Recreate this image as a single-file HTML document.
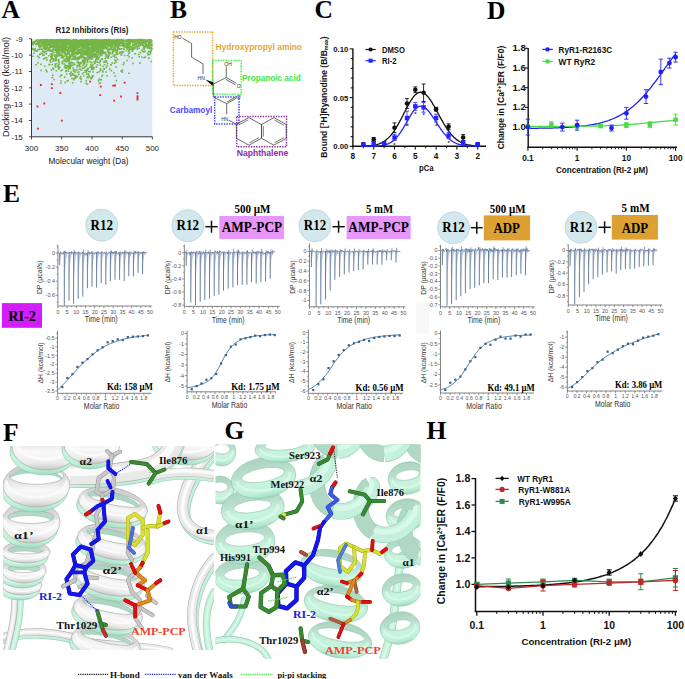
<!DOCTYPE html>
<html><head><meta charset="utf-8"><style>
html,body{margin:0;padding:0;background:#fff;}
body{width:685px;height:679px;overflow:hidden;}
svg{display:block;}
.ls{font-family:'Liberation Sans',sans-serif}
.lf{font-family:'Liberation Serif',serif}
.b{font-weight:bold}
</style></head><body>
<svg width="685" height="679" viewBox="0 0 685 679">
<rect width="685" height="679" fill="#fff"/>
<text x="1.5" y="18.3" class="lf b" font-size="25.5">A</text>
<text x="170" y="18.2" class="lf b" font-size="25.5">B</text>
<text x="314.5" y="18.3" class="lf b" font-size="25.5">C</text>
<text x="487" y="18.6" class="lf b" font-size="25.5">D</text>
<text x="3" y="201.5" class="lf b" font-size="25.5">E</text>
<text x="3" y="441" class="lf b" font-size="25.5">F</text>
<text x="224.5" y="438.8" class="lf b" font-size="25.5">G</text>
<text x="426.5" y="438.8" class="lf b" font-size="25.5">H</text>
<rect x="31.5" y="38.8" width="120.9" height="98.00000000000001" fill="#deebf6"/>
<path d="M59.5 46.4h.1M53.8 45.6h.1M127.4 40.2h.1M113.9 48.1h.1M101.2 79.7h.1M110.6 47.1h.1M106.7 40.1h.1M81.3 43.2h.1M54.5 55.2h.1M84.2 52.9h.1M65.4 43.2h.1M151.9 48.6h.1M69.6 42.7h.1M57.0 40.3h.1M79.9 64.1h.1M121.6 39.6h.1M67.0 67.0h.1M101.6 40.4h.1M125.6 41.4h.1M75.8 44.8h.1M123.1 40.4h.1M85.2 60.2h.1M83.4 50.3h.1M92.2 41.3h.1M45.6 43.3h.1M113.4 41.9h.1M128.6 41.6h.1M57.0 44.1h.1M109.1 40.5h.1M57.3 42.3h.1M71.3 43.9h.1M104.3 42.2h.1M76.4 47.4h.1M90.0 50.2h.1M53.6 41.0h.1M130.4 41.2h.1M94.9 54.9h.1M55.3 65.4h.1M104.5 44.6h.1M135.8 41.0h.1M62.6 57.6h.1M67.0 41.8h.1M134.6 44.5h.1M92.8 69.1h.1M96.7 46.1h.1M80.5 42.1h.1M67.7 44.8h.1M150.0 44.9h.1M102.2 41.1h.1M73.3 39.8h.1M116.2 61.9h.1M61.4 52.8h.1M42.7 54.2h.1M116.6 50.2h.1M74.0 54.2h.1M136.8 42.4h.1M135.9 44.0h.1M77.7 50.9h.1M41.2 70.4h.1M119.5 42.7h.1M101.7 45.3h.1M41.6 39.8h.1M89.6 42.9h.1M91.6 51.1h.1M62.4 39.7h.1M67.9 52.7h.1M102.8 49.9h.1M122.3 52.9h.1M70.9 46.5h.1M142.0 50.2h.1M65.5 49.3h.1M96.3 59.8h.1M117.5 59.4h.1M99.0 41.6h.1M76.1 46.5h.1M91.2 44.2h.1M150.2 42.6h.1M94.4 40.0h.1M36.5 44.4h.1M79.8 41.5h.1M74.3 39.9h.1M60.2 41.1h.1M61.5 49.6h.1M129.1 56.9h.1M55.6 45.2h.1M60.5 39.7h.1M75.4 43.7h.1M64.6 52.5h.1M49.6 43.3h.1M141.1 40.1h.1M118.8 40.5h.1M53.2 47.6h.1M77.1 50.5h.1M127.8 55.5h.1M69.6 54.8h.1M109.1 49.9h.1M66.0 65.3h.1M149.7 43.4h.1M70.2 68.5h.1M73.6 40.7h.1M41.3 39.8h.1M39.2 40.7h.1M66.4 57.0h.1M95.1 54.2h.1M114.8 60.0h.1M100.9 69.4h.1M83.7 44.1h.1M108.7 45.7h.1M99.2 43.5h.1M106.3 55.9h.1M56.7 56.6h.1M94.9 49.3h.1M52.2 47.0h.1M72.6 82.8h.1M45.2 45.1h.1M102.8 50.8h.1M55.6 66.9h.1M64.0 46.5h.1M72.9 46.7h.1M140.4 42.9h.1M90.1 71.6h.1M108.4 52.1h.1M84.3 54.7h.1M94.1 44.7h.1M44.2 48.2h.1M61.2 41.8h.1M77.5 47.0h.1M54.5 41.1h.1M93.2 51.3h.1M95.5 61.1h.1M135.1 41.0h.1M129.5 52.2h.1M58.0 41.9h.1M138.8 40.3h.1M126.4 46.9h.1M114.2 43.5h.1M46.7 43.2h.1M141.7 56.9h.1M103.5 46.2h.1M92.3 53.4h.1M88.5 40.1h.1M93.7 49.4h.1M83.3 42.3h.1M116.2 57.4h.1M103.1 53.4h.1M71.0 47.3h.1M50.5 39.7h.1M133.6 40.7h.1M91.9 55.8h.1M83.3 49.0h.1M91.6 66.6h.1M116.7 52.8h.1M80.4 51.6h.1M119.9 41.5h.1M121.5 48.8h.1M80.5 69.3h.1M115.5 49.7h.1M80.6 56.4h.1M74.1 44.9h.1M100.1 50.0h.1M59.6 67.4h.1M72.3 52.9h.1M95.9 45.1h.1M109.1 49.4h.1M150.0 39.7h.1M120.8 41.4h.1M80.1 40.3h.1M71.2 43.1h.1M98.0 47.2h.1M129.4 40.0h.1M123.3 39.9h.1M50.8 44.5h.1M86.0 48.4h.1M38.6 42.8h.1M60.7 42.9h.1M99.3 43.1h.1M67.3 39.8h.1M66.0 40.1h.1M79.3 69.3h.1M37.6 56.3h.1M55.8 60.2h.1M87.3 49.0h.1M118.9 43.7h.1M130.2 44.6h.1M60.7 41.9h.1M60.8 47.1h.1M46.7 43.8h.1M90.6 50.3h.1M120.3 41.3h.1M50.8 56.7h.1M107.1 43.4h.1M66.9 49.8h.1M122.6 40.9h.1M51.5 69.9h.1M137.7 39.8h.1M75.5 52.1h.1M102.6 47.1h.1M108.2 46.3h.1M76.6 48.0h.1M96.5 44.3h.1M132.9 40.0h.1M90.3 57.6h.1M48.7 43.6h.1M86.7 53.1h.1M70.8 49.3h.1M142.8 42.4h.1M58.2 40.6h.1M90.1 53.8h.1M80.1 42.7h.1M115.4 41.9h.1M69.6 44.9h.1M75.8 41.2h.1M100.3 65.1h.1M141.9 42.5h.1M68.3 44.1h.1M123.3 41.3h.1M59.2 44.0h.1M60.6 41.8h.1M127.9 43.9h.1M99.5 41.6h.1M138.0 41.3h.1M92.5 48.2h.1M128.7 40.0h.1M54.0 52.5h.1M111.4 57.2h.1M97.1 50.6h.1M77.8 43.3h.1M45.4 49.3h.1M80.8 45.0h.1M112.8 44.6h.1M55.7 50.7h.1M142.1 42.3h.1M112.1 54.0h.1M132.3 51.2h.1M108.9 45.7h.1M128.5 42.6h.1M108.7 41.1h.1M61.6 75.0h.1M87.3 44.3h.1M54.9 41.3h.1M46.8 43.9h.1M141.4 39.8h.1M85.1 43.1h.1M103.4 42.0h.1M93.4 43.5h.1M79.6 50.0h.1M89.5 43.4h.1M142.0 41.7h.1M58.8 69.3h.1M80.0 78.1h.1M78.0 49.3h.1M85.9 43.7h.1M111.0 41.7h.1M56.8 53.9h.1M104.8 41.2h.1M82.4 44.7h.1M97.5 50.6h.1M63.7 47.7h.1M58.4 53.3h.1M97.9 58.1h.1M43.2 43.8h.1M108.0 55.9h.1M70.2 58.3h.1M87.3 61.8h.1M73.6 49.5h.1M102.5 43.2h.1M114.9 40.2h.1M43.0 42.5h.1M44.3 42.9h.1M86.1 83.3h.1M110.6 39.7h.1M74.4 50.1h.1M62.3 39.7h.1M128.2 40.9h.1M66.6 44.9h.1M72.4 45.8h.1M62.5 41.9h.1M71.3 75.0h.1M119.0 42.2h.1M42.7 40.6h.1M98.5 51.6h.1M53.2 43.8h.1M103.2 40.5h.1M85.2 46.4h.1M88.5 71.4h.1M45.6 49.4h.1M78.2 44.8h.1M76.2 39.8h.1M58.5 54.2h.1M105.1 39.8h.1M72.3 45.5h.1M69.8 58.1h.1M105.4 41.2h.1M140.7 43.6h.1M65.9 53.5h.1M93.9 54.2h.1M55.3 64.6h.1M55.4 40.4h.1M78.6 50.8h.1M71.3 71.9h.1M67.1 81.0h.1M81.4 70.2h.1M51.3 42.0h.1M151.4 48.0h.1M46.3 51.5h.1M67.7 65.8h.1M59.3 40.4h.1M107.5 63.4h.1M68.7 52.6h.1M77.6 51.2h.1M139.9 40.4h.1M65.8 47.8h.1M72.6 50.0h.1M74.6 53.7h.1M73.7 79.8h.1M88.3 46.3h.1M114.8 49.6h.1M134.9 42.3h.1M33.0 43.7h.1M58.6 61.6h.1M113.4 56.3h.1M103.7 52.6h.1M91.1 50.5h.1M96.4 47.4h.1M96.3 40.2h.1M95.1 42.7h.1M65.3 40.4h.1M148.3 45.0h.1M82.4 61.0h.1M88.9 56.8h.1M140.7 40.1h.1M46.5 44.9h.1M72.4 40.4h.1M130.1 42.3h.1M98.0 49.0h.1M126.9 41.7h.1M88.2 73.8h.1M88.6 42.5h.1M121.9 40.9h.1M74.3 47.7h.1M55.8 58.1h.1M55.9 48.4h.1M84.0 41.1h.1M69.3 66.9h.1M117.7 40.6h.1M144.9 42.5h.1M73.6 42.8h.1M74.9 42.2h.1M63.9 51.3h.1M76.5 53.6h.1M102.8 42.1h.1M109.2 42.2h.1M42.4 43.3h.1M63.5 47.6h.1M63.4 42.7h.1M61.2 42.9h.1M67.6 42.0h.1M150.9 39.8h.1M78.7 74.1h.1M56.0 41.4h.1M109.5 43.2h.1M126.2 43.7h.1M98.3 47.4h.1M52.5 51.7h.1M49.9 46.6h.1M41.8 49.3h.1M93.1 47.5h.1M55.0 39.9h.1M117.9 45.2h.1M53.3 41.0h.1M65.6 47.2h.1M61.9 55.9h.1M85.1 70.3h.1M97.2 56.7h.1M90.7 40.1h.1M94.4 50.8h.1M75.8 40.8h.1M52.2 42.0h.1M109.1 49.1h.1M126.6 40.0h.1M68.1 80.4h.1M90.7 47.8h.1M150.7 40.4h.1M78.4 43.2h.1M48.6 43.2h.1M72.2 46.4h.1M120.2 41.2h.1M95.0 48.8h.1M91.4 44.6h.1M105.4 40.0h.1M74.0 44.9h.1M136.0 44.2h.1M87.4 45.9h.1M77.6 59.3h.1M72.2 44.9h.1M65.6 42.1h.1M74.4 47.6h.1M135.8 40.8h.1M102.4 40.3h.1M75.4 43.7h.1M86.1 46.0h.1M118.0 41.7h.1M95.0 41.5h.1M75.0 58.1h.1M141.2 39.7h.1M71.5 65.8h.1M85.0 58.6h.1M100.3 42.4h.1M86.4 41.7h.1M66.7 53.5h.1M75.3 56.1h.1M49.3 41.3h.1M73.2 45.7h.1M58.8 42.9h.1M55.9 41.7h.1M110.7 46.1h.1M149.5 41.4h.1M142.6 40.8h.1M112.1 62.9h.1M59.9 49.3h.1M83.6 46.9h.1M99.6 43.7h.1M87.0 43.8h.1M57.3 41.3h.1M60.5 40.6h.1M93.7 46.0h.1M47.6 45.3h.1M60.9 40.3h.1M104.0 47.8h.1M87.7 44.6h.1M99.6 62.6h.1M63.2 51.2h.1M81.8 47.9h.1M146.9 41.8h.1M145.4 46.9h.1M106.6 44.2h.1M71.6 65.5h.1M121.3 54.3h.1M96.6 43.7h.1M99.2 78.9h.1M84.5 54.4h.1M94.1 39.6h.1M65.3 47.1h.1M97.8 50.2h.1M132.0 57.9h.1M89.2 44.9h.1M69.4 54.5h.1M114.5 63.1h.1M50.8 47.0h.1M58.3 42.8h.1M96.1 42.6h.1M70.0 44.3h.1M66.8 40.4h.1M77.6 41.0h.1M45.1 43.6h.1M89.6 41.8h.1M136.7 39.9h.1M61.9 52.4h.1M76.7 44.9h.1M133.4 48.8h.1M82.3 55.6h.1M132.0 48.1h.1M54.2 41.8h.1M102.5 39.7h.1M145.3 57.1h.1M69.5 51.5h.1M56.5 63.7h.1M37.4 40.3h.1M114.9 42.4h.1M53.2 43.4h.1M71.7 59.4h.1M65.8 45.1h.1M124.0 62.6h.1M68.7 58.5h.1M51.6 41.1h.1M94.6 47.3h.1M71.6 44.4h.1M66.9 50.8h.1M73.5 42.9h.1M66.8 40.2h.1M91.9 66.4h.1M91.5 47.6h.1M55.9 57.3h.1M85.5 46.5h.1M79.4 40.4h.1M110.9 47.2h.1M121.2 71.1h.1M61.4 57.7h.1M52.8 39.8h.1M85.3 45.4h.1M69.0 48.1h.1M84.8 42.7h.1M32.8 48.6h.1M120.4 42.8h.1M131.6 47.3h.1M43.7 59.0h.1M73.8 69.8h.1M61.9 48.4h.1M61.8 50.5h.1M75.6 52.6h.1M92.9 43.5h.1M70.4 40.8h.1M77.8 57.2h.1M62.8 51.5h.1M88.7 45.0h.1M86.5 39.7h.1M62.0 47.5h.1M56.2 58.4h.1M90.2 56.9h.1M102.9 70.9h.1M76.7 46.4h.1M53.0 42.2h.1M146.1 41.5h.1M77.2 53.0h.1M132.8 44.6h.1M135.0 44.7h.1M68.4 60.8h.1M86.3 53.6h.1M74.0 45.7h.1M54.5 45.7h.1M60.9 49.4h.1M52.9 61.3h.1M61.6 46.0h.1M120.7 41.9h.1M151.1 42.1h.1M46.8 71.6h.1M83.0 53.3h.1M131.8 48.1h.1M122.4 69.9h.1M103.5 42.3h.1M86.4 49.5h.1M55.2 42.4h.1M40.4 49.0h.1M52.3 41.8h.1M134.9 47.2h.1M112.7 40.8h.1M55.7 40.5h.1M52.6 54.0h.1M116.5 41.0h.1M97.2 64.9h.1M52.8 75.2h.1M46.3 48.5h.1M44.6 46.9h.1M99.5 43.5h.1M65.2 49.7h.1M53.3 40.7h.1M87.9 41.4h.1M80.7 76.6h.1M74.7 42.4h.1M115.1 48.9h.1M70.0 41.5h.1M82.8 62.0h.1M100.5 45.8h.1M98.4 52.5h.1M71.1 50.1h.1M91.8 62.8h.1M86.5 74.3h.1M65.1 54.5h.1M85.7 40.5h.1M73.8 78.5h.1M102.9 50.9h.1M61.1 44.9h.1M92.5 46.1h.1M68.0 59.5h.1M102.9 47.1h.1M86.5 45.4h.1M72.7 55.6h.1M73.1 68.1h.1M34.3 43.1h.1M59.1 50.2h.1M148.8 58.1h.1M79.3 62.6h.1M116.3 80.6h.1M83.0 47.7h.1M65.3 44.7h.1M48.8 40.3h.1M101.9 49.9h.1M121.2 41.4h.1M119.9 49.0h.1M74.6 64.5h.1M139.8 39.7h.1M79.5 49.6h.1M109.7 42.5h.1M104.7 40.8h.1M47.2 40.3h.1M67.8 42.9h.1M117.0 40.0h.1M50.6 44.3h.1M44.1 52.0h.1M87.4 84.2h.1M52.3 55.5h.1M81.5 39.8h.1M96.2 58.6h.1M117.7 40.7h.1M89.6 44.1h.1M109.2 54.8h.1M80.6 46.6h.1M77.9 72.2h.1M89.8 47.9h.1M138.7 54.4h.1M92.1 67.7h.1M67.2 43.0h.1M114.5 43.6h.1M63.3 45.9h.1M97.6 59.1h.1M50.2 43.5h.1M73.6 40.9h.1M68.2 42.7h.1M90.4 39.7h.1M102.9 71.9h.1M46.3 45.9h.1M68.7 50.0h.1M108.5 45.3h.1M78.8 40.9h.1M71.1 43.4h.1M82.9 65.2h.1M70.9 40.7h.1M132.0 41.7h.1M112.5 52.3h.1M109.2 40.1h.1M37.3 44.2h.1M108.7 39.8h.1M122.5 44.8h.1M76.7 54.3h.1M142.3 40.0h.1M84.8 57.6h.1M54.8 44.7h.1M93.5 55.1h.1M92.3 41.1h.1M112.0 45.6h.1M93.2 75.8h.1M143.0 40.8h.1M92.1 48.8h.1M46.4 53.8h.1M102.6 44.2h.1M143.7 43.0h.1M78.4 59.2h.1M83.4 57.3h.1M65.4 44.3h.1M70.7 44.8h.1M94.4 45.3h.1M133.3 41.9h.1M73.2 43.4h.1M101.0 42.6h.1M62.8 57.7h.1M73.5 51.7h.1M149.5 51.5h.1M54.7 45.3h.1M78.9 44.4h.1M35.7 44.3h.1M71.8 41.6h.1M124.0 49.2h.1M68.0 57.3h.1M87.6 51.5h.1M105.6 52.5h.1M140.2 52.6h.1M75.5 78.1h.1M66.7 61.6h.1M63.5 42.6h.1M61.6 43.1h.1M74.6 41.4h.1M76.0 43.8h.1M97.3 62.1h.1M107.3 47.6h.1M43.8 48.2h.1M51.0 51.1h.1M75.3 59.4h.1M57.5 51.5h.1M92.6 49.5h.1M85.1 43.0h.1M44.8 58.3h.1M40.2 40.3h.1M46.0 70.1h.1M84.3 53.8h.1M72.8 40.0h.1M150.3 45.3h.1M126.4 43.7h.1M64.2 47.6h.1M76.2 48.5h.1M72.0 47.8h.1M55.7 45.4h.1M149.1 43.7h.1M72.2 54.6h.1M149.5 54.4h.1M135.3 53.7h.1M98.4 46.8h.1M114.4 46.3h.1M144.3 40.1h.1M84.3 41.2h.1M147.2 39.7h.1M77.2 62.5h.1M94.3 49.6h.1M129.2 39.6h.1M95.8 59.7h.1M76.4 58.5h.1M81.9 51.1h.1M61.1 45.7h.1M108.2 57.3h.1M89.0 47.8h.1M71.7 43.0h.1M63.0 47.3h.1M92.9 64.4h.1M80.8 44.8h.1M113.0 51.1h.1M98.0 40.5h.1M61.1 42.1h.1M100.7 44.1h.1M151.2 42.0h.1M77.2 59.8h.1M72.4 58.9h.1M71.5 56.2h.1M108.6 53.6h.1M56.2 40.2h.1M48.8 41.3h.1M147.6 52.9h.1M78.8 74.4h.1M66.4 42.0h.1M138.2 46.2h.1M86.4 45.6h.1M70.8 40.5h.1M132.4 41.9h.1M73.5 41.3h.1M92.3 48.9h.1M123.7 44.0h.1M64.5 67.5h.1M114.8 40.8h.1M61.2 55.4h.1M87.1 51.4h.1M87.7 42.3h.1M149.7 39.7h.1M79.9 40.3h.1M70.7 41.9h.1M57.1 39.8h.1M86.9 53.1h.1M52.9 41.2h.1M76.4 43.5h.1M76.2 47.8h.1M69.8 44.9h.1M101.7 44.9h.1M85.0 47.6h.1M93.0 72.0h.1M138.1 40.5h.1M96.2 42.6h.1M50.6 62.0h.1M111.0 40.4h.1M73.5 49.9h.1M103.1 44.1h.1M65.7 47.2h.1M49.6 44.2h.1M64.1 47.0h.1M83.8 62.6h.1M62.3 63.6h.1M62.7 45.4h.1M145.9 43.0h.1M67.5 47.6h.1M121.3 41.0h.1M99.6 79.4h.1M114.3 50.9h.1M129.4 48.4h.1M42.9 50.3h.1M80.6 39.9h.1M130.2 41.9h.1M105.3 61.3h.1M109.4 40.2h.1M44.7 66.2h.1M69.1 42.0h.1M123.2 64.4h.1M46.6 48.6h.1M105.1 53.5h.1M100.3 68.8h.1M91.0 45.5h.1M49.6 39.8h.1M83.3 53.4h.1M115.5 44.6h.1M62.8 42.9h.1M57.7 65.8h.1M50.6 59.6h.1M66.6 73.9h.1M147.9 47.0h.1M73.5 48.0h.1M106.1 57.0h.1M85.1 50.8h.1M74.6 40.3h.1M86.4 49.2h.1M108.8 44.0h.1M81.0 81.4h.1M104.6 44.8h.1M123.7 44.4h.1M144.9 51.2h.1M58.4 41.6h.1M64.5 53.3h.1M70.1 57.1h.1M116.9 43.7h.1M99.1 72.0h.1M94.8 53.2h.1M95.4 49.2h.1M80.2 53.3h.1M105.9 40.0h.1M47.0 40.0h.1M96.1 39.8h.1M58.6 40.7h.1M134.5 43.1h.1M95.0 43.7h.1M96.9 45.4h.1M58.2 59.9h.1M87.9 47.1h.1M43.8 43.3h.1M65.8 45.5h.1M108.1 52.0h.1M32.0 42.1h.1M149.5 47.2h.1M86.5 53.8h.1M67.3 54.3h.1M110.8 48.2h.1M69.3 57.0h.1M65.1 82.4h.1M77.6 46.6h.1M62.9 49.5h.1M74.6 46.1h.1M55.3 60.6h.1M41.7 42.7h.1M117.6 49.0h.1M101.5 42.5h.1M99.4 47.8h.1M48.0 50.4h.1M57.4 51.4h.1M64.7 48.7h.1M64.8 50.3h.1M111.7 42.2h.1M82.3 41.7h.1M87.2 49.2h.1M100.3 70.8h.1M79.1 58.2h.1M67.7 53.1h.1M77.5 43.8h.1M112.1 45.4h.1M55.0 41.0h.1M102.5 59.5h.1M61.7 41.6h.1M113.7 49.3h.1M99.6 46.6h.1M34.9 50.5h.1M68.4 44.4h.1M57.9 45.5h.1M44.6 43.5h.1M100.4 49.1h.1M58.5 42.0h.1M49.7 64.4h.1M56.0 55.0h.1M113.4 41.0h.1M87.6 55.1h.1M113.2 41.5h.1M47.3 41.4h.1M37.2 40.0h.1M97.2 49.2h.1M99.3 83.1h.1M135.8 39.9h.1M84.5 39.9h.1M52.8 42.2h.1M115.6 42.3h.1M71.5 45.0h.1M107.3 42.1h.1M78.4 44.4h.1M64.0 40.9h.1M88.2 48.6h.1M82.8 68.1h.1M106.8 48.9h.1M92.0 46.0h.1M52.8 45.7h.1M78.0 59.8h.1M58.6 39.8h.1M118.8 45.8h.1M86.8 42.3h.1M132.6 45.7h.1M121.5 43.3h.1M33.9 53.3h.1M97.2 47.5h.1M63.2 60.4h.1M78.1 41.7h.1M71.5 49.7h.1M84.2 58.3h.1M101.9 41.5h.1M70.1 67.2h.1M57.7 45.0h.1M63.0 50.0h.1M104.4 41.9h.1M57.4 40.3h.1M71.9 78.5h.1M43.7 46.2h.1M93.2 56.3h.1M44.8 39.8h.1M48.5 41.2h.1M92.1 77.6h.1M100.9 42.6h.1M53.8 48.0h.1M144.6 39.8h.1M77.8 62.1h.1M75.4 48.3h.1M60.5 42.8h.1M113.0 40.1h.1M64.3 42.5h.1M98.6 80.8h.1M107.4 43.7h.1M91.2 40.4h.1M49.1 43.2h.1M80.3 44.8h.1M50.7 44.9h.1M99.8 42.4h.1M77.2 65.5h.1M69.5 42.1h.1M96.4 54.8h.1M118.8 40.0h.1M49.4 40.9h.1M52.1 39.8h.1M77.6 40.8h.1M96.4 67.1h.1M53.0 40.6h.1M82.7 42.5h.1M51.8 41.1h.1M89.1 45.5h.1M53.8 43.7h.1M67.3 40.1h.1M54.9 43.1h.1M101.9 44.5h.1M58.8 66.1h.1M51.8 43.3h.1M141.3 39.8h.1M102.8 42.9h.1M126.3 46.4h.1M54.0 43.8h.1M124.1 40.3h.1M121.0 51.9h.1M32.9 44.3h.1M110.8 64.7h.1M43.0 42.9h.1M47.4 50.3h.1M65.8 43.9h.1M54.6 44.6h.1M150.8 41.1h.1M65.2 52.6h.1M87.6 49.9h.1M66.2 39.6h.1M99.1 43.0h.1M108.6 40.2h.1M59.6 45.9h.1M135.1 53.7h.1M78.9 44.6h.1M64.1 46.3h.1M49.9 51.0h.1M56.0 48.0h.1M113.5 39.9h.1M93.8 49.5h.1M148.5 39.9h.1M112.6 39.9h.1M94.4 48.8h.1M76.5 41.2h.1M47.5 40.9h.1M66.9 50.1h.1M73.1 41.2h.1M119.6 53.2h.1M101.9 59.1h.1M149.4 41.3h.1M108.0 44.9h.1M76.3 47.9h.1M56.6 46.0h.1M62.3 41.1h.1M114.0 73.0h.1M66.6 46.5h.1M86.3 72.1h.1M57.0 44.2h.1M150.0 42.1h.1M72.9 41.6h.1M66.8 50.1h.1M85.2 44.1h.1M90.8 39.8h.1M89.9 41.4h.1M68.4 65.4h.1M39.3 41.0h.1M72.8 73.7h.1M74.1 41.6h.1M44.7 39.9h.1M88.3 68.6h.1M56.5 40.0h.1M88.4 44.1h.1M56.7 48.8h.1M128.3 44.9h.1M52.8 50.0h.1M127.6 39.8h.1M97.1 72.4h.1M61.6 47.7h.1M100.9 41.5h.1M123.3 42.0h.1M66.4 46.6h.1M43.7 40.3h.1M91.1 52.2h.1M54.8 43.5h.1M109.6 40.7h.1M103.8 48.5h.1M105.1 58.5h.1M80.7 53.3h.1M73.7 46.3h.1M65.8 44.4h.1M128.2 45.8h.1M78.2 53.0h.1M61.5 43.4h.1M94.2 43.8h.1M99.2 62.8h.1M104.2 42.3h.1M58.8 59.4h.1M63.4 43.2h.1M81.2 43.9h.1M35.1 48.6h.1M82.8 40.7h.1M104.4 39.8h.1M89.5 50.9h.1M102.1 43.9h.1M75.0 72.1h.1M100.9 41.0h.1M42.4 44.7h.1M83.9 40.9h.1M118.3 45.2h.1M147.1 46.6h.1M88.7 58.5h.1M50.6 45.4h.1M138.0 43.3h.1M114.8 45.5h.1M131.3 40.1h.1M91.6 78.1h.1M82.6 47.2h.1M61.6 54.8h.1M71.3 62.4h.1M118.4 40.1h.1M105.0 52.9h.1M112.1 43.6h.1M86.1 43.4h.1M44.4 40.6h.1M103.1 46.8h.1M31.9 49.3h.1M101.9 76.5h.1M114.7 49.5h.1M144.8 40.8h.1M87.2 68.9h.1M88.8 41.3h.1M93.0 42.9h.1M118.5 49.3h.1M53.8 43.4h.1M85.6 54.5h.1M71.0 49.8h.1M100.5 44.1h.1M85.0 40.7h.1M119.6 39.8h.1M63.1 44.4h.1M98.6 58.9h.1M101.9 41.5h.1M117.6 41.3h.1M127.1 40.1h.1M82.4 44.6h.1M120.6 41.8h.1M62.7 56.0h.1M99.1 57.0h.1M104.2 69.2h.1M52.2 77.4h.1M82.6 44.3h.1M67.7 60.6h.1M56.1 59.7h.1M93.1 40.2h.1M72.3 74.9h.1M130.6 40.0h.1M101.7 52.5h.1M79.8 40.3h.1M86.9 49.7h.1M61.2 39.8h.1M72.1 47.9h.1M71.1 43.4h.1M73.1 41.1h.1M97.2 46.8h.1M94.4 46.4h.1M63.7 39.9h.1M85.1 48.4h.1M50.1 50.1h.1M90.1 67.2h.1M113.0 44.2h.1M36.5 43.8h.1M135.2 39.9h.1M106.0 47.6h.1M37.5 42.3h.1M51.4 46.1h.1M79.3 56.9h.1M52.0 56.6h.1M84.6 66.9h.1M64.8 40.5h.1M119.9 40.0h.1M95.3 40.0h.1M115.5 42.5h.1M119.0 40.5h.1M43.3 41.7h.1M44.8 42.3h.1M54.5 47.2h.1M144.1 51.4h.1M59.1 42.3h.1M82.8 53.1h.1M88.6 42.6h.1M133.1 39.8h.1M79.9 43.2h.1M140.0 41.2h.1M138.6 46.0h.1M66.0 54.9h.1M93.1 43.3h.1M68.0 51.4h.1M61.3 75.1h.1M87.3 77.7h.1M133.2 49.5h.1M100.0 40.4h.1M132.5 49.2h.1M136.4 39.9h.1M90.5 67.1h.1M85.5 54.1h.1M115.4 42.8h.1M39.7 47.3h.1M87.4 42.5h.1M66.4 40.9h.1M52.4 43.7h.1M81.0 46.6h.1M141.9 45.3h.1M94.7 62.8h.1M120.0 45.6h.1M74.0 53.3h.1M86.1 54.3h.1M112.2 46.6h.1M147.5 47.9h.1M87.1 39.8h.1M108.7 55.9h.1M75.4 39.7h.1M107.0 75.8h.1M134.6 47.3h.1M87.4 68.5h.1M99.0 44.1h.1M79.2 43.8h.1M43.3 41.9h.1M80.1 41.4h.1M82.6 60.7h.1M93.7 48.4h.1M76.5 39.8h.1M93.8 47.4h.1M67.0 43.1h.1M98.2 43.2h.1M124.6 46.6h.1M136.3 46.5h.1M87.2 41.4h.1M133.0 63.4h.1M50.6 46.0h.1M104.6 40.9h.1M93.2 43.3h.1M78.0 40.6h.1M62.9 42.2h.1M62.9 51.0h.1M151.3 50.4h.1M62.1 57.4h.1M66.1 49.3h.1M124.1 40.4h.1M95.2 39.6h.1M38.8 49.7h.1M111.3 44.1h.1M76.6 49.2h.1M113.5 40.5h.1M116.3 42.3h.1M101.5 44.9h.1M72.5 43.6h.1M95.0 56.4h.1M65.0 41.9h.1M116.0 67.0h.1M69.9 50.9h.1M147.0 41.4h.1M81.0 40.0h.1M91.4 46.2h.1M97.7 58.6h.1M72.6 41.0h.1M42.5 39.9h.1M59.6 50.8h.1M119.4 41.4h.1M49.0 64.6h.1M143.1 43.5h.1M44.4 40.1h.1M115.7 39.9h.1M74.3 40.7h.1M85.7 51.9h.1M43.2 44.5h.1M102.1 45.3h.1M63.2 57.8h.1M46.7 39.6h.1M96.4 53.5h.1M115.5 41.4h.1M104.0 45.7h.1M69.2 53.6h.1M75.4 40.3h.1M119.7 53.0h.1M61.0 81.0h.1M70.4 42.4h.1M114.5 46.2h.1M99.4 40.9h.1M48.1 40.6h.1M109.3 52.6h.1M48.1 42.2h.1M73.2 64.9h.1M129.2 43.2h.1M132.4 48.9h.1M57.6 43.5h.1M79.0 58.4h.1M97.6 45.7h.1M148.6 46.6h.1M143.2 41.2h.1M39.2 57.6h.1M77.0 41.7h.1M39.4 40.1h.1M94.2 61.8h.1M44.4 43.4h.1M85.9 46.3h.1M49.7 44.2h.1M85.5 46.7h.1M85.0 62.3h.1M136.3 43.7h.1M71.4 50.4h.1M108.0 40.0h.1M122.0 43.0h.1M145.6 44.1h.1M106.8 44.2h.1M56.5 41.7h.1M87.1 40.0h.1M136.8 40.5h.1M63.3 49.6h.1M121.8 41.6h.1M66.5 55.6h.1M70.7 64.2h.1M139.3 41.8h.1M101.9 42.5h.1M69.0 41.0h.1M65.5 40.8h.1M48.7 49.8h.1M67.7 44.8h.1M131.7 49.1h.1M104.5 64.7h.1M101.9 43.4h.1M63.0 50.3h.1M118.6 41.3h.1M71.3 45.2h.1M95.1 47.9h.1M98.4 51.7h.1M98.3 42.5h.1M54.9 44.6h.1M146.0 41.3h.1M94.2 46.6h.1M81.0 43.0h.1M69.2 42.3h.1M103.2 41.4h.1M104.1 48.7h.1M92.1 51.0h.1M44.5 41.2h.1M102.3 75.2h.1M97.9 55.3h.1M86.5 45.6h.1M75.1 42.2h.1M150.2 43.0h.1M106.6 43.8h.1M118.4 45.8h.1M84.2 57.2h.1M108.2 46.2h.1M99.2 40.6h.1M116.6 43.4h.1M89.7 41.9h.1M70.0 65.8h.1M89.4 55.1h.1M70.3 63.2h.1M128.4 42.9h.1M87.1 41.9h.1M71.6 46.7h.1M45.3 44.8h.1M40.1 42.0h.1M103.9 42.6h.1M65.4 61.8h.1M62.8 43.1h.1M57.4 42.0h.1M51.2 42.1h.1M88.7 59.5h.1M60.2 76.4h.1M93.3 44.4h.1M72.9 54.0h.1M54.7 56.3h.1M95.6 45.4h.1M94.7 48.7h.1M146.4 46.3h.1M60.7 83.2h.1M118.8 41.7h.1M92.5 41.9h.1M81.2 42.0h.1M74.8 40.3h.1M134.8 44.2h.1M112.9 41.6h.1M82.1 48.1h.1M102.1 41.8h.1M66.6 58.0h.1M70.1 42.9h.1M73.4 48.4h.1M59.0 50.7h.1M122.3 72.1h.1M104.0 46.2h.1M78.1 40.8h.1M44.0 39.8h.1M64.0 42.9h.1M85.5 41.7h.1M151.8 44.4h.1M74.6 49.4h.1M132.8 47.7h.1M80.7 41.4h.1M68.1 42.0h.1M65.8 71.5h.1M100.8 45.7h.1M91.0 45.8h.1M142.9 45.4h.1M57.4 44.1h.1M32.3 43.5h.1M75.3 56.4h.1M64.4 49.4h.1M88.5 54.1h.1M84.7 41.1h.1M50.2 41.8h.1M103.5 52.2h.1M70.2 51.5h.1M80.8 39.9h.1M148.1 41.9h.1M90.5 55.8h.1M37.0 40.0h.1M85.7 43.0h.1M40.1 45.2h.1M82.1 42.3h.1M86.6 51.2h.1M59.2 49.5h.1M56.3 55.9h.1M127.7 49.3h.1M114.9 45.2h.1M61.5 49.2h.1M59.6 42.3h.1M63.5 52.2h.1M70.0 44.1h.1M49.3 50.0h.1M129.3 46.6h.1M85.7 47.2h.1M69.4 60.6h.1M92.6 49.3h.1M76.5 43.8h.1M81.2 79.1h.1M129.2 48.1h.1M43.3 39.7h.1M112.9 52.4h.1M53.0 45.3h.1M59.2 55.8h.1M97.2 51.6h.1M78.3 50.9h.1M117.7 43.2h.1M118.8 45.0h.1M53.2 42.4h.1M104.0 68.5h.1M37.1 43.2h.1M86.6 58.0h.1M134.8 43.8h.1M53.4 43.2h.1M49.5 41.8h.1M83.4 40.0h.1M76.8 69.6h.1M111.1 42.2h.1M73.6 63.0h.1M55.4 65.8h.1M53.1 50.3h.1M61.8 43.8h.1M93.4 41.7h.1M112.7 42.8h.1M116.8 51.9h.1M144.0 42.3h.1M101.3 49.3h.1M78.9 46.8h.1M69.6 61.6h.1M49.4 47.7h.1M61.1 70.8h.1M62.7 42.9h.1M99.2 42.5h.1M73.0 53.4h.1M91.4 53.8h.1M42.7 39.9h.1M73.8 43.9h.1M92.4 39.9h.1M79.3 40.9h.1M65.1 43.5h.1M92.7 48.4h.1M120.6 42.7h.1M44.3 43.3h.1M86.0 41.8h.1M57.2 51.6h.1M89.2 42.0h.1M85.1 54.3h.1M75.6 58.0h.1M89.5 43.8h.1M94.4 43.6h.1M86.8 40.1h.1M137.7 43.6h.1M96.7 52.2h.1M78.7 47.1h.1M81.0 53.4h.1M69.8 47.6h.1M65.7 47.9h.1M80.4 42.0h.1M115.0 75.9h.1M120.2 48.8h.1M78.4 46.2h.1M34.6 41.4h.1M120.1 51.9h.1M75.3 53.4h.1M105.9 45.6h.1M69.9 46.0h.1M91.9 48.3h.1M117.3 45.9h.1M110.2 41.2h.1M53.5 45.4h.1M87.8 42.2h.1M94.3 40.1h.1M112.1 41.8h.1M82.7 47.6h.1M110.0 44.6h.1M121.0 41.9h.1M74.4 51.2h.1M40.8 40.8h.1M106.7 48.4h.1M54.0 40.6h.1M106.7 44.2h.1M107.6 41.8h.1M101.6 51.5h.1M40.9 39.7h.1M54.1 39.9h.1M130.8 46.7h.1M63.9 40.5h.1M148.8 51.4h.1M41.8 46.1h.1M123.3 43.7h.1M87.3 47.1h.1M126.8 44.6h.1M64.3 64.0h.1M73.4 40.0h.1M106.4 67.6h.1M119.0 48.7h.1M66.3 42.3h.1M57.3 43.7h.1M98.2 43.7h.1M87.6 62.5h.1M56.2 39.7h.1M83.9 51.7h.1M97.1 40.4h.1M94.7 43.8h.1M80.4 41.8h.1M58.2 50.0h.1M101.3 48.9h.1M78.2 51.3h.1M128.1 43.8h.1M150.7 47.4h.1M63.1 42.9h.1M47.0 41.0h.1M65.4 67.6h.1M95.8 44.3h.1M60.2 40.1h.1M92.0 39.7h.1M77.5 58.9h.1M64.7 77.1h.1M46.0 39.8h.1M72.4 53.6h.1M84.2 40.7h.1M91.9 69.4h.1M83.3 59.5h.1M100.0 41.5h.1M51.7 40.3h.1M64.8 40.2h.1M46.0 40.4h.1M58.1 48.0h.1M79.8 45.2h.1M134.0 45.8h.1M44.4 40.1h.1M53.5 43.2h.1M106.6 41.5h.1M106.1 40.3h.1M81.2 48.9h.1M85.7 44.4h.1M37.8 43.1h.1M108.2 42.5h.1M43.0 55.1h.1M71.1 47.0h.1M54.1 41.3h.1M83.4 52.9h.1M84.7 43.2h.1M109.3 49.2h.1M129.0 50.1h.1M67.2 50.5h.1M98.4 42.4h.1M107.6 40.4h.1M70.1 64.7h.1M49.2 64.4h.1M73.9 44.3h.1M78.8 47.4h.1M82.9 43.1h.1M138.6 43.1h.1M74.2 57.3h.1M74.1 56.6h.1M89.8 41.1h.1M61.9 46.6h.1M103.8 61.9h.1M115.2 49.0h.1M142.6 44.1h.1M98.0 47.8h.1M67.8 42.0h.1M99.9 43.5h.1M108.4 39.6h.1M61.7 51.2h.1M62.9 40.8h.1M149.2 40.1h.1M105.7 48.0h.1M84.1 61.4h.1M128.9 73.3h.1M75.7 42.7h.1M100.4 42.2h.1M118.8 45.3h.1M143.2 40.1h.1M66.7 50.4h.1M67.0 43.8h.1M127.2 60.5h.1M52.2 64.5h.1M65.4 40.8h.1M51.8 42.0h.1M70.5 41.6h.1M62.0 41.0h.1M39.9 42.3h.1M80.5 66.6h.1M120.5 42.2h.1M74.0 75.2h.1M107.2 65.6h.1M94.9 42.0h.1M85.8 53.5h.1M49.9 41.3h.1M119.1 40.2h.1M69.3 44.4h.1M100.5 40.4h.1M146.8 44.6h.1M46.8 46.2h.1M96.4 50.2h.1M147.0 40.3h.1M53.2 40.3h.1M58.6 50.9h.1M126.7 40.4h.1M81.0 49.2h.1M83.7 41.2h.1M47.0 44.9h.1M42.5 41.7h.1M46.5 57.6h.1M69.4 44.7h.1M76.9 42.7h.1M56.7 44.5h.1M84.5 61.4h.1M63.3 45.1h.1M41.7 41.4h.1M70.0 44.6h.1M72.8 43.0h.1M75.6 42.2h.1M114.5 55.1h.1M86.2 48.7h.1M132.4 50.0h.1M97.1 39.9h.1M76.3 45.2h.1M79.8 66.6h.1M72.7 63.0h.1M91.6 46.6h.1M80.4 56.0h.1M108.3 41.7h.1M33.0 48.8h.1M127.7 47.1h.1M34.3 41.6h.1M96.7 47.0h.1M116.7 43.0h.1M52.7 43.1h.1M57.3 40.1h.1M139.1 48.2h.1M79.5 40.4h.1M81.4 40.9h.1M59.7 47.9h.1M57.7 52.1h.1M78.7 71.7h.1M69.3 41.9h.1M138.3 40.3h.1M147.4 41.8h.1M118.6 45.0h.1M62.4 55.3h.1M39.7 46.9h.1M117.6 39.8h.1M125.9 46.7h.1M117.0 43.8h.1M107.9 57.7h.1M94.6 45.6h.1M40.2 54.1h.1M149.4 46.1h.1M42.5 42.9h.1M79.0 41.1h.1M76.6 43.2h.1M58.4 67.3h.1M83.5 41.8h.1M73.9 54.3h.1M91.3 48.2h.1M85.1 43.0h.1M69.6 44.4h.1M74.3 44.1h.1M43.1 44.8h.1M73.0 55.9h.1M71.0 44.3h.1M105.4 45.2h.1M71.2 49.1h.1M64.3 42.1h.1M59.6 40.7h.1M45.1 49.4h.1M137.3 49.2h.1M45.1 42.8h.1M145.4 44.7h.1M72.9 40.8h.1M82.6 53.5h.1M141.7 39.6h.1M110.9 40.4h.1M100.7 55.8h.1M65.3 44.4h.1M66.9 54.5h.1M110.8 39.8h.1M100.8 42.9h.1M102.8 51.0h.1M76.5 52.2h.1M75.7 42.9h.1M112.4 49.7h.1M74.3 48.9h.1M78.4 41.2h.1M63.9 42.2h.1M100.2 40.9h.1M150.6 51.7h.1M92.8 39.8h.1M123.7 45.7h.1M143.4 48.9h.1M73.1 68.3h.1M123.6 48.7h.1M82.6 50.7h.1M100.6 39.9h.1M117.2 44.0h.1M122.9 41.1h.1M136.7 39.7h.1M83.7 64.1h.1M70.3 42.6h.1M127.7 45.4h.1M45.3 41.9h.1M96.3 57.1h.1M151.3 49.8h.1M75.9 49.0h.1M134.7 48.8h.1M130.1 40.7h.1M123.0 40.7h.1M61.1 41.4h.1M57.6 56.0h.1M46.1 47.8h.1M51.8 59.0h.1M64.4 59.8h.1M87.4 70.3h.1M82.1 56.4h.1M70.4 50.4h.1M75.8 40.5h.1M91.2 59.2h.1M87.3 61.1h.1M92.8 39.9h.1M45.0 52.6h.1M107.7 51.0h.1M82.1 40.6h.1M45.1 43.3h.1M45.6 43.1h.1M66.7 59.4h.1M54.9 40.9h.1M100.3 61.1h.1M116.0 42.8h.1M92.2 76.0h.1M71.8 52.0h.1M107.7 41.3h.1M83.3 54.5h.1M56.4 43.7h.1M104.5 45.1h.1M126.1 50.7h.1M72.3 41.3h.1M98.7 45.9h.1M85.9 54.2h.1M91.1 46.0h.1M49.5 46.3h.1M97.2 47.1h.1M56.4 52.3h.1M121.2 45.5h.1M65.9 41.0h.1M55.3 43.7h.1M63.5 60.6h.1M83.5 47.7h.1M77.8 50.7h.1M102.9 66.4h.1M52.4 46.1h.1M106.5 61.8h.1M104.1 61.9h.1M130.2 44.7h.1M91.6 43.8h.1M37.9 62.7h.1M97.2 49.4h.1M93.9 67.2h.1M53.1 58.5h.1M75.0 57.0h.1M69.2 51.4h.1M139.2 42.9h.1M53.1 49.8h.1M43.0 44.1h.1M70.3 43.9h.1M67.5 43.4h.1M135.9 44.9h.1M123.6 42.5h.1M69.6 56.2h.1M138.0 40.0h.1M58.6 40.9h.1M73.4 42.1h.1M96.4 48.1h.1M65.9 50.3h.1M118.6 47.5h.1M88.3 52.4h.1M100.6 51.1h.1M91.0 78.6h.1M52.9 68.1h.1M80.1 43.4h.1M75.3 45.0h.1M100.2 48.4h.1M66.3 70.4h.1M75.9 49.3h.1M70.6 76.0h.1M81.6 43.1h.1M76.2 40.1h.1M73.9 45.3h.1M64.2 46.5h.1M91.9 42.0h.1M52.1 50.3h.1M64.7 42.2h.1M45.7 42.1h.1M65.2 61.2h.1M86.9 49.7h.1M47.3 43.6h.1M42.8 51.8h.1M45.2 43.7h.1M76.7 76.8h.1M68.9 63.5h.1M51.5 53.8h.1M101.5 58.9h.1M81.5 55.7h.1M116.1 52.3h.1M59.9 54.2h.1M110.7 45.0h.1M56.1 46.6h.1M77.9 58.1h.1M65.1 42.0h.1M67.5 47.7h.1M150.3 41.1h.1M100.1 47.1h.1M74.4 51.0h.1M73.9 39.8h.1M80.9 57.2h.1M116.2 54.2h.1M82.7 49.5h.1M68.8 66.8h.1M114.9 45.6h.1M108.3 46.5h.1M77.4 53.1h.1M118.1 47.5h.1M138.0 43.7h.1M53.9 59.8h.1M121.7 43.4h.1M124.5 43.7h.1M95.1 43.7h.1M108.8 40.2h.1M50.8 42.2h.1M89.9 61.4h.1M92.3 65.7h.1M55.1 64.0h.1M96.1 44.6h.1M71.8 43.5h.1M77.9 45.5h.1M87.8 53.4h.1M95.3 43.2h.1M67.4 43.6h.1M68.3 69.1h.1M123.2 46.5h.1M95.2 51.3h.1M60.3 47.2h.1M133.8 41.2h.1M100.1 60.8h.1M77.7 65.5h.1M80.9 46.4h.1M101.6 47.1h.1M104.6 46.3h.1M63.1 44.6h.1M70.8 55.7h.1M122.9 40.3h.1M36.6 40.3h.1M127.8 40.5h.1M74.8 40.0h.1M45.4 41.0h.1M96.3 39.8h.1M128.5 51.5h.1M63.4 50.7h.1M99.1 40.9h.1M81.9 56.8h.1M116.0 46.8h.1M84.1 62.5h.1M53.0 46.0h.1M57.4 40.8h.1M72.8 51.4h.1M140.0 45.4h.1M59.0 49.9h.1M62.8 41.3h.1M104.5 52.2h.1M80.0 50.0h.1M81.3 53.5h.1M82.7 45.9h.1M60.0 40.0h.1M102.7 44.2h.1M36.7 40.2h.1M74.8 43.2h.1M74.5 39.8h.1M81.2 54.5h.1M151.6 41.1h.1M72.9 48.6h.1M105.5 61.0h.1M89.6 45.0h.1M110.4 43.4h.1M42.6 51.6h.1M117.3 43.9h.1M36.8 51.1h.1M52.5 50.4h.1M92.2 57.2h.1M99.0 54.3h.1M97.8 46.3h.1M33.1 42.0h.1M69.2 43.6h.1M50.2 43.7h.1M151.8 45.8h.1M114.6 56.9h.1M105.8 39.8h.1M113.6 43.3h.1M107.0 41.8h.1M50.0 44.3h.1M66.4 42.0h.1M83.7 75.9h.1M80.5 44.8h.1M115.8 60.5h.1M113.7 40.5h.1M51.7 50.2h.1M44.8 39.9h.1M62.3 62.1h.1M66.5 40.2h.1M57.3 43.0h.1M124.8 55.4h.1M84.0 44.6h.1M100.2 53.8h.1M66.7 43.9h.1M75.8 47.6h.1M120.5 43.1h.1M62.2 41.8h.1M124.6 47.0h.1M75.1 77.3h.1M128.3 43.9h.1M88.3 77.6h.1M58.3 67.7h.1M49.4 45.5h.1M134.0 40.7h.1M95.1 45.5h.1M75.7 70.3h.1M119.1 45.0h.1M69.8 40.7h.1M97.2 44.6h.1M89.8 77.0h.1M59.6 45.4h.1M83.8 48.2h.1M76.8 52.4h.1M130.0 43.8h.1M75.9 40.6h.1M92.7 40.1h.1M37.2 40.7h.1M47.2 41.5h.1M117.4 53.8h.1M84.6 40.8h.1M81.0 42.1h.1M104.9 43.7h.1M114.9 50.3h.1M72.0 47.8h.1M100.0 43.3h.1M92.2 47.8h.1M117.5 54.2h.1M147.7 47.8h.1M128.2 40.8h.1M78.6 63.7h.1M116.3 40.6h.1M83.6 72.7h.1M87.0 59.7h.1M62.6 48.2h.1M118.3 41.1h.1M51.6 41.8h.1M50.0 43.6h.1M66.3 44.6h.1M85.3 48.6h.1M71.6 43.3h.1M68.9 41.9h.1M69.6 55.6h.1M66.8 43.9h.1M50.2 40.7h.1M69.8 51.4h.1M71.4 40.9h.1M66.3 61.4h.1M100.0 49.8h.1M81.3 62.9h.1M49.0 41.1h.1M97.5 41.1h.1M34.9 49.6h.1M133.9 41.2h.1M129.9 40.2h.1M73.8 42.6h.1M135.8 40.8h.1M74.0 71.0h.1M91.5 56.9h.1M86.0 42.1h.1M107.5 44.9h.1M87.6 56.7h.1M95.6 44.6h.1M109.5 49.8h.1M85.0 47.6h.1M110.6 41.8h.1M49.1 41.9h.1M44.4 43.2h.1M77.2 54.5h.1M105.2 41.3h.1M64.5 51.3h.1M147.9 54.8h.1M42.2 41.6h.1M76.8 40.6h.1M110.9 42.1h.1M107.8 49.7h.1M77.3 76.5h.1M93.0 41.0h.1M94.2 57.2h.1M81.1 42.6h.1M92.1 46.1h.1M75.9 40.2h.1M103.3 43.0h.1M78.2 44.3h.1M64.5 44.3h.1M110.9 39.9h.1M67.6 43.2h.1M148.7 43.6h.1M98.7 39.8h.1M45.2 51.7h.1M108.3 41.6h.1M138.2 45.6h.1M117.0 39.8h.1M86.2 80.6h.1M111.8 48.0h.1M35.1 41.7h.1M86.2 52.2h.1M50.9 47.1h.1M96.4 51.2h.1M149.5 48.3h.1M75.0 39.8h.1M151.5 42.5h.1M43.2 39.7h.1M64.8 43.0h.1M55.2 49.9h.1M94.8 46.7h.1M62.6 42.2h.1M124.1 45.4h.1M115.5 40.5h.1M147.4 41.0h.1M123.1 51.6h.1M81.0 55.1h.1M86.6 54.9h.1M66.8 46.1h.1M146.4 40.7h.1M41.5 53.2h.1M64.6 52.9h.1M149.7 43.0h.1M91.7 69.1h.1M66.1 45.5h.1M123.0 40.8h.1M151.0 42.1h.1M110.8 49.5h.1M68.2 51.0h.1M88.4 59.0h.1M79.5 66.1h.1M74.6 40.9h.1M65.1 42.2h.1M129.0 39.7h.1M55.1 46.5h.1M132.8 40.4h.1M87.0 47.7h.1M69.5 42.9h.1M73.1 43.3h.1M106.9 40.6h.1M99.6 45.8h.1M80.1 44.1h.1M72.0 47.1h.1M100.4 51.9h.1M73.7 47.9h.1M96.4 40.9h.1M85.8 53.0h.1M103.3 41.7h.1M91.4 43.6h.1M63.3 43.5h.1M81.5 43.2h.1M89.4 55.8h.1M76.6 48.8h.1M100.0 47.0h.1M70.0 47.4h.1M86.0 70.7h.1M139.5 42.6h.1M85.3 45.8h.1M69.2 59.4h.1M143.5 40.6h.1M115.8 45.0h.1M87.5 76.6h.1M75.9 49.5h.1M54.2 59.0h.1M79.9 45.6h.1M61.2 49.3h.1M49.5 47.9h.1M43.6 48.0h.1M58.8 64.2h.1M106.5 54.5h.1M83.4 42.3h.1M68.4 71.2h.1M91.9 57.7h.1M68.2 39.8h.1M144.1 42.2h.1M32.9 44.7h.1M114.7 42.7h.1M32.9 43.8h.1M74.5 41.6h.1M70.0 73.7h.1M103.1 42.1h.1M144.9 41.0h.1M71.7 40.8h.1M61.2 42.3h.1M89.7 49.9h.1M121.3 55.1h.1M45.0 48.6h.1M82.8 41.3h.1M87.7 43.0h.1M126.6 43.5h.1M88.3 56.9h.1M40.8 41.0h.1M93.7 44.2h.1M111.2 42.4h.1M76.5 48.5h.1M37.5 44.3h.1M78.7 53.3h.1M84.4 44.8h.1M111.4 70.7h.1M112.4 45.8h.1M101.0 39.9h.1M76.7 46.5h.1M70.6 73.8h.1M82.6 44.0h.1M59.5 55.5h.1M66.3 68.3h.1M115.2 40.8h.1M149.9 47.9h.1M78.4 53.8h.1M114.5 47.3h.1M80.0 56.7h.1M82.7 47.9h.1M39.8 54.4h.1M65.9 54.3h.1M139.1 56.8h.1M103.7 45.6h.1M61.9 55.9h.1M66.2 46.0h.1M67.5 59.0h.1M61.0 39.6h.1M101.7 53.5h.1M90.8 64.8h.1M60.7 41.0h.1M46.5 40.7h.1M80.4 56.6h.1M57.8 42.1h.1M101.7 55.3h.1M111.2 41.8h.1M139.4 39.6h.1M109.9 41.7h.1M66.0 45.3h.1M116.3 54.5h.1M95.0 41.2h.1M85.2 41.3h.1M115.3 40.0h.1M109.5 53.5h.1M52.1 42.6h.1M110.3 52.7h.1M100.8 50.6h.1M94.5 46.3h.1M90.3 42.2h.1M77.6 43.1h.1M112.4 40.2h.1M84.1 41.0h.1M57.8 47.0h.1M59.4 62.5h.1M70.2 43.8h.1M38.9 43.5h.1M91.9 40.0h.1M102.2 42.9h.1M76.8 46.5h.1M102.8 51.5h.1M99.4 51.9h.1M40.7 44.2h.1M114.8 49.2h.1M101.2 45.9h.1M143.7 46.9h.1M70.9 46.5h.1M140.0 42.7h.1M99.4 47.9h.1M95.9 42.4h.1M92.4 44.0h.1M47.3 47.4h.1M109.1 49.8h.1M35.1 51.0h.1M130.3 49.5h.1M122.8 51.9h.1M55.7 60.8h.1M142.2 51.0h.1M98.8 41.6h.1M115.0 50.5h.1M79.8 46.6h.1M151.9 44.5h.1M79.6 51.9h.1M58.4 52.3h.1M100.7 47.1h.1M93.4 39.8h.1M53.5 69.2h.1M50.9 54.6h.1M37.8 56.3h.1M85.6 54.1h.1M81.0 52.4h.1M70.1 42.4h.1M59.2 40.8h.1M150.4 53.1h.1M117.7 39.7h.1M73.0 50.5h.1M81.6 52.4h.1M73.8 57.3h.1M39.3 49.1h.1M67.6 51.3h.1M81.9 48.5h.1M85.3 45.8h.1M109.7 69.1h.1M128.3 40.3h.1M38.1 40.9h.1M79.4 66.2h.1M72.4 51.0h.1M54.3 49.5h.1M75.6 48.3h.1M100.4 82.9h.1M131.2 39.8h.1M45.0 44.2h.1M41.0 46.8h.1M48.8 45.3h.1M88.8 75.1h.1M96.9 57.6h.1M122.9 42.6h.1M93.1 44.2h.1M87.0 45.5h.1M69.0 68.2h.1M74.4 41.7h.1M51.8 57.4h.1M53.9 79.4h.1M47.9 44.1h.1M35.5 40.9h.1M81.0 56.1h.1M77.2 44.6h.1M80.6 41.2h.1M70.8 72.9h.1M83.9 45.6h.1M84.3 40.6h.1M64.9 66.1h.1M87.9 50.6h.1M110.2 41.8h.1M50.8 44.7h.1M56.6 47.1h.1M61.7 39.8h.1M73.9 59.2h.1M45.0 41.6h.1M76.0 46.3h.1M120.0 43.5h.1M62.3 70.0h.1M128.7 42.1h.1M117.4 44.6h.1M64.4 56.2h.1M65.9 45.4h.1M77.4 53.5h.1M114.5 48.6h.1M50.1 45.5h.1M106.0 72.0h.1M79.6 58.2h.1M36.0 64.7h.1M67.5 66.6h.1M144.3 49.0h.1M88.1 49.1h.1M69.1 46.4h.1M69.1 50.7h.1M86.0 66.1h.1M126.6 47.4h.1M70.7 49.8h.1M77.5 42.7h.1M115.9 40.0h.1M137.7 40.6h.1M64.5 39.8h.1M79.3 65.2h.1M63.6 40.5h.1M71.1 41.3h.1M70.5 47.9h.1M82.9 56.4h.1M103.3 52.4h.1M102.9 41.9h.1M139.6 40.9h.1M66.5 44.6h.1M69.1 61.8h.1M80.8 62.7h.1M79.3 45.3h.1M75.2 44.8h.1M59.3 53.1h.1M135.0 39.8h.1M126.9 48.4h.1M44.4 47.0h.1M90.2 57.5h.1M85.3 45.7h.1M139.9 63.1h.1M63.2 45.4h.1M69.6 45.0h.1M76.9 66.9h.1M93.7 68.6h.1M32.7 56.3h.1M81.0 45.5h.1M100.4 48.7h.1M140.0 43.3h.1M58.7 45.2h.1M111.2 44.9h.1M72.3 52.2h.1M63.1 44.8h.1M81.5 42.9h.1M91.4 55.0h.1M90.6 62.5h.1M88.0 45.6h.1M117.1 39.6h.1M103.4 45.0h.1M107.8 42.8h.1M66.7 46.3h.1M134.5 41.3h.1M56.9 42.4h.1M68.4 49.2h.1M86.8 54.0h.1M62.3 44.1h.1M75.6 75.6h.1M106.0 55.3h.1M90.6 44.9h.1M65.1 58.9h.1M42.5 44.1h.1M63.5 49.2h.1M58.7 54.8h.1M46.5 41.8h.1M108.4 58.1h.1M42.9 40.0h.1M105.9 43.1h.1M87.3 70.0h.1M55.7 49.6h.1M111.0 64.9h.1M89.3 52.6h.1M38.6 44.9h.1M104.2 42.4h.1M57.1 46.9h.1M44.3 40.9h.1M125.4 45.9h.1M95.8 55.5h.1M54.9 43.6h.1M48.4 48.1h.1M84.4 53.2h.1M81.2 43.7h.1M69.6 42.4h.1M71.4 53.9h.1M97.2 41.4h.1M150.5 42.7h.1M61.3 42.9h.1M107.4 43.8h.1M98.2 43.8h.1M73.1 42.0h.1M132.8 40.6h.1M117.6 51.0h.1M65.5 45.5h.1M33.6 49.7h.1M54.9 42.4h.1M55.3 41.0h.1M151.2 61.4h.1M80.9 41.3h.1M81.1 81.7h.1M53.4 43.8h.1M83.0 42.4h.1M85.3 40.1h.1M149.2 42.8h.1M147.2 41.2h.1M147.1 41.4h.1M92.0 52.9h.1M64.2 45.0h.1M56.3 70.7h.1M120.1 48.9h.1M62.3 43.9h.1M85.5 47.9h.1M123.2 40.5h.1M98.1 42.1h.1M56.4 44.9h.1M65.7 40.5h.1M98.4 52.6h.1M91.2 44.0h.1M74.2 44.7h.1M100.4 53.6h.1M75.3 45.4h.1M100.1 47.4h.1M75.1 56.0h.1M65.4 41.8h.1M68.1 47.7h.1M93.3 49.9h.1M82.4 73.7h.1M69.1 44.1h.1M93.2 44.6h.1M82.7 45.5h.1M77.6 51.8h.1M74.3 41.7h.1M56.6 50.5h.1M52.0 50.8h.1M73.4 70.7h.1M54.8 45.8h.1M95.0 63.4h.1M62.8 52.5h.1M118.4 48.8h.1M57.4 49.2h.1M121.7 40.8h.1M139.5 44.9h.1M84.2 51.6h.1M40.9 64.2h.1M96.5 47.6h.1M64.4 40.0h.1M149.2 48.3h.1M68.0 44.1h.1M144.1 39.7h.1M117.4 47.5h.1M67.9 44.6h.1M56.1 41.3h.1M87.3 41.8h.1M94.4 40.9h.1M72.0 42.0h.1M89.4 40.5h.1M114.8 40.5h.1M89.1 41.4h.1M149.2 45.6h.1M83.3 67.8h.1M91.6 57.0h.1M132.3 42.5h.1M58.7 45.8h.1M84.4 63.6h.1M64.2 45.5h.1M105.5 61.8h.1M58.8 48.4h.1M92.8 52.8h.1M75.2 40.6h.1M38.9 46.4h.1M103.2 47.1h.1M98.3 48.1h.1M92.2 58.5h.1M141.3 44.3h.1M105.9 46.8h.1M103.1 44.1h.1M48.9 55.7h.1M108.8 44.1h.1M94.7 61.8h.1M88.8 43.2h.1M104.9 45.0h.1M102.9 45.0h.1M143.6 52.0h.1M92.2 54.5h.1M111.1 41.4h.1M127.5 41.1h.1M69.8 39.7h.1M105.9 60.7h.1M69.7 44.0h.1M114.4 40.8h.1M57.3 50.2h.1M89.9 49.2h.1M91.1 48.2h.1M83.7 67.6h.1M111.7 47.9h.1M85.4 71.5h.1M144.4 47.5h.1M81.3 47.0h.1M63.3 46.1h.1M61.9 41.6h.1M119.2 42.3h.1M54.5 46.3h.1M145.3 46.8h.1M145.0 43.7h.1M57.5 41.7h.1M66.8 43.2h.1M92.3 40.9h.1M84.2 60.7h.1M143.9 51.6h.1M50.0 40.3h.1M123.3 40.5h.1M63.2 40.8h.1M70.6 49.8h.1M50.0 60.8h.1M94.2 45.9h.1M126.7 45.1h.1M95.0 49.0h.1M102.6 48.3h.1M81.4 57.7h.1M88.8 52.5h.1M77.4 40.6h.1M128.7 53.7h.1M78.7 42.7h.1M78.2 52.2h.1M76.1 43.9h.1M143.9 45.7h.1M131.7 39.7h.1M61.2 51.1h.1M128.9 40.8h.1M43.9 40.7h.1M116.7 45.1h.1M76.5 42.2h.1M125.0 43.5h.1M56.5 42.0h.1M53.5 48.6h.1M63.2 41.9h.1M70.5 43.0h.1M116.4 43.1h.1M117.6 40.4h.1M111.0 47.8h.1M89.5 43.7h.1M37.5 49.8h.1M70.0 55.7h.1M99.0 49.8h.1M143.9 57.8h.1M90.5 41.2h.1M47.9 44.3h.1M94.7 42.2h.1M100.5 54.5h.1M67.9 41.8h.1M82.5 43.8h.1M44.3 44.3h.1M86.7 64.4h.1M71.6 45.0h.1M72.4 53.3h.1M72.3 43.6h.1M117.2 40.1h.1M137.3 47.8h.1M73.0 41.3h.1M108.7 40.6h.1M129.2 43.0h.1M136.9 42.4h.1M100.4 55.2h.1M49.3 41.2h.1M73.5 44.0h.1M61.4 45.5h.1M80.9 42.8h.1M74.4 42.0h.1M75.5 45.4h.1M47.2 40.1h.1M122.3 45.8h.1M54.8 41.0h.1M68.3 47.7h.1M55.3 65.1h.1M46.8 59.9h.1M105.3 45.0h.1M90.5 41.2h.1M77.7 40.5h.1M132.3 48.9h.1M80.2 45.2h.1M104.9 62.2h.1M56.4 45.9h.1M43.8 55.1h.1M43.9 46.4h.1M124.7 40.5h.1M44.7 43.3h.1M64.1 47.4h.1M97.2 47.8h.1M76.8 48.2h.1M72.7 58.5h.1M121.6 43.3h.1M79.0 45.3h.1" stroke="#74b545" stroke-width="1.55" stroke-linecap="square" fill="none"/>
<path d="M39.9,84.1h1.8v1.8h-1.8zM50.9,83.3h1.8v1.8h-1.8zM50.9,87.3h1.8v1.8h-1.8zM59.4,92.1h1.8v1.8h-1.8zM36.6,105.6h1.8v1.8h-1.8zM43.4,102.6h1.8v1.8h-1.8zM37.1,127.8h1.8v1.8h-1.8zM60.9,119.8h1.8v1.8h-1.8zM89.3,80.8h1.8v1.8h-1.8zM99.8,85.8h1.8v1.8h-1.8zM99.3,94.3h1.8v1.8h-1.8zM112.3,84.8h1.8v1.8h-1.8zM114.1,84.6h1.8v1.8h-1.8zM113.3,99.8h1.8v1.8h-1.8zM120.1,95.6h1.8v1.8h-1.8zM123.8,81.8h1.8v1.8h-1.8zM136.6,92.3h1.8v1.8h-1.8zM136.6,95.3h1.8v1.8h-1.8zM136.6,97.1h1.8v1.8h-1.8zM136.6,98.6h1.8v1.8h-1.8z" fill="#f02020"/>
<path d="M31.5 38.8L31.5 136.8" stroke="#222" stroke-width="0.9" />
<path d="M31.5 136.8L152.4 136.8" stroke="#222" stroke-width="0.9" />
<path d="M28.9 38.8L31.5 38.8" stroke="#222" stroke-width="0.8" />
<text x="22.8" y="41.6" class="ls" font-size="8" fill="#222" text-anchor="end">-9</text>
<path d="M28.9 55.1L31.5 55.1" stroke="#222" stroke-width="0.8" />
<text x="22.8" y="57.9" class="ls" font-size="8" fill="#222" text-anchor="end">-10</text>
<path d="M28.9 71.5L31.5 71.5" stroke="#222" stroke-width="0.8" />
<text x="22.8" y="74.3" class="ls" font-size="8" fill="#222" text-anchor="end">-11</text>
<path d="M28.9 87.8L31.5 87.8" stroke="#222" stroke-width="0.8" />
<text x="22.8" y="90.6" class="ls" font-size="8" fill="#222" text-anchor="end">-12</text>
<path d="M28.9 104.1L31.5 104.1" stroke="#222" stroke-width="0.8" />
<text x="22.8" y="106.9" class="ls" font-size="8" fill="#222" text-anchor="end">-13</text>
<path d="M28.9 120.5L31.5 120.5" stroke="#222" stroke-width="0.8" />
<text x="22.8" y="123.3" class="ls" font-size="8" fill="#222" text-anchor="end">-14</text>
<path d="M28.9 136.8L31.5 136.8" stroke="#222" stroke-width="0.8" />
<text x="22.8" y="139.6" class="ls" font-size="8" fill="#222" text-anchor="end">-15</text>
<path d="M31.5 136.8L31.5 139.4" stroke="#222" stroke-width="0.8" />
<text x="31.5" y="151.3" class="ls" font-size="8" fill="#222" text-anchor="middle">300</text>
<path d="M61.7 136.8L61.7 139.4" stroke="#222" stroke-width="0.8" />
<text x="61.7" y="151.3" class="ls" font-size="8" fill="#222" text-anchor="middle">350</text>
<path d="M92 136.8L92 139.4" stroke="#222" stroke-width="0.8" />
<text x="92" y="151.3" class="ls" font-size="8" fill="#222" text-anchor="middle">400</text>
<path d="M122.2 136.8L122.2 139.4" stroke="#222" stroke-width="0.8" />
<text x="122.2" y="151.3" class="ls" font-size="8" fill="#222" text-anchor="middle">450</text>
<path d="M152.4 136.8L152.4 139.4" stroke="#222" stroke-width="0.8" />
<text x="152.4" y="151.3" class="ls" font-size="8" fill="#222" text-anchor="middle">500</text>
<text x="88.5" y="164.3" class="ls" font-size="8.6" fill="#222" text-anchor="middle" textLength="80" lengthAdjust="spacingAndGlyphs">Molecular weight (Da)</text>
<text x="92" y="32.5" class="ls b" font-size="8.3" fill="#222" text-anchor="middle" textLength="73" lengthAdjust="spacingAndGlyphs">R12 Inhibitors (RIs)</text>
<text x="8.6" y="87" class="ls" font-size="9" fill="#222" text-anchor="middle" textLength="100" lengthAdjust="spacingAndGlyphs" transform="rotate(-90 8.6 87)">Docking score (kcal/mol)</text>
<rect x="173.4" y="32" width="39.19999999999999" height="53.5" fill="none" stroke="#e0a838" stroke-width="1.5" stroke-dasharray="1.4 1.2"/>
<rect x="212.6" y="60.4" width="28.599999999999994" height="33.800000000000004" fill="none" stroke="#3ef03e" stroke-width="1.5" stroke-dasharray="1.4 1.2"/>
<rect x="214.7" y="97" width="24.30000000000001" height="27" fill="none" stroke="#4040ff" stroke-width="1.5" stroke-dasharray="1.4 1.2"/>
<rect x="236.7" y="116.4" width="49.80000000000001" height="30.400000000000006" fill="none" stroke="#8a2aa8" stroke-width="1.5" stroke-dasharray="1.4 1.2"/>
<path d="M182.5 38.2L191.6 43.5L191.6 57.2L203 63.8L203 74" stroke="#444" stroke-width="0.8" fill="none"/>
<path d="M205.3,79.4 L213.8,82.6 L212.4,85.6 Z" fill="#000"/>
<path d="M213.3 84L226.3 77.5" stroke="#444" stroke-width="0.8" fill="none"/>
<path d="M226.3 77.5L226.3 66.5" stroke="#444" stroke-width="0.8" fill="none"/>
<path d="M226.3 77.5L236.3 83.3" stroke="#444" stroke-width="0.8" fill="none"/>
<path d="M225.8 79.3L235.4 84.8" stroke="#444" stroke-width="0.8" fill="none"/>
<path d="M213.3 84L213.3 97L226.7 103.7" stroke="#444" stroke-width="0.8" fill="none"/>
<path d="M226.7 103.7L236.3 98.2" stroke="#444" stroke-width="0.8" fill="none"/>
<path d="M227.2 101.9L235.5 97" stroke="#444" stroke-width="0.8" fill="none"/>
<path d="M226.7 103.7L226.7 114.3" stroke="#444" stroke-width="0.8" fill="none"/>
<path d="M228.8 120.2L236.4 124.2" stroke="#444" stroke-width="0.8" fill="none"/>
<path d="M236.4 124.2L248.8 117.6L261.5 124.6L261.5 138.3L249 145.2L236.4 138.3Z" stroke="#444" stroke-width="0.8" fill="none"/>
<path d="M261.5 124.6L273.9 117.6L286.3 124.6L286.3 138.3L273.9 145.2L261.5 138.3Z" stroke="#444" stroke-width="0.8" fill="none"/>
<path d="M238.8 124.9L248.2 119.9" stroke="#444" stroke-width="0.7" fill="none"/>
<path d="M259.1 137.6L249.6 142.8" stroke="#444" stroke-width="0.7" fill="none"/>
<path d="M274.5 120L283.9 125.3" stroke="#444" stroke-width="0.7" fill="none"/>
<path d="M283.9 137.6L274.5 142.8" stroke="#444" stroke-width="0.7" fill="none"/>
<path d="M263.3 136.6L263.3 126.2" stroke="#444" stroke-width="0.7" fill="none"/>
<text x="178" y="39.2" class="ls" font-size="5" fill="#333" text-anchor="middle">HO</text>
<text x="201.2" y="80" class="ls" font-size="5" fill="#333" text-anchor="middle">HN</text>
<text x="228" y="66" class="ls" font-size="5" fill="#333" text-anchor="middle">OH</text>
<text x="224.8" y="120.6" class="ls" font-size="5" fill="#333" text-anchor="middle">HN</text>
<text x="215.5" y="49.8" class="ls b" font-size="9.2" fill="#e0a838" textLength="86.5" lengthAdjust="spacingAndGlyphs">Hydroxypropyl amino</text>
<text x="242" y="81.3" class="ls b" font-size="9.2" fill="#3ee83e" textLength="58.7" lengthAdjust="spacingAndGlyphs">Propanoic acid</text>
<text x="169.7" y="113.3" class="ls b" font-size="9.2" fill="#4a4aff" textLength="42.6" lengthAdjust="spacingAndGlyphs">Carbamoyl</text>
<text x="236.7" y="156.3" class="ls b" font-size="9.2" fill="#8a2aa8" textLength="51.6" lengthAdjust="spacingAndGlyphs">Naphthalene</text>
<text x="238.6" y="87.6" class="ls" font-size="5" fill="#333" text-anchor="middle">O</text>
<text x="238.8" y="98.8" class="ls" font-size="5" fill="#333" text-anchor="middle">O</text>
<path d="M352.9 48.5L352.9 146.8" stroke="#111" stroke-width="1.4" />
<path d="M352.2 146.3L486 146.3" stroke="#111" stroke-width="1.4" />
<path d="M349.7 146.3L352.9 146.3" stroke="#111" stroke-width="1.1" />
<path d="M350.7 136.6L352.9 136.6" stroke="#111" stroke-width="1.1" />
<path d="M350.7 126.8L352.9 126.8" stroke="#111" stroke-width="1.1" />
<path d="M350.7 117.1L352.9 117.1" stroke="#111" stroke-width="1.1" />
<path d="M350.7 107.3L352.9 107.3" stroke="#111" stroke-width="1.1" />
<path d="M349.7 97.6L352.9 97.6" stroke="#111" stroke-width="1.1" />
<path d="M350.7 87.9L352.9 87.9" stroke="#111" stroke-width="1.1" />
<path d="M350.7 78.1L352.9 78.1" stroke="#111" stroke-width="1.1" />
<path d="M350.7 68.4L352.9 68.4" stroke="#111" stroke-width="1.1" />
<path d="M350.7 58.6L352.9 58.6" stroke="#111" stroke-width="1.1" />
<path d="M349.7 48.9L352.9 48.9" stroke="#111" stroke-width="1.1" />
<text x="348.3" y="51.8" class="ls b" font-size="8" fill="#111" text-anchor="end" textLength="15" lengthAdjust="spacingAndGlyphs">0.10</text>
<text x="348.3" y="100.5" class="ls b" font-size="8" fill="#111" text-anchor="end" textLength="15" lengthAdjust="spacingAndGlyphs">0.05</text>
<text x="348.3" y="149.2" class="ls b" font-size="8" fill="#111" text-anchor="end" textLength="15" lengthAdjust="spacingAndGlyphs">0.00</text>
<path d="M352.9 146.3L352.9 149.5" stroke="#111" stroke-width="1.1" />
<text x="352.9" y="158.9" class="ls b" font-size="8.3" fill="#111" text-anchor="middle">8</text>
<path d="M373.7 146.3L373.7 149.5" stroke="#111" stroke-width="1.1" />
<text x="373.7" y="158.9" class="ls b" font-size="8.3" fill="#111" text-anchor="middle">7</text>
<path d="M394.5 146.3L394.5 149.5" stroke="#111" stroke-width="1.1" />
<text x="394.5" y="158.9" class="ls b" font-size="8.3" fill="#111" text-anchor="middle">6</text>
<path d="M415.3 146.3L415.3 149.5" stroke="#111" stroke-width="1.1" />
<text x="415.3" y="158.9" class="ls b" font-size="8.3" fill="#111" text-anchor="middle">5</text>
<path d="M436.1 146.3L436.1 149.5" stroke="#111" stroke-width="1.1" />
<text x="436.1" y="158.9" class="ls b" font-size="8.3" fill="#111" text-anchor="middle">4</text>
<path d="M456.9 146.3L456.9 149.5" stroke="#111" stroke-width="1.1" />
<text x="456.9" y="158.9" class="ls b" font-size="8.3" fill="#111" text-anchor="middle">3</text>
<path d="M477.7 146.3L477.7 149.5" stroke="#111" stroke-width="1.1" />
<text x="477.7" y="158.9" class="ls b" font-size="8.3" fill="#111" text-anchor="middle">2</text>
<path d="M363.3 146.3L363.3 148.3" stroke="#111" stroke-width="1" />
<path d="M384.1 146.3L384.1 148.3" stroke="#111" stroke-width="1" />
<path d="M404.9 146.3L404.9 148.3" stroke="#111" stroke-width="1" />
<path d="M425.7 146.3L425.7 148.3" stroke="#111" stroke-width="1" />
<path d="M446.5 146.3L446.5 148.3" stroke="#111" stroke-width="1" />
<path d="M467.3 146.3L467.3 148.3" stroke="#111" stroke-width="1" />
<text x="426.3" y="171" class="ls b" font-size="8.6" fill="#111" text-anchor="middle" textLength="14.6" lengthAdjust="spacingAndGlyphs">pCa</text>
<text transform="translate(326.5,97) rotate(-90)" class="ls b" font-size="8.5" fill="#111" text-anchor="middle">Bound [<tspan dy="-2.8" font-size="5.5">3</tspan><tspan dy="2.8">H]Ryanodine (B/B</tspan><tspan dy="1.8" font-size="5.5">max</tspan><tspan dy="-1.8">)</tspan></text>
<path d="M361.2 146.2L362.2 146.2L363.2 146.2L364.1 146.1L365.1 146.1L366.1 146L367 146L368 145.9L369 145.9L370 145.8L370.9 145.7L371.9 145.5L372.9 145.4L373.8 145.2L374.8 145.1L375.8 144.8L376.8 144.6L377.7 144.3L378.7 144L379.7 143.6L380.6 143.2L381.6 142.8L382.6 142.3L383.5 141.7L384.5 141.1L385.5 140.4L386.5 139.6L387.4 138.8L388.4 137.9L389.4 136.9L390.3 135.8L391.3 134.7L392.3 133.5L393.3 132.2L394.2 130.8L395.2 129.3L396.2 127.7L397.1 126.1L398.1 124.4L399.1 122.7L400 120.9L401 119.1L402 117.2L403 115.3L403.9 113.4L404.9 111.5L405.9 109.6L406.8 107.7L407.8 105.9L408.8 104.1L409.8 102.4L410.7 100.8L411.7 99.3L412.7 97.9L413.6 96.7L414.6 95.5L415.6 94.6L416.5 93.7L417.5 93.1L418.5 92.6L419.5 92.3L420.4 92.2L421.4 92.3L422.4 92.5L423.3 92.9L424.3 93.5L425.3 94.2L426.3 95L427.2 96L428.2 97.1L429.2 98.4L430.1 99.7L431.1 101.1L432.1 102.7L433 104.3L434 105.9L435 107.7L436 109.4L436.9 111.2L437.9 113L438.9 114.8L439.8 116.6L440.8 118.4L441.8 120.1L442.8 121.8L443.7 123.5L444.7 125.1L445.7 126.7L446.6 128.2L447.6 129.6L448.6 131L449.6 132.3L450.5 133.5L451.5 134.7L452.5 135.8L453.4 136.8L454.4 137.7L455.4 138.6L456.3 139.4L457.3 140.1L458.3 140.8L459.3 141.4L460.2 142L461.2 142.5L462.2 142.9L463.1 143.4L464.1 143.7L465.1 144.1L466.1 144.3L467 144.6L468 144.8L469 145L469.9 145.2L470.9 145.4L471.9 145.5L472.8 145.6L473.8 145.7L474.8 145.8L475.8 145.9L476.7 146L477.7 146" stroke="#111" stroke-width="1.3" fill="none"/>
<path d="M361.2 146.3L362.2 146.3L363.2 146.3L364.1 146.3L365.1 146.3L366.1 146.3L367 146.3L368 146.3L369 146.3L370 146.3L370.9 146.2L371.9 146.2L372.9 146.2L373.8 146.2L374.8 146.1L375.8 146.1L376.8 146L377.7 146L378.7 145.9L379.7 145.8L380.6 145.7L381.6 145.6L382.6 145.4L383.5 145.2L384.5 145L385.5 144.7L386.5 144.4L387.4 144.1L388.4 143.7L389.4 143.2L390.3 142.7L391.3 142.1L392.3 141.4L393.3 140.7L394.2 139.9L395.2 139L396.2 138L397.1 136.9L398.1 135.7L399.1 134.4L400 133.1L401 131.6L402 130.1L403 128.6L403.9 126.9L404.9 125.3L405.9 123.6L406.8 121.8L407.8 120.1L408.8 118.4L409.8 116.8L410.7 115.2L411.7 113.6L412.7 112.2L413.6 110.9L414.6 109.7L415.6 108.7L416.5 107.8L417.5 107.1L418.5 106.6L419.5 106.3L420.4 106.2L421.4 106.2L422.4 106.5L423.3 106.8L424.3 107.4L425.3 108L426.3 108.8L427.2 109.7L428.2 110.8L429.2 111.9L430.1 113.1L431.1 114.5L432.1 115.8L433 117.3L434 118.7L435 120.2L436 121.7L436.9 123.3L437.9 124.8L438.9 126.2L439.8 127.7L440.8 129.1L441.8 130.5L442.8 131.8L443.7 133.1L444.7 134.2L445.7 135.4L446.6 136.4L447.6 137.4L448.6 138.4L449.6 139.2L450.5 140L451.5 140.7L452.5 141.4L453.4 142L454.4 142.5L455.4 143L456.3 143.4L457.3 143.8L458.3 144.2L459.3 144.5L460.2 144.7L461.2 145L462.2 145.2L463.1 145.3L464.1 145.5L465.1 145.6L466.1 145.7L467 145.8L468 145.9L469 146L469.9 146L470.9 146.1L471.9 146.1L472.8 146.2L473.8 146.2L474.8 146.2L475.8 146.2L476.7 146.2L477.7 146.3" stroke="#2323ff" stroke-width="1.3" fill="none"/>
<circle cx="363.30" cy="144.35" r="2.3" fill="#111"/>
<path d="M373.7 137.5L373.7 141.4" stroke="#111" stroke-width="0.9" />
<path d="M371.7 137.5L375.7 137.5" stroke="#111" stroke-width="0.9" />
<path d="M371.7 141.4L375.7 141.4" stroke="#111" stroke-width="0.9" />
<circle cx="373.70" cy="139.48" r="2.3" fill="#111"/>
<circle cx="384.10" cy="143.38" r="2.3" fill="#111"/>
<path d="M394.5 122.9L394.5 132.7" stroke="#111" stroke-width="0.9" />
<path d="M392.5 122.9L396.5 122.9" stroke="#111" stroke-width="0.9" />
<path d="M392.5 132.7L396.5 132.7" stroke="#111" stroke-width="0.9" />
<circle cx="394.50" cy="127.79" r="2.3" fill="#111"/>
<path d="M407 98.6L407 108.3" stroke="#111" stroke-width="0.9" />
<path d="M405 98.6L409 98.6" stroke="#111" stroke-width="0.9" />
<path d="M405 108.3L409 108.3" stroke="#111" stroke-width="0.9" />
<circle cx="406.98" cy="103.44" r="2.3" fill="#111"/>
<path d="M415.3 86.9L415.3 92.7" stroke="#111" stroke-width="0.9" />
<path d="M413.3 86.9L417.3 86.9" stroke="#111" stroke-width="0.9" />
<path d="M413.3 92.7L417.3 92.7" stroke="#111" stroke-width="0.9" />
<circle cx="415.30" cy="89.81" r="2.3" fill="#111"/>
<path d="M423.6 84L423.6 101.5" stroke="#111" stroke-width="0.9" />
<path d="M421.6 84L425.6 84" stroke="#111" stroke-width="0.9" />
<path d="M421.6 101.5L425.6 101.5" stroke="#111" stroke-width="0.9" />
<circle cx="423.62" cy="92.73" r="2.3" fill="#111"/>
<path d="M436.1 107.3L436.1 111.2" stroke="#111" stroke-width="0.9" />
<path d="M434.1 107.3L438.1 107.3" stroke="#111" stroke-width="0.9" />
<path d="M434.1 111.2L438.1 111.2" stroke="#111" stroke-width="0.9" />
<circle cx="436.10" cy="109.29" r="2.3" fill="#111"/>
<path d="M448.6 123.9L448.6 129.7" stroke="#111" stroke-width="0.9" />
<path d="M446.6 123.9L450.6 123.9" stroke="#111" stroke-width="0.9" />
<path d="M446.6 129.7L450.6 129.7" stroke="#111" stroke-width="0.9" />
<circle cx="448.58" cy="126.82" r="2.3" fill="#111"/>
<path d="M463.1 134.6L463.1 140.5" stroke="#111" stroke-width="0.9" />
<path d="M461.1 134.6L465.1 134.6" stroke="#111" stroke-width="0.9" />
<path d="M461.1 140.5L465.1 140.5" stroke="#111" stroke-width="0.9" />
<circle cx="463.14" cy="137.53" r="2.3" fill="#111"/>
<path d="M477.7 143.4L477.7 145.3" stroke="#111" stroke-width="0.9" />
<path d="M475.7 143.4L479.7 143.4" stroke="#111" stroke-width="0.9" />
<path d="M475.7 145.3L479.7 145.3" stroke="#111" stroke-width="0.9" />
<circle cx="477.70" cy="144.35" r="2.3" fill="#111"/>
<rect x="361.10" y="142.15" width="4.4" height="4.4" fill="#2323ff"/>
<path d="M373.7 141.4L373.7 145.3" stroke="#3a3aff" stroke-width="0.9" />
<path d="M371.7 141.4L375.7 141.4" stroke="#3a3aff" stroke-width="0.9" />
<path d="M371.7 145.3L375.7 145.3" stroke="#3a3aff" stroke-width="0.9" />
<rect x="371.50" y="141.18" width="4.4" height="4.4" fill="#2323ff"/>
<rect x="381.90" y="141.18" width="4.4" height="4.4" fill="#2323ff"/>
<path d="M394.5 134.6L394.5 140.5" stroke="#3a3aff" stroke-width="0.9" />
<path d="M392.5 134.6L396.5 134.6" stroke="#3a3aff" stroke-width="0.9" />
<path d="M392.5 140.5L396.5 140.5" stroke="#3a3aff" stroke-width="0.9" />
<rect x="392.30" y="135.33" width="4.4" height="4.4" fill="#2323ff"/>
<path d="M407 111.2L407 124.9" stroke="#3a3aff" stroke-width="0.9" />
<path d="M405 111.2L409 111.2" stroke="#3a3aff" stroke-width="0.9" />
<path d="M405 124.9L409 124.9" stroke="#3a3aff" stroke-width="0.9" />
<rect x="404.78" y="115.85" width="4.4" height="4.4" fill="#2323ff"/>
<path d="M415.3 102.5L415.3 110.3" stroke="#3a3aff" stroke-width="0.9" />
<path d="M413.3 102.5L417.3 102.5" stroke="#3a3aff" stroke-width="0.9" />
<path d="M413.3 110.3L417.3 110.3" stroke="#3a3aff" stroke-width="0.9" />
<rect x="413.10" y="104.17" width="4.4" height="4.4" fill="#2323ff"/>
<path d="M423.6 102.5L423.6 112.2" stroke="#3a3aff" stroke-width="0.9" />
<path d="M421.6 102.5L425.6 102.5" stroke="#3a3aff" stroke-width="0.9" />
<path d="M421.6 112.2L425.6 112.2" stroke="#3a3aff" stroke-width="0.9" />
<rect x="421.42" y="105.14" width="4.4" height="4.4" fill="#2323ff"/>
<path d="M436.1 114.2L436.1 122" stroke="#3a3aff" stroke-width="0.9" />
<path d="M434.1 114.2L438.1 114.2" stroke="#3a3aff" stroke-width="0.9" />
<path d="M434.1 122L438.1 122" stroke="#3a3aff" stroke-width="0.9" />
<rect x="433.90" y="115.85" width="4.4" height="4.4" fill="#2323ff"/>
<path d="M448.6 132.7L448.6 138.5" stroke="#3a3aff" stroke-width="0.9" />
<path d="M446.6 132.7L450.6 132.7" stroke="#3a3aff" stroke-width="0.9" />
<path d="M446.6 138.5L450.6 138.5" stroke="#3a3aff" stroke-width="0.9" />
<rect x="446.38" y="133.39" width="4.4" height="4.4" fill="#2323ff"/>
<path d="M463.1 140.5L463.1 144.4" stroke="#3a3aff" stroke-width="0.9" />
<path d="M461.1 140.5L465.1 140.5" stroke="#3a3aff" stroke-width="0.9" />
<path d="M461.1 144.4L465.1 144.4" stroke="#3a3aff" stroke-width="0.9" />
<rect x="460.94" y="140.20" width="4.4" height="4.4" fill="#2323ff"/>
<path d="M477.7 143.4L477.7 145.3" stroke="#3a3aff" stroke-width="0.9" />
<path d="M475.7 143.4L479.7 143.4" stroke="#3a3aff" stroke-width="0.9" />
<path d="M475.7 145.3L479.7 145.3" stroke="#3a3aff" stroke-width="0.9" />
<rect x="475.50" y="142.15" width="4.4" height="4.4" fill="#2323ff"/>
<text x="394.5" y="147" class="ls b" font-size="6" fill="#333" text-anchor="middle">*</text>
<text x="407" y="127.6" class="ls b" font-size="6" fill="#333" text-anchor="middle">*</text>
<text x="415.3" y="115.9" class="ls b" font-size="6" fill="#333" text-anchor="middle">*</text>
<text x="423.6" y="116.8" class="ls b" font-size="6" fill="#333" text-anchor="middle">*</text>
<text x="436.1" y="127.6" class="ls b" font-size="6" fill="#333" text-anchor="middle">*</text>
<text x="448.6" y="145.1" class="ls b" font-size="6" fill="#333" text-anchor="middle">*</text>
<path d="M365.5 49.5L375.7 49.5" stroke="#111" stroke-width="1.2" />
<circle cx="370.6" cy="49.5" r="2.1" fill="#111"/>
<text x="382" y="52.6" class="ls b" font-size="8.6" fill="#111" textLength="22.9" lengthAdjust="spacingAndGlyphs">DMSO</text>
<path d="M365.5 60.7L375.7 60.7" stroke="#2323ff" stroke-width="1.2" />
<rect x="368.6" y="58.7" width="4" height="4" fill="#2323ff"/>
<text x="382" y="63.8" class="ls b" font-size="8.6" fill="#111" textLength="14.5" lengthAdjust="spacingAndGlyphs">RI-2</text>
<path d="M528.2 48L528.2 147.8" stroke="#111" stroke-width="1.4" />
<path d="M527.5 147.3L677 147.3" stroke="#111" stroke-width="1.4" />
<path d="M525 127.1L528.2 127.1" stroke="#111" stroke-width="1.1" />
<text x="525.8" y="130.1" class="ls b" font-size="8.6" fill="#111" text-anchor="end" textLength="13.2" lengthAdjust="spacingAndGlyphs">1.0</text>
<path d="M525 107.4L528.2 107.4" stroke="#111" stroke-width="1.1" />
<text x="525.8" y="110.4" class="ls b" font-size="8.6" fill="#111" text-anchor="end" textLength="13.2" lengthAdjust="spacingAndGlyphs">1.2</text>
<path d="M525 87.7L528.2 87.7" stroke="#111" stroke-width="1.1" />
<text x="525.8" y="90.7" class="ls b" font-size="8.6" fill="#111" text-anchor="end" textLength="13.2" lengthAdjust="spacingAndGlyphs">1.4</text>
<path d="M525 68L528.2 68" stroke="#111" stroke-width="1.1" />
<text x="525.8" y="71" class="ls b" font-size="8.6" fill="#111" text-anchor="end" textLength="13.2" lengthAdjust="spacingAndGlyphs">1.6</text>
<path d="M525 48.3L528.2 48.3" stroke="#111" stroke-width="1.1" />
<text x="525.8" y="51.3" class="ls b" font-size="8.6" fill="#111" text-anchor="end" textLength="13.2" lengthAdjust="spacingAndGlyphs">1.8</text>
<path d="M527.9 147.3L527.9 150.7" stroke="#111" stroke-width="1.1" />
<text x="527.9" y="160.5" class="ls b" font-size="8.3" fill="#111" text-anchor="middle">0.1</text>
<path d="M577.1 147.3L577.1 150.7" stroke="#111" stroke-width="1.1" />
<text x="577.1" y="160.5" class="ls b" font-size="8.3" fill="#111" text-anchor="middle">1</text>
<path d="M626.4 147.3L626.4 150.7" stroke="#111" stroke-width="1.1" />
<text x="626.4" y="160.5" class="ls b" font-size="8.3" fill="#111" text-anchor="middle">10</text>
<path d="M675.6 147.3L675.6 150.7" stroke="#111" stroke-width="1.1" />
<text x="675.6" y="160.5" class="ls b" font-size="8.3" fill="#111" text-anchor="middle">100</text>
<path d="M542.7 147.3L542.7 149.3" stroke="#111" stroke-width="0.9" />
<path d="M551.4 147.3L551.4 149.3" stroke="#111" stroke-width="0.9" />
<path d="M557.5 147.3L557.5 149.3" stroke="#111" stroke-width="0.9" />
<path d="M562.3 147.3L562.3 149.3" stroke="#111" stroke-width="0.9" />
<path d="M566.2 147.3L566.2 149.3" stroke="#111" stroke-width="0.9" />
<path d="M569.5 147.3L569.5 149.3" stroke="#111" stroke-width="0.9" />
<path d="M572.4 147.3L572.4 149.3" stroke="#111" stroke-width="0.9" />
<path d="M574.9 147.3L574.9 149.3" stroke="#111" stroke-width="0.9" />
<path d="M591.9 147.3L591.9 149.3" stroke="#111" stroke-width="0.9" />
<path d="M600.6 147.3L600.6 149.3" stroke="#111" stroke-width="0.9" />
<path d="M606.8 147.3L606.8 149.3" stroke="#111" stroke-width="0.9" />
<path d="M611.5 147.3L611.5 149.3" stroke="#111" stroke-width="0.9" />
<path d="M615.4 147.3L615.4 149.3" stroke="#111" stroke-width="0.9" />
<path d="M618.7 147.3L618.7 149.3" stroke="#111" stroke-width="0.9" />
<path d="M621.6 147.3L621.6 149.3" stroke="#111" stroke-width="0.9" />
<path d="M624.1 147.3L624.1 149.3" stroke="#111" stroke-width="0.9" />
<path d="M641.2 147.3L641.2 149.3" stroke="#111" stroke-width="0.9" />
<path d="M649.8 147.3L649.8 149.3" stroke="#111" stroke-width="0.9" />
<path d="M656 147.3L656 149.3" stroke="#111" stroke-width="0.9" />
<path d="M660.8 147.3L660.8 149.3" stroke="#111" stroke-width="0.9" />
<path d="M664.7 147.3L664.7 149.3" stroke="#111" stroke-width="0.9" />
<path d="M668 147.3L668 149.3" stroke="#111" stroke-width="0.9" />
<path d="M670.8 147.3L670.8 149.3" stroke="#111" stroke-width="0.9" />
<path d="M673.3 147.3L673.3 149.3" stroke="#111" stroke-width="0.9" />
<text x="602" y="173.3" class="ls b" font-size="8.6" fill="#111" text-anchor="middle" textLength="92" lengthAdjust="spacingAndGlyphs">Concentration (RI-2 μM)</text>
<text transform="translate(503.5,97.5) rotate(-90)" class="ls b" font-size="8.5" fill="#111" text-anchor="middle">Change in [Ca<tspan dy="-2.8" font-size="5.5">2+</tspan><tspan dy="2.8">]ER (F/F0)</tspan></text>
<path d="M527.9 128.4L528.9 128.4L529.9 128.4L530.9 128.3L531.8 128.3L532.8 128.3L533.8 128.3L534.8 128.3L535.8 128.3L536.8 128.3L537.7 128.3L538.7 128.2L539.7 128.2L540.7 128.2L541.7 128.2L542.7 128.2L543.7 128.2L544.6 128.1L545.6 128.1L546.6 128.1L547.6 128.1L548.6 128.1L549.6 128L550.5 128L551.5 128L552.5 128L553.5 127.9L554.5 127.9L555.5 127.9L556.5 127.8L557.4 127.8L558.4 127.8L559.4 127.7L560.4 127.7L561.4 127.6L562.4 127.6L563.3 127.5L564.3 127.5L565.3 127.4L566.3 127.4L567.3 127.3L568.3 127.3L569.3 127.2L570.2 127.1L571.2 127.1L572.2 127L573.2 126.9L574.2 126.9L575.2 126.8L576.1 126.7L577.1 126.6L578.1 126.5L579.1 126.4L580.1 126.3L581.1 126.2L582.1 126.1L583 126L584 125.9L585 125.8L586 125.6L587 125.5L588 125.4L588.9 125.2L589.9 125.1L590.9 124.9L591.9 124.7L592.9 124.6L593.9 124.4L594.9 124.2L595.8 124L596.8 123.8L597.8 123.6L598.8 123.3L599.8 123.1L600.8 122.8L601.7 122.6L602.7 122.3L603.7 122L604.7 121.7L605.7 121.4L606.7 121.1L607.7 120.8L608.6 120.5L609.6 120.1L610.6 119.7L611.6 119.4L612.6 119L613.6 118.5L614.5 118.1L615.5 117.7L616.5 117.2L617.5 116.7L618.5 116.2L619.5 115.7L620.5 115.1L621.4 114.6L622.4 114L623.4 113.4L624.4 112.8L625.4 112.1L626.4 111.5L627.3 110.8L628.3 110.1L629.3 109.4L630.3 108.6L631.3 107.8L632.3 107L633.3 106.2L634.2 105.3L635.2 104.5L636.2 103.6L637.2 102.6L638.2 101.7L639.2 100.7L640.1 99.7L641.1 98.7L642.1 97.7L643.1 96.6L644.1 95.5L645.1 94.4L646.1 93.3L647 92.1L648 90.9L649 89.7L650 88.5L651 87.3L652 86L652.9 84.7L653.9 83.5L654.9 82.2L655.9 80.8L656.9 79.5L657.9 78.2L658.9 76.8L659.8 75.5L660.8 74.1L661.8 72.7L662.8 71.4L663.8 70L664.8 68.6L665.7 67.2L666.7 65.9L667.7 64.5L668.7 63.1L669.7 61.8L670.7 60.4L671.7 59.1L672.6 57.7L673.6 56.4L674.6 55.1L675.6 53.8" stroke="#2222ee" stroke-width="1.3" fill="none"/>
<path d="M527.9 126.6L528.9 126.6L529.9 126.6L530.9 126.6L531.8 126.6L532.8 126.6L533.8 126.6L534.8 126.6L535.8 126.6L536.8 126.6L537.7 126.6L538.7 126.6L539.7 126.5L540.7 126.5L541.7 126.5L542.7 126.5L543.7 126.5L544.6 126.5L545.6 126.5L546.6 126.5L547.6 126.5L548.6 126.5L549.6 126.5L550.5 126.5L551.5 126.5L552.5 126.5L553.5 126.5L554.5 126.5L555.5 126.5L556.5 126.5L557.4 126.5L558.4 126.4L559.4 126.4L560.4 126.4L561.4 126.4L562.4 126.4L563.3 126.4L564.3 126.4L565.3 126.4L566.3 126.4L567.3 126.4L568.3 126.4L569.3 126.4L570.2 126.4L571.2 126.4L572.2 126.3L573.2 126.3L574.2 126.3L575.2 126.3L576.1 126.3L577.1 126.3L578.1 126.3L579.1 126.3L580.1 126.3L581.1 126.3L582.1 126.2L583 126.2L584 126.2L585 126.2L586 126.2L587 126.2L588 126.2L588.9 126.1L589.9 126.1L590.9 126.1L591.9 126.1L592.9 126.1L593.9 126.1L594.9 126L595.8 126L596.8 126L597.8 126L598.8 126L599.8 125.9L600.8 125.9L601.7 125.9L602.7 125.9L603.7 125.8L604.7 125.8L605.7 125.8L606.7 125.7L607.7 125.7L608.6 125.7L609.6 125.6L610.6 125.6L611.6 125.6L612.6 125.5L613.6 125.5L614.5 125.4L615.5 125.4L616.5 125.3L617.5 125.3L618.5 125.2L619.5 125.2L620.5 125.1L621.4 125.1L622.4 125L623.4 125L624.4 124.9L625.4 124.8L626.4 124.8L627.3 124.7L628.3 124.6L629.3 124.5L630.3 124.5L631.3 124.4L632.3 124.3L633.3 124.2L634.2 124.2L635.2 124.1L636.2 124L637.2 123.9L638.2 123.8L639.2 123.7L640.1 123.6L641.1 123.5L642.1 123.4L643.1 123.3L644.1 123.2L645.1 123.2L646.1 123.1L647 123L648 122.9L649 122.8L650 122.7L651 122.6L652 122.5L652.9 122.4L653.9 122.3L654.9 122.2L655.9 122.1L656.9 122L657.9 121.9L658.9 121.8L659.8 121.7L660.8 121.6L661.8 121.5L662.8 121.4L663.8 121.3L664.8 121.2L665.7 121.2L666.7 121.1L667.7 121L668.7 120.9L669.7 120.9L670.7 120.8L671.7 120.7L672.6 120.6L673.6 120.6L674.6 120.5L675.6 120.4" stroke="#44dd44" stroke-width="1.3" fill="none"/>
<path d="M527.9 124.6L527.9 128.6" stroke="#44dd44" stroke-width="0.9" />
<path d="M525.7 124.6L530.1 124.6" stroke="#44dd44" stroke-width="0.9" />
<path d="M525.7 128.6L530.1 128.6" stroke="#44dd44" stroke-width="0.9" />
<rect x="525.70" y="124.41" width="4.4" height="4.4" fill="#44dd44"/>
<path d="M551.4 121.7L551.4 127.6" stroke="#44dd44" stroke-width="0.9" />
<path d="M549.2 121.7L553.6 121.7" stroke="#44dd44" stroke-width="0.9" />
<path d="M549.2 127.6L553.6 127.6" stroke="#44dd44" stroke-width="0.9" />
<rect x="549.19" y="122.44" width="4.4" height="4.4" fill="#44dd44"/>
<path d="M577.1 124.1L577.1 128.1" stroke="#44dd44" stroke-width="0.9" />
<path d="M574.9 124.1L579.3 124.1" stroke="#44dd44" stroke-width="0.9" />
<path d="M574.9 128.1L579.3 128.1" stroke="#44dd44" stroke-width="0.9" />
<rect x="574.93" y="123.91" width="4.4" height="4.4" fill="#44dd44"/>
<path d="M600.6 124.6L600.6 127.6" stroke="#44dd44" stroke-width="0.9" />
<path d="M598.4 124.6L602.8 124.6" stroke="#44dd44" stroke-width="0.9" />
<path d="M598.4 127.6L602.8 127.6" stroke="#44dd44" stroke-width="0.9" />
<rect x="598.42" y="123.91" width="4.4" height="4.4" fill="#44dd44"/>
<path d="M626.4 122.7L626.4 127.6" stroke="#44dd44" stroke-width="0.9" />
<path d="M624.2 122.7L628.6 122.7" stroke="#44dd44" stroke-width="0.9" />
<path d="M624.2 127.6L628.6 127.6" stroke="#44dd44" stroke-width="0.9" />
<rect x="624.16" y="122.93" width="4.4" height="4.4" fill="#44dd44"/>
<path d="M649.8 121.7L649.8 127.6" stroke="#44dd44" stroke-width="0.9" />
<path d="M647.6 121.7L652 121.7" stroke="#44dd44" stroke-width="0.9" />
<path d="M647.6 127.6L652 127.6" stroke="#44dd44" stroke-width="0.9" />
<rect x="647.65" y="122.44" width="4.4" height="4.4" fill="#44dd44"/>
<path d="M675.6 114.3L675.6 125.1" stroke="#44dd44" stroke-width="0.9" />
<path d="M673.4 114.3L677.8 114.3" stroke="#44dd44" stroke-width="0.9" />
<path d="M673.4 125.1L677.8 125.1" stroke="#44dd44" stroke-width="0.9" />
<rect x="673.39" y="117.51" width="4.4" height="4.4" fill="#44dd44"/>
<path d="M527.9 119.2L527.9 135" stroke="#2222ee" stroke-width="0.9" />
<path d="M525.7 119.2L530.1 119.2" stroke="#2222ee" stroke-width="0.9" />
<path d="M525.7 135L530.1 135" stroke="#2222ee" stroke-width="0.9" />
<circle cx="527.90" cy="127.10" r="2.4" fill="#2222ee"/>
<path d="M562.3 123.2L562.3 131" stroke="#2222ee" stroke-width="0.9" />
<path d="M560.1 123.2L564.5 123.2" stroke="#2222ee" stroke-width="0.9" />
<path d="M560.1 131L564.5 131" stroke="#2222ee" stroke-width="0.9" />
<circle cx="562.31" cy="127.10" r="2.4" fill="#2222ee"/>
<path d="M577.1 120.2L577.1 130.1" stroke="#2222ee" stroke-width="0.9" />
<path d="M574.9 120.2L579.3 120.2" stroke="#2222ee" stroke-width="0.9" />
<path d="M574.9 130.1L579.3 130.1" stroke="#2222ee" stroke-width="0.9" />
<circle cx="577.13" cy="125.13" r="2.4" fill="#2222ee"/>
<path d="M611.5 125.1L611.5 131" stroke="#2222ee" stroke-width="0.9" />
<path d="M609.3 125.1L613.7 125.1" stroke="#2222ee" stroke-width="0.9" />
<path d="M609.3 131L613.7 131" stroke="#2222ee" stroke-width="0.9" />
<circle cx="611.54" cy="128.09" r="2.4" fill="#2222ee"/>
<path d="M626.4 107.4L626.4 119.2" stroke="#2222ee" stroke-width="0.9" />
<path d="M624.2 107.4L628.6 107.4" stroke="#2222ee" stroke-width="0.9" />
<path d="M624.2 119.2L628.6 119.2" stroke="#2222ee" stroke-width="0.9" />
<circle cx="626.36" cy="113.31" r="2.4" fill="#2222ee"/>
<path d="M646 89.7L646 103.5" stroke="#2222ee" stroke-width="0.9" />
<path d="M643.8 89.7L648.2 89.7" stroke="#2222ee" stroke-width="0.9" />
<path d="M643.8 103.5L648.2 103.5" stroke="#2222ee" stroke-width="0.9" />
<circle cx="645.95" cy="96.56" r="2.4" fill="#2222ee"/>
<path d="M660.8 59.1L660.8 84.7" stroke="#2222ee" stroke-width="0.9" />
<path d="M658.6 59.1L663 59.1" stroke="#2222ee" stroke-width="0.9" />
<path d="M658.6 84.7L663 84.7" stroke="#2222ee" stroke-width="0.9" />
<circle cx="660.77" cy="71.94" r="2.4" fill="#2222ee"/>
<path d="M669.4 58.2L669.4 68" stroke="#2222ee" stroke-width="0.9" />
<path d="M667.2 58.2L671.6 58.2" stroke="#2222ee" stroke-width="0.9" />
<path d="M667.2 68L671.6 68" stroke="#2222ee" stroke-width="0.9" />
<circle cx="669.44" cy="63.08" r="2.4" fill="#2222ee"/>
<path d="M675.6 52.2L675.6 62.1" stroke="#2222ee" stroke-width="0.9" />
<path d="M673.4 52.2L677.8 52.2" stroke="#2222ee" stroke-width="0.9" />
<path d="M673.4 62.1L677.8 62.1" stroke="#2222ee" stroke-width="0.9" />
<circle cx="675.59" cy="57.16" r="2.4" fill="#2222ee"/>
<path d="M542.3 49.4L552.8 49.4" stroke="#2222ee" stroke-width="1.2" />
<circle cx="547.5" cy="49.4" r="2.2" fill="#2222ee"/>
<text x="558.6" y="52.6" class="ls b" font-size="8.6" fill="#111" textLength="53.5" lengthAdjust="spacingAndGlyphs">RyR1-R2163C</text>
<path d="M542.3 61.4L552.8 61.4" stroke="#44dd44" stroke-width="1.2" />
<rect x="545.5" y="59.4" width="4" height="4" fill="#44dd44"/>
<text x="558.6" y="64.6" class="ls b" font-size="8.6" fill="#111" textLength="36.5" lengthAdjust="spacingAndGlyphs">WT RyR2</text>
<circle cx="101.7" cy="225.2" r="16" fill="#d3e8ec" stroke="#b9d3da" stroke-width="0.8"/>
<text x="101.7" y="229.8" class="lf b" font-size="14.2" text-anchor="middle" textLength="22.4" lengthAdjust="spacingAndGlyphs">R12</text>
<circle cx="187.8" cy="225.7" r="16" fill="#d3e8ec" stroke="#b9d3da" stroke-width="0.8"/>
<text x="187.8" y="230.3" class="lf b" font-size="14.2" text-anchor="middle" textLength="22.4" lengthAdjust="spacingAndGlyphs">R12</text>
<path d="M205.4 226.7L217.6 226.7" stroke="#111" stroke-width="1.5" />
<path d="M211.5 220.7L211.5 232.7" stroke="#111" stroke-width="1.5" />
<rect x="219.3" y="216" width="64.7" height="23" fill="#e797fb"/>
<text x="251.9" y="232" class="lf b" font-size="14.2" text-anchor="middle" textLength="60.5" lengthAdjust="spacingAndGlyphs">AMP-PCP</text>
<text x="252.5" y="213.4" class="lf b" font-size="12" text-anchor="middle" textLength="35.8" lengthAdjust="spacingAndGlyphs">500 μM</text>
<circle cx="315" cy="225.7" r="16" fill="#d3e8ec" stroke="#b9d3da" stroke-width="0.8"/>
<text x="315" y="230.3" class="lf b" font-size="14.2" text-anchor="middle" textLength="22.4" lengthAdjust="spacingAndGlyphs">R12</text>
<path d="M332.5 226.7L344.8 226.7" stroke="#111" stroke-width="1.5" />
<path d="M338.6 220.7L338.6 232.7" stroke="#111" stroke-width="1.5" />
<rect x="346.6" y="216" width="64" height="23" fill="#e797fb"/>
<text x="378.6" y="232" class="lf b" font-size="14.2" text-anchor="middle" textLength="60.5" lengthAdjust="spacingAndGlyphs">AMP-PCP</text>
<text x="379.6" y="213.4" class="lf b" font-size="12" text-anchor="middle" textLength="27.2" lengthAdjust="spacingAndGlyphs">5 mM</text>
<circle cx="453.5" cy="227.7" r="16" fill="#d3e8ec" stroke="#b9d3da" stroke-width="0.8"/>
<text x="453.5" y="232.3" class="lf b" font-size="14.2" text-anchor="middle" textLength="22.4" lengthAdjust="spacingAndGlyphs">R12</text>
<path d="M470.9 227.7L482.7 227.7" stroke="#111" stroke-width="1.5" />
<path d="M476.8 221.7L476.8 233.7" stroke="#111" stroke-width="1.5" />
<rect x="483.8" y="215.4" width="46.3" height="25" fill="#dca132"/>
<text x="506.7" y="233.4" class="lf b" font-size="14.4" text-anchor="middle" textLength="26.5" lengthAdjust="spacingAndGlyphs">ADP</text>
<text x="507.7" y="213" class="lf b" font-size="12" text-anchor="middle" textLength="35.7" lengthAdjust="spacingAndGlyphs">500 μM</text>
<circle cx="581" cy="227.3" r="16" fill="#d3e8ec" stroke="#b9d3da" stroke-width="0.8"/>
<text x="581" y="231.9" class="lf b" font-size="14.2" text-anchor="middle" textLength="22.4" lengthAdjust="spacingAndGlyphs">R12</text>
<path d="M598.5 227.3L610.8 227.3" stroke="#111" stroke-width="1.5" />
<path d="M604.6 221.3L604.6 233.3" stroke="#111" stroke-width="1.5" />
<rect x="611.8" y="215" width="46.2" height="24.6" fill="#dca132"/>
<text x="634.9" y="233.1" class="lf b" font-size="14.4" text-anchor="middle" textLength="26.5" lengthAdjust="spacingAndGlyphs">ADP</text>
<text x="635.6" y="212.4" class="lf b" font-size="12" text-anchor="middle" textLength="28" lengthAdjust="spacingAndGlyphs">5 mM</text>
<rect x="1.9" y="303.1" width="40.1" height="24.7" fill="#d21ef8"/>
<text x="22.1" y="320.8" class="lf b" font-size="14.2" text-anchor="middle" textLength="27.6" lengthAdjust="spacingAndGlyphs">RI-2</text>
<path d="M57.9 244.6L57.9 306" stroke="#666" stroke-width="0.8" />
<path d="M57.9 306L151.8 306" stroke="#666" stroke-width="0.8" />
<path d="M55.7 253.1L57.9 253.1" stroke="#666" stroke-width="0.7" />
<text x="54.9" y="255" class="ls" font-size="5.4" fill="#555" text-anchor="end">0</text>
<path d="M55.7 267.1L57.9 267.1" stroke="#666" stroke-width="0.7" />
<text x="54.9" y="269" class="ls" font-size="5.4" fill="#555" text-anchor="end">-0.2</text>
<path d="M55.7 281.2L57.9 281.2" stroke="#666" stroke-width="0.7" />
<text x="54.9" y="283.1" class="ls" font-size="5.4" fill="#555" text-anchor="end">-0.4</text>
<path d="M55.7 295.2L57.9 295.2" stroke="#666" stroke-width="0.7" />
<text x="54.9" y="297.1" class="ls" font-size="5.4" fill="#555" text-anchor="end">-0.6</text>
<path d="M56.6 260.1L57.9 260.1" stroke="#666" stroke-width="0.6" />
<path d="M56.6 274.2L57.9 274.2" stroke="#666" stroke-width="0.6" />
<path d="M56.6 288.2L57.9 288.2" stroke="#666" stroke-width="0.6" />
<path d="M56.6 302.3L57.9 302.3" stroke="#666" stroke-width="0.6" />
<path d="M56.6 246.1L57.9 246.1" stroke="#666" stroke-width="0.6" />
<path d="M57.9 306L57.9 308.2" stroke="#666" stroke-width="0.7" />
<text x="57.9" y="313.9" class="ls" font-size="5.4" fill="#555" text-anchor="middle">0</text>
<path d="M62.5 306L62.5 307.3" stroke="#666" stroke-width="0.6" />
<path d="M67.1 306L67.1 308.2" stroke="#666" stroke-width="0.7" />
<text x="67.1" y="313.9" class="ls" font-size="5.4" fill="#555" text-anchor="middle">5</text>
<path d="M71.7 306L71.7 307.3" stroke="#666" stroke-width="0.6" />
<path d="M76.3 306L76.3 308.2" stroke="#666" stroke-width="0.7" />
<text x="76.3" y="313.9" class="ls" font-size="5.4" fill="#555" text-anchor="middle">10</text>
<path d="M80.9 306L80.9 307.3" stroke="#666" stroke-width="0.6" />
<path d="M85.5 306L85.5 308.2" stroke="#666" stroke-width="0.7" />
<text x="85.5" y="313.9" class="ls" font-size="5.4" fill="#555" text-anchor="middle">15</text>
<path d="M90.1 306L90.1 307.3" stroke="#666" stroke-width="0.6" />
<path d="M94.7 306L94.7 308.2" stroke="#666" stroke-width="0.7" />
<text x="94.7" y="313.9" class="ls" font-size="5.4" fill="#555" text-anchor="middle">20</text>
<path d="M99.3 306L99.3 307.3" stroke="#666" stroke-width="0.6" />
<path d="M103.9 306L103.9 308.2" stroke="#666" stroke-width="0.7" />
<text x="103.9" y="313.9" class="ls" font-size="5.4" fill="#555" text-anchor="middle">25</text>
<path d="M108.6 306L108.6 307.3" stroke="#666" stroke-width="0.6" />
<path d="M113.2 306L113.2 308.2" stroke="#666" stroke-width="0.7" />
<text x="113.2" y="313.9" class="ls" font-size="5.4" fill="#555" text-anchor="middle">30</text>
<path d="M117.8 306L117.8 307.3" stroke="#666" stroke-width="0.6" />
<path d="M122.4 306L122.4 308.2" stroke="#666" stroke-width="0.7" />
<text x="122.4" y="313.9" class="ls" font-size="5.4" fill="#555" text-anchor="middle">35</text>
<path d="M127 306L127 307.3" stroke="#666" stroke-width="0.6" />
<path d="M131.6 306L131.6 308.2" stroke="#666" stroke-width="0.7" />
<text x="131.6" y="313.9" class="ls" font-size="5.4" fill="#555" text-anchor="middle">40</text>
<path d="M136.2 306L136.2 307.3" stroke="#666" stroke-width="0.6" />
<path d="M140.8 306L140.8 308.2" stroke="#666" stroke-width="0.7" />
<text x="140.8" y="313.9" class="ls" font-size="5.4" fill="#555" text-anchor="middle">45</text>
<path d="M145.4 306L145.4 307.3" stroke="#666" stroke-width="0.6" />
<path d="M150 306L150 308.2" stroke="#666" stroke-width="0.7" />
<text x="150" y="313.9" class="ls" font-size="5.4" fill="#555" text-anchor="middle">50</text>
<text x="101.2" y="322.2" class="ls" font-size="8.4" fill="#333" text-anchor="middle" textLength="32.7" lengthAdjust="spacingAndGlyphs">Time (min)</text>
<text x="42.2" y="277.3" class="ls" font-size="8" fill="#333" text-anchor="middle" textLength="33.5" lengthAdjust="spacingAndGlyphs" transform="rotate(-90 42.2 277.3)">DP (μcal/s)</text>
<path d="M58.5 252L58.8 251.9L59.1 253L59.4 253.7L59.8 254L60.1 253.1L60.4 254L60.8 254.3L61.1 252.9L61.4 253L61.8 252.6L62.1 253.9L62.4 253.1L62.8 253.2L63.1 254.4L63.4 252.6L63.8 252.8L64.1 251.1L64.4 252.9L64.8 253.2L65.1 252.1L65.4 252.9L65.7 252.3L66.1 253.4L66.4 252.9L66.7 252.2L67.1 252.5L67.4 253L67.7 254L68.1 252.7L68.4 253L68.7 252.5L69.1 252.9L69.4 252.2L69.7 253.1L70.1 252.9L70.4 252.5L70.7 254L71.1 253.4L71.4 253.5L71.7 251.4L72 253.2L72.4 252.6L72.7 252.6L73 253.3L73.4 254.4L73.7 252.3L74 253.4L74.4 252.5L74.7 254.2L75 253.5L75.4 252L75.7 251.9L76 254.2L76.4 254.2L76.7 253.1L77 252.5L77.4 253L77.7 252.8L78 253.9L78.3 252.6L78.7 252.2L79 253.5L79.3 254.3L79.7 253.7L80 252.5L80.3 254.6L80.7 253.2L81 253.9L81.3 253.2L81.7 253.3L82 253.1L82.3 251.8L82.7 252.7L83 252L83.3 253.2L83.7 253.5L84 252.8L84.3 255.5L84.6 253.1L85 253L85.3 254.1L85.6 252.7L86 253.6L86.3 255.2L86.6 253.3L87 253.9L87.3 253.5L87.6 253.2L88 252L88.3 253L88.6 253.1L89 252.8L89.3 254.6L89.6 252.1L90 254L90.3 252.7L90.6 254L90.9 253.9L91.3 253.4L91.6 251.5L91.9 252.5L92.3 253.6L92.6 253.3L92.9 254.1L93.3 253.1L93.6 253.6L93.9 252.5L94.3 254.2L94.6 253.4L94.9 253.8L95.3 253.7L95.6 252.5L95.9 253L96.3 252.6L96.6 252.1L96.9 252.1L97.2 254.3L97.6 252.6L97.9 254.6L98.2 253.2L98.6 251.5L98.9 253.3L99.2 253.4L99.6 253L99.9 253.1L100.2 253.1L100.6 253.7L100.9 252.2L101.2 252.4L101.6 253.3L101.9 252.8L102.2 252.5L102.6 252.2L102.9 252.8L103.2 252.5L103.5 253.3L103.9 254L104.2 253.5L104.5 252.2L104.9 252.3L105.2 253L105.5 253.6L105.9 252.8L106.2 251.7L106.5 252L106.9 253.7L107.2 253.1L107.5 254.3L107.9 254.1L108.2 252.9L108.5 253.1L108.8 252.3L109.2 252L109.5 252.4L109.8 252L110.2 253.6L110.5 254.1L110.8 252.7L111.2 250.8L111.5 252.8L111.8 254.1L112.2 252.9L112.5 251.9L112.8 254L113.2 252.4L113.5 253.6L113.8 252L114.2 252.4L114.5 252.8L114.8 251.4L115.1 253.4L115.5 253.7L115.8 251.5L116.1 253.8L116.5 251.2L116.8 253.1L117.1 254L117.5 253.1L117.8 253L118.1 252.9L118.5 253.3L118.8 252.2L119.1 255.1L119.5 253.6L119.8 253.3L120.1 251.6L120.5 254.8L120.8 253.4L121.1 254.1L121.4 253.7L121.8 252.6L122.1 252.8L122.4 251.9L122.8 253.6L123.1 252.9L123.4 252.1L123.8 252.3L124.1 253.4L124.4 252.1L124.8 253.9L125.1 251.6L125.4 253L125.8 253.2L126.1 252.9L126.4 252.4L126.8 251.6L127.1 253.2L127.4 253.4L127.7 252.6L128.1 253.8L128.4 254.5L128.7 252.4L129.1 253.4L129.4 252.2L129.7 254L130.1 255.5L130.4 252.9L130.7 253L131.1 251.8L131.4 252.7L131.7 252.8L132.1 252.6L132.4 253.4L132.7 253L133.1 254.2L133.4 252.7L133.7 253.8L134 253.5L134.4 252.5L134.7 252.3L135 253.9L135.4 251.4L135.7 253.6L136 252.4L136.4 252.3L136.7 252.9L137 253L137.4 251.6L137.7 252.3L138 252.7L138.4 254.6L138.7 253.7L139 252.1L139.4 252.9L139.7 253.9L140 253.6L140.3 253.4L140.7 252.5L141 252.8L141.3 252.3L141.7 253.8L142 252.3L142.3 253.5L142.7 253.4L143 251.6L143.3 253L143.7 253.2L144 253.3L144.3 253.4L144.7 251.8L145 251.9L145.3 252.5L145.7 252.9L146 252.2L146.3 253.2L146.6 252.7" stroke="#5b7496" stroke-width="0.7" fill="none"/>
<path d="M59.7 253.1L59.7 265L60.1 261.1L60.4 258.5L60.7 256.7L61.1 255.5L61.4 254.7L61.7 254.2L62.1 253.8L62.4 253.6L63.1 253.1Z" fill="#a9b8cc" opacity="0.75"/>
<path d="M59.7 253.1L59.7 265" stroke="#5b7496" stroke-width="0.9" />
<path d="M60.5 253.1L60.5 251.6" stroke="#5b7496" stroke-width="0.7" />
<path d="M64.3 253.1L64.3 305.8L64.7 288.4L65 276.8L65.3 269L65.7 263.7L66 260.2L66.3 257.9L66.7 256.3L67 255.2L67.7 253.1Z" fill="#a9b8cc" opacity="0.75"/>
<path d="M64.3 253.1L64.3 305.8" stroke="#5b7496" stroke-width="0.9" />
<path d="M65.1 253.1L65.1 250.4" stroke="#5b7496" stroke-width="0.7" />
<path d="M69 253.1L69 300.9L69.3 285.1L69.6 274.6L69.9 267.5L70.3 262.7L70.6 259.6L70.9 257.4L71.3 256L71.6 255L72.3 253.1Z" fill="#a9b8cc" opacity="0.75"/>
<path d="M69 253.1L69 300.9" stroke="#5b7496" stroke-width="0.9" />
<path d="M69.7 253.1L69.7 252" stroke="#5b7496" stroke-width="0.7" />
<path d="M73.6 253.1L73.6 303.7L73.9 287L74.2 275.8L74.6 268.3L74.9 263.3L75.2 259.9L75.5 257.7L75.9 256.2L76.2 255.2L76.9 253.1Z" fill="#a9b8cc" opacity="0.75"/>
<path d="M73.6 253.1L73.6 303.7" stroke="#5b7496" stroke-width="0.9" />
<path d="M74.3 253.1L74.3 250" stroke="#5b7496" stroke-width="0.7" />
<path d="M78.2 253.1L78.2 298.8L78.5 283.7L78.8 273.6L79.2 266.9L79.5 262.3L79.8 259.3L80.2 257.2L80.5 255.9L80.8 255L81.5 253.1Z" fill="#a9b8cc" opacity="0.75"/>
<path d="M78.2 253.1L78.2 298.8" stroke="#5b7496" stroke-width="0.9" />
<path d="M78.9 253.1L78.9 251.3" stroke="#5b7496" stroke-width="0.7" />
<path d="M82.8 253.1L82.8 296.7L83.1 282.3L83.4 272.7L83.8 266.2L84.1 261.9L84.4 259L84.8 257.1L85.1 255.7L85.4 254.9L86.1 253.1Z" fill="#a9b8cc" opacity="0.75"/>
<path d="M82.8 253.1L82.8 296.7" stroke="#5b7496" stroke-width="0.9" />
<path d="M83.5 253.1L83.5 249.8" stroke="#5b7496" stroke-width="0.7" />
<path d="M87.4 253.1L87.4 288.2L87.7 276.6L88 268.9L88.4 263.7L88.7 260.2L89 257.9L89.4 256.3L89.7 255.2L90 254.5L90.7 253.1Z" fill="#a9b8cc" opacity="0.75"/>
<path d="M87.4 253.1L87.4 288.2" stroke="#5b7496" stroke-width="0.9" />
<path d="M88.1 253.1L88.1 250" stroke="#5b7496" stroke-width="0.7" />
<path d="M92 253.1L92 286.8L92.3 275.7L92.6 268.3L93 263.3L93.3 259.9L93.6 257.7L94 256.2L94.3 255.2L94.6 254.5L95.3 253.1Z" fill="#a9b8cc" opacity="0.75"/>
<path d="M92 253.1L92 286.8" stroke="#5b7496" stroke-width="0.9" />
<path d="M92.7 253.1L92.7 251.5" stroke="#5b7496" stroke-width="0.7" />
<path d="M96.6 253.1L96.6 287.5L96.9 276.2L97.2 268.6L97.6 263.5L97.9 260L98.2 257.8L98.6 256.2L98.9 255.2L99.2 254.5L99.9 253.1Z" fill="#a9b8cc" opacity="0.75"/>
<path d="M96.6 253.1L96.6 287.5" stroke="#5b7496" stroke-width="0.9" />
<path d="M97.3 253.1L97.3 251.6" stroke="#5b7496" stroke-width="0.7" />
<path d="M101.2 253.1L101.2 283.3L101.5 273.3L101.9 266.7L102.2 262.2L102.5 259.2L102.8 257.2L103.2 255.8L103.5 254.9L103.8 254.3L104.5 253.1Z" fill="#a9b8cc" opacity="0.75"/>
<path d="M101.2 253.1L101.2 283.3" stroke="#5b7496" stroke-width="0.9" />
<path d="M101.9 253.1L101.9 251.1" stroke="#5b7496" stroke-width="0.7" />
<path d="M105.8 253.1L105.8 284.7L106.1 274.3L106.5 267.3L106.8 262.6L107.1 259.5L107.4 257.4L107.8 256L108.1 255L108.4 254.4L109.1 253.1Z" fill="#a9b8cc" opacity="0.75"/>
<path d="M105.8 253.1L105.8 284.7" stroke="#5b7496" stroke-width="0.9" />
<path d="M106.5 253.1L106.5 252" stroke="#5b7496" stroke-width="0.7" />
<path d="M110.4 253.1L110.4 281.2L110.7 271.9L111.1 265.7L111.4 261.6L111.7 258.8L112.1 256.9L112.4 255.6L112.7 254.8L113 254.2L113.7 253.1Z" fill="#a9b8cc" opacity="0.75"/>
<path d="M110.4 253.1L110.4 281.2" stroke="#5b7496" stroke-width="0.9" />
<path d="M111.1 253.1L111.1 250.6" stroke="#5b7496" stroke-width="0.7" />
<path d="M115 253.1L115 279.8L115.3 271L115.7 265.1L116 261.1L116.3 258.5L116.7 256.7L117 255.5L117.3 254.7L117.7 254.2L118.3 253.1Z" fill="#a9b8cc" opacity="0.75"/>
<path d="M115 253.1L115 279.8" stroke="#5b7496" stroke-width="0.9" />
<path d="M115.7 253.1L115.7 252.2" stroke="#5b7496" stroke-width="0.7" />
<path d="M119.6 253.1L119.6 279.8L119.9 271L120.3 265.1L120.6 261.1L120.9 258.5L121.3 256.7L121.6 255.5L121.9 254.7L122.3 254.2L122.9 253.1Z" fill="#a9b8cc" opacity="0.75"/>
<path d="M119.6 253.1L119.6 279.8" stroke="#5b7496" stroke-width="0.9" />
<path d="M120.3 253.1L120.3 252.2" stroke="#5b7496" stroke-width="0.7" />
<path d="M124.2 253.1L124.2 281.2L124.5 271.9L124.9 265.7L125.2 261.6L125.5 258.8L125.9 256.9L126.2 255.6L126.5 254.8L126.9 254.2L127.5 253.1Z" fill="#a9b8cc" opacity="0.75"/>
<path d="M124.2 253.1L124.2 281.2" stroke="#5b7496" stroke-width="0.9" />
<path d="M124.9 253.1L124.9 249.8" stroke="#5b7496" stroke-width="0.7" />
<path d="M128.8 253.1L128.8 276.3L129.1 268.6L129.5 263.5L129.8 260.1L130.1 257.8L130.5 256.2L130.8 255.2L131.1 254.5L131.5 254L132.1 253.1Z" fill="#a9b8cc" opacity="0.75"/>
<path d="M128.8 253.1L128.8 276.3" stroke="#5b7496" stroke-width="0.9" />
<path d="M129.6 253.1L129.6 251.5" stroke="#5b7496" stroke-width="0.7" />
<path d="M133.4 253.1L133.4 276.3L133.8 268.6L134.1 263.5L134.4 260.1L134.7 257.8L135.1 256.2L135.4 255.2L135.7 254.5L136.1 254L136.7 253.1Z" fill="#a9b8cc" opacity="0.75"/>
<path d="M133.4 253.1L133.4 276.3" stroke="#5b7496" stroke-width="0.9" />
<path d="M134.2 253.1L134.2 250.7" stroke="#5b7496" stroke-width="0.7" />
<path d="M138 253.1L138 272.8L138.4 266.3L138.7 261.9L139 259L139.4 257.1L139.7 255.8L140 254.9L140.3 254.3L140.7 253.9L141.3 253.1Z" fill="#a9b8cc" opacity="0.75"/>
<path d="M138 253.1L138 272.8" stroke="#5b7496" stroke-width="0.9" />
<path d="M138.8 253.1L138.8 251.1" stroke="#5b7496" stroke-width="0.7" />
<path d="M142.6 253.1L142.6 274.2L143 267.2L143.3 262.6L143.6 259.4L144 257.4L144.3 256L144.6 255L145 254.4L145.3 254L145.9 253.1Z" fill="#a9b8cc" opacity="0.75"/>
<path d="M142.6 253.1L142.6 274.2" stroke="#5b7496" stroke-width="0.9" />
<path d="M143.4 253.1L143.4 251.5" stroke="#5b7496" stroke-width="0.7" />
<path d="M184.3 244.7L184.3 306.4" stroke="#666" stroke-width="0.8" />
<path d="M184.3 306.4L279.5 306.4" stroke="#666" stroke-width="0.8" />
<path d="M182.1 252.7L184.3 252.7" stroke="#666" stroke-width="0.7" />
<text x="181.3" y="254.6" class="ls" font-size="5.4" fill="#555" text-anchor="end">0</text>
<path d="M182.1 265.8L184.3 265.8" stroke="#666" stroke-width="0.7" />
<text x="181.3" y="267.7" class="ls" font-size="5.4" fill="#555" text-anchor="end">-0.2</text>
<path d="M182.1 278.9L184.3 278.9" stroke="#666" stroke-width="0.7" />
<text x="181.3" y="280.8" class="ls" font-size="5.4" fill="#555" text-anchor="end">-0.4</text>
<path d="M182.1 292L184.3 292" stroke="#666" stroke-width="0.7" />
<text x="181.3" y="293.9" class="ls" font-size="5.4" fill="#555" text-anchor="end">-0.6</text>
<path d="M182.1 305.1L184.3 305.1" stroke="#666" stroke-width="0.7" />
<text x="181.3" y="307" class="ls" font-size="5.4" fill="#555" text-anchor="end">-0.8</text>
<path d="M183 259.2L184.3 259.2" stroke="#666" stroke-width="0.6" />
<path d="M183 272.3L184.3 272.3" stroke="#666" stroke-width="0.6" />
<path d="M183 285.4L184.3 285.4" stroke="#666" stroke-width="0.6" />
<path d="M183 298.5L184.3 298.5" stroke="#666" stroke-width="0.6" />
<path d="M183 246.1L184.3 246.1" stroke="#666" stroke-width="0.6" />
<path d="M184.3 306.4L184.3 308.6" stroke="#666" stroke-width="0.7" />
<text x="184.3" y="314.3" class="ls" font-size="5.4" fill="#555" text-anchor="middle">0</text>
<path d="M189 306.4L189 307.7" stroke="#666" stroke-width="0.6" />
<path d="M193.6 306.4L193.6 308.6" stroke="#666" stroke-width="0.7" />
<text x="193.6" y="314.3" class="ls" font-size="5.4" fill="#555" text-anchor="middle">5</text>
<path d="M198.3 306.4L198.3 307.7" stroke="#666" stroke-width="0.6" />
<path d="M203 306.4L203 308.6" stroke="#666" stroke-width="0.7" />
<text x="203" y="314.3" class="ls" font-size="5.4" fill="#555" text-anchor="middle">10</text>
<path d="M207.7 306.4L207.7 307.7" stroke="#666" stroke-width="0.6" />
<path d="M212.3 306.4L212.3 308.6" stroke="#666" stroke-width="0.7" />
<text x="212.3" y="314.3" class="ls" font-size="5.4" fill="#555" text-anchor="middle">15</text>
<path d="M217 306.4L217 307.7" stroke="#666" stroke-width="0.6" />
<path d="M221.7 306.4L221.7 308.6" stroke="#666" stroke-width="0.7" />
<text x="221.7" y="314.3" class="ls" font-size="5.4" fill="#555" text-anchor="middle">20</text>
<path d="M226.3 306.4L226.3 307.7" stroke="#666" stroke-width="0.6" />
<path d="M231 306.4L231 308.6" stroke="#666" stroke-width="0.7" />
<text x="231" y="314.3" class="ls" font-size="5.4" fill="#555" text-anchor="middle">25</text>
<path d="M235.7 306.4L235.7 307.7" stroke="#666" stroke-width="0.6" />
<path d="M240.3 306.4L240.3 308.6" stroke="#666" stroke-width="0.7" />
<text x="240.3" y="314.3" class="ls" font-size="5.4" fill="#555" text-anchor="middle">30</text>
<path d="M245 306.4L245 307.7" stroke="#666" stroke-width="0.6" />
<path d="M249.7 306.4L249.7 308.6" stroke="#666" stroke-width="0.7" />
<text x="249.7" y="314.3" class="ls" font-size="5.4" fill="#555" text-anchor="middle">35</text>
<path d="M254.3 306.4L254.3 307.7" stroke="#666" stroke-width="0.6" />
<path d="M259 306.4L259 308.6" stroke="#666" stroke-width="0.7" />
<text x="259" y="314.3" class="ls" font-size="5.4" fill="#555" text-anchor="middle">40</text>
<path d="M263.7 306.4L263.7 307.7" stroke="#666" stroke-width="0.6" />
<path d="M268.4 306.4L268.4 308.6" stroke="#666" stroke-width="0.7" />
<text x="268.4" y="314.3" class="ls" font-size="5.4" fill="#555" text-anchor="middle">45</text>
<path d="M273 306.4L273 307.7" stroke="#666" stroke-width="0.6" />
<path d="M277.7 306.4L277.7 308.6" stroke="#666" stroke-width="0.7" />
<text x="277.7" y="314.3" class="ls" font-size="5.4" fill="#555" text-anchor="middle">50</text>
<text x="228.2" y="322.6" class="ls" font-size="8.4" fill="#333" text-anchor="middle" textLength="32.7" lengthAdjust="spacingAndGlyphs">Time (min)</text>
<text x="169.9" y="277.5" class="ls" font-size="8" fill="#333" text-anchor="middle" textLength="33.5" lengthAdjust="spacingAndGlyphs" transform="rotate(-90 169.9 277.5)">DP (μcal/s)</text>
<path d="M184.9 250.9L185.2 253.2L185.5 252.4L185.9 252.6L186.2 252L186.5 253.8L186.9 253L187.2 253.3L187.6 253.5L187.9 253.4L188.2 253.1L188.6 252.9L188.9 253.4L189.2 252.4L189.6 253.1L189.9 255.2L190.2 251.8L190.6 253L190.9 253.3L191.2 252.5L191.6 252.5L191.9 252.7L192.3 253.4L192.6 252.5L192.9 253.9L193.3 251.6L193.6 253.7L193.9 252.9L194.3 252.7L194.6 252.5L194.9 252.9L195.3 252.3L195.6 255.6L196 252.9L196.3 252.9L196.6 253.1L197 251.6L197.3 253.6L197.6 252.9L198 254.4L198.3 252.6L198.6 254.1L199 254L199.3 250.9L199.7 252.2L200 252.8L200.3 252.7L200.7 253.9L201 253.6L201.3 252.5L201.7 254.5L202 252.6L202.3 254.2L202.7 252.7L203 253.7L203.4 251.4L203.7 252L204 253.2L204.4 254.3L204.7 253.4L205 252.8L205.4 253.6L205.7 252.6L206 252L206.4 252.8L206.7 253.2L207.1 252.2L207.4 253L207.7 252.1L208.1 253.1L208.4 251.5L208.7 253L209.1 253.6L209.4 252.7L209.7 253.3L210.1 253.6L210.4 252.9L210.8 252.2L211.1 254.5L211.4 252.8L211.8 252.9L212.1 252.9L212.4 252.2L212.8 253.8L213.1 252.3L213.4 253L213.8 252.7L214.1 253L214.4 253.1L214.8 253.2L215.1 252.5L215.5 251.1L215.8 251.9L216.1 252.1L216.5 252.3L216.8 253.2L217.1 252.3L217.5 251.1L217.8 253.8L218.1 252.1L218.5 252L218.8 252.6L219.2 252.1L219.5 251.7L219.8 251L220.2 251.7L220.5 251.4L220.8 252.5L221.2 252.1L221.5 252.6L221.8 252.5L222.2 253.1L222.5 252.2L222.9 251.6L223.2 252.9L223.5 252.5L223.9 252.3L224.2 252.7L224.5 252L224.9 252.5L225.2 253.7L225.5 253.6L225.9 252.2L226.2 252.2L226.6 251.9L226.9 252.5L227.2 252.6L227.6 254L227.9 251.6L228.2 253.5L228.6 251.9L228.9 253.6L229.2 253.3L229.6 252.6L229.9 253.1L230.3 253.3L230.6 252L230.9 252.2L231.3 252.4L231.6 253L231.9 253.4L232.3 253.1L232.6 253.1L232.9 252.7L233.3 252.1L233.6 252.9L234 253.3L234.3 253.2L234.6 251.7L235 252.6L235.3 252.5L235.6 252.5L236 252.2L236.3 252.6L236.6 251.8L237 252.1L237.3 254.9L237.7 252.8L238 250.4L238.3 253.7L238.7 252.6L239 251.9L239.3 252.7L239.7 251.6L240 253.7L240.3 253.7L240.7 252.9L241 253.3L241.3 253.6L241.7 252.3L242 252.5L242.4 252.7L242.7 253L243 252.5L243.4 252.8L243.7 253.3L244 252.3L244.4 252.4L244.7 252.6L245 252.2L245.4 253.6L245.7 252.8L246.1 253.1L246.4 251.7L246.7 252.3L247.1 251L247.4 251.5L247.7 253L248.1 253.6L248.4 252.3L248.7 252.9L249.1 252.8L249.4 253.5L249.8 252.2L250.1 252.6L250.4 252.4L250.8 252.5L251.1 253.4L251.4 254.5L251.8 252.9L252.1 253.2L252.4 253.1L252.8 251.9L253.1 252.8L253.5 251.5L253.8 252.6L254.1 252.2L254.5 252.3L254.8 252.1L255.1 253.7L255.5 251.8L255.8 252.6L256.1 253.5L256.5 252.2L256.8 252.4L257.2 251.7L257.5 252.1L257.8 252.4L258.2 254L258.5 251.4L258.8 251.5L259.2 252.1L259.5 252.3L259.8 251.7L260.2 253.4L260.5 252.1L260.9 252.7L261.2 253.5L261.5 252.4L261.9 252.4L262.2 251.4L262.5 252L262.9 254L263.2 254.2L263.5 252.8L263.9 252.9L264.2 253.4L264.5 253.8L264.9 252.9L265.2 253.6L265.6 253.2L265.9 252L266.2 252.5L266.6 253.3L266.9 253.6L267.2 252.8L267.6 251.3L267.9 253.1L268.2 251.3L268.6 253.3L268.9 252.9L269.3 252.2L269.6 253.3L269.9 252.7L270.3 253.8L270.6 252.2L270.9 251.8L271.3 253.2L271.6 252.6L271.9 253L272.3 254.4L272.6 250.5L273 252.2L273.3 252.1L273.6 252.4L274 252.6L274.3 250.8" stroke="#5b7496" stroke-width="0.7" fill="none"/>
<path d="M186.2 252.7L186.2 265.8L186.5 261.5L186.8 258.6L187.2 256.6L187.5 255.3L187.8 254.5L188.2 253.9L188.5 253.5L188.9 253.2L189.5 252.7Z" fill="#a9b8cc" opacity="0.75"/>
<path d="M186.2 252.7L186.2 265.8" stroke="#5b7496" stroke-width="0.9" />
<path d="M186.9 252.7L186.9 249.6" stroke="#5b7496" stroke-width="0.7" />
<path d="M190.8 252.7L190.8 302.5L191.2 286.1L191.5 275.1L191.8 267.7L192.2 262.8L192.5 259.4L192.9 257.2L193.2 255.7L193.5 254.7L194.2 252.7Z" fill="#a9b8cc" opacity="0.75"/>
<path d="M190.8 252.7L190.8 302.5" stroke="#5b7496" stroke-width="0.9" />
<path d="M191.6 252.7L191.6 251.2" stroke="#5b7496" stroke-width="0.7" />
<path d="M195.5 252.7L195.5 305.1L195.8 287.8L196.2 276.2L196.5 268.5L196.9 263.3L197.2 259.8L197.5 257.5L197.9 255.9L198.2 254.8L198.9 252.7Z" fill="#a9b8cc" opacity="0.75"/>
<path d="M195.5 252.7L195.5 305.1" stroke="#5b7496" stroke-width="0.9" />
<path d="M196.3 252.7L196.3 250.7" stroke="#5b7496" stroke-width="0.7" />
<path d="M200.2 252.7L200.2 301.8L200.5 285.6L200.9 274.8L201.2 267.5L201.5 262.6L201.9 259.3L202.2 257.2L202.5 255.7L202.9 254.7L203.5 252.7Z" fill="#a9b8cc" opacity="0.75"/>
<path d="M200.2 252.7L200.2 301.8" stroke="#5b7496" stroke-width="0.9" />
<path d="M200.9 252.7L200.9 250.9" stroke="#5b7496" stroke-width="0.7" />
<path d="M204.8 252.7L204.8 299.9L205.2 284.3L205.5 273.9L205.9 266.9L206.2 262.2L206.5 259.1L206.9 257L207.2 255.6L207.5 254.6L208.2 252.7Z" fill="#a9b8cc" opacity="0.75"/>
<path d="M204.8 252.7L204.8 299.9" stroke="#5b7496" stroke-width="0.9" />
<path d="M205.6 252.7L205.6 249.5" stroke="#5b7496" stroke-width="0.7" />
<path d="M209.5 252.7L209.5 298.5L209.9 283.4L210.2 273.3L210.5 266.5L210.9 262L211.2 258.9L211.5 256.9L211.9 255.5L212.2 254.6L212.9 252.7Z" fill="#a9b8cc" opacity="0.75"/>
<path d="M209.5 252.7L209.5 298.5" stroke="#5b7496" stroke-width="0.9" />
<path d="M210.3 252.7L210.3 249.5" stroke="#5b7496" stroke-width="0.7" />
<path d="M214.2 252.7L214.2 295.9L214.5 281.7L214.9 272.1L215.2 265.7L215.5 261.4L215.9 258.6L216.2 256.6L216.5 255.3L216.9 254.5L217.6 252.7Z" fill="#a9b8cc" opacity="0.75"/>
<path d="M214.2 252.7L214.2 295.9" stroke="#5b7496" stroke-width="0.9" />
<path d="M214.9 252.7L214.9 250.3" stroke="#5b7496" stroke-width="0.7" />
<path d="M218.9 252.7L218.9 294.6L219.2 280.8L219.5 271.5L219.9 265.3L220.2 261.2L220.5 258.4L220.9 256.5L221.2 255.2L221.5 254.4L222.2 252.7Z" fill="#a9b8cc" opacity="0.75"/>
<path d="M218.9 252.7L218.9 294.6" stroke="#5b7496" stroke-width="0.9" />
<path d="M219.6 252.7L219.6 250" stroke="#5b7496" stroke-width="0.7" />
<path d="M223.5 252.7L223.5 290.7L223.9 278.2L224.2 269.8L224.5 264.1L224.9 260.4L225.2 257.8L225.5 256.1L225.9 255L226.2 254.2L226.9 252.7Z" fill="#a9b8cc" opacity="0.75"/>
<path d="M223.5 252.7L223.5 290.7" stroke="#5b7496" stroke-width="0.9" />
<path d="M224.3 252.7L224.3 251.3" stroke="#5b7496" stroke-width="0.7" />
<path d="M228.2 252.7L228.2 288.7L228.5 276.8L228.9 268.9L229.2 263.6L229.5 260L229.9 257.6L230.2 256L230.6 254.9L230.9 254.2L231.6 252.7Z" fill="#a9b8cc" opacity="0.75"/>
<path d="M228.2 252.7L228.2 288.7" stroke="#5b7496" stroke-width="0.9" />
<path d="M228.9 252.7L228.9 250" stroke="#5b7496" stroke-width="0.7" />
<path d="M232.9 252.7L232.9 287.4L233.2 276L233.5 268.3L233.9 263.2L234.2 259.7L234.5 257.4L234.9 255.8L235.2 254.8L235.6 254.1L236.2 252.7Z" fill="#a9b8cc" opacity="0.75"/>
<path d="M232.9 252.7L232.9 287.4" stroke="#5b7496" stroke-width="0.9" />
<path d="M233.6 252.7L233.6 248.7" stroke="#5b7496" stroke-width="0.7" />
<path d="M237.5 252.7L237.5 284.8L237.9 274.2L238.2 267.1L238.5 262.4L238.9 259.2L239.2 257L239.6 255.6L239.9 254.7L240.2 254L240.9 252.7Z" fill="#a9b8cc" opacity="0.75"/>
<path d="M237.5 252.7L237.5 284.8" stroke="#5b7496" stroke-width="0.9" />
<path d="M238.3 252.7L238.3 249.3" stroke="#5b7496" stroke-width="0.7" />
<path d="M242.2 252.7L242.2 284.8L242.5 274.2L242.9 267.1L243.2 262.4L243.6 259.2L243.9 257L244.2 255.6L244.6 254.7L244.9 254L245.6 252.7Z" fill="#a9b8cc" opacity="0.75"/>
<path d="M242.2 252.7L242.2 284.8" stroke="#5b7496" stroke-width="0.9" />
<path d="M243 252.7L243 251.3" stroke="#5b7496" stroke-width="0.7" />
<path d="M246.9 252.7L246.9 284.8L247.2 274.2L247.6 267.1L247.9 262.4L248.2 259.2L248.6 257L248.9 255.6L249.2 254.7L249.6 254L250.2 252.7Z" fill="#a9b8cc" opacity="0.75"/>
<path d="M246.9 252.7L246.9 284.8" stroke="#5b7496" stroke-width="0.9" />
<path d="M247.6 252.7L247.6 250" stroke="#5b7496" stroke-width="0.7" />
<path d="M251.5 252.7L251.5 282.2L251.9 272.5L252.2 265.9L252.6 261.6L252.9 258.7L253.2 256.7L253.6 255.4L253.9 254.5L254.2 253.9L254.9 252.7Z" fill="#a9b8cc" opacity="0.75"/>
<path d="M251.5 252.7L251.5 282.2" stroke="#5b7496" stroke-width="0.9" />
<path d="M252.3 252.7L252.3 249.4" stroke="#5b7496" stroke-width="0.7" />
<path d="M256.2 252.7L256.2 283.5L256.6 273.3L256.9 266.5L257.2 262L257.6 258.9L257.9 256.9L258.2 255.5L258.6 254.6L258.9 254L259.6 252.7Z" fill="#a9b8cc" opacity="0.75"/>
<path d="M256.2 252.7L256.2 283.5" stroke="#5b7496" stroke-width="0.9" />
<path d="M257 252.7L257 250.8" stroke="#5b7496" stroke-width="0.7" />
<path d="M260.9 252.7L260.9 282.2L261.2 272.5L261.6 265.9L261.9 261.6L262.2 258.7L262.6 256.7L262.9 255.4L263.2 254.5L263.6 253.9L264.3 252.7Z" fill="#a9b8cc" opacity="0.75"/>
<path d="M260.9 252.7L260.9 282.2" stroke="#5b7496" stroke-width="0.9" />
<path d="M261.6 252.7L261.6 248.8" stroke="#5b7496" stroke-width="0.7" />
<path d="M265.6 252.7L265.6 281.5L265.9 272L266.2 265.6L266.6 261.4L266.9 258.5L267.2 256.6L267.6 255.3L267.9 254.5L268.2 253.9L268.9 252.7Z" fill="#a9b8cc" opacity="0.75"/>
<path d="M265.6 252.7L265.6 281.5" stroke="#5b7496" stroke-width="0.9" />
<path d="M266.3 252.7L266.3 250.2" stroke="#5b7496" stroke-width="0.7" />
<path d="M270.2 252.7L270.2 278.9L270.6 270.3L270.9 264.5L271.2 260.6L271.6 258L271.9 256.2L272.2 255.1L272.6 254.3L272.9 253.8L273.6 252.7Z" fill="#a9b8cc" opacity="0.75"/>
<path d="M270.2 252.7L270.2 278.9" stroke="#5b7496" stroke-width="0.9" />
<path d="M271 252.7L271 249.4" stroke="#5b7496" stroke-width="0.7" />
<path d="M309.5 243.5L309.5 306.8" stroke="#666" stroke-width="0.8" />
<path d="M309.5 306.8L405.3 306.8" stroke="#666" stroke-width="0.8" />
<path d="M307.3 251.4L309.5 251.4" stroke="#666" stroke-width="0.7" />
<text x="306.5" y="253.3" class="ls" font-size="5.4" fill="#555" text-anchor="end">0</text>
<path d="M307.3 261.2L309.5 261.2" stroke="#666" stroke-width="0.7" />
<text x="306.5" y="263.1" class="ls" font-size="5.4" fill="#555" text-anchor="end">-0.2</text>
<path d="M307.3 271L309.5 271" stroke="#666" stroke-width="0.7" />
<text x="306.5" y="272.9" class="ls" font-size="5.4" fill="#555" text-anchor="end">-0.4</text>
<path d="M307.3 280.8L309.5 280.8" stroke="#666" stroke-width="0.7" />
<text x="306.5" y="282.7" class="ls" font-size="5.4" fill="#555" text-anchor="end">-0.6</text>
<path d="M307.3 290.6L309.5 290.6" stroke="#666" stroke-width="0.7" />
<text x="306.5" y="292.5" class="ls" font-size="5.4" fill="#555" text-anchor="end">-0.8</text>
<path d="M307.3 300.4L309.5 300.4" stroke="#666" stroke-width="0.7" />
<text x="306.5" y="302.3" class="ls" font-size="5.4" fill="#555" text-anchor="end">-1</text>
<path d="M308.2 256.3L309.5 256.3" stroke="#666" stroke-width="0.6" />
<path d="M308.2 266.1L309.5 266.1" stroke="#666" stroke-width="0.6" />
<path d="M308.2 275.9L309.5 275.9" stroke="#666" stroke-width="0.6" />
<path d="M308.2 285.7L309.5 285.7" stroke="#666" stroke-width="0.6" />
<path d="M308.2 295.5L309.5 295.5" stroke="#666" stroke-width="0.6" />
<path d="M308.2 305.3L309.5 305.3" stroke="#666" stroke-width="0.6" />
<path d="M308.2 246.5L309.5 246.5" stroke="#666" stroke-width="0.6" />
<path d="M309.5 306.8L309.5 309" stroke="#666" stroke-width="0.7" />
<text x="309.5" y="314.7" class="ls" font-size="5.4" fill="#555" text-anchor="middle">0</text>
<path d="M314.2 306.8L314.2 308.1" stroke="#666" stroke-width="0.6" />
<path d="M318.9 306.8L318.9 309" stroke="#666" stroke-width="0.7" />
<text x="318.9" y="314.7" class="ls" font-size="5.4" fill="#555" text-anchor="middle">5</text>
<path d="M323.6 306.8L323.6 308.1" stroke="#666" stroke-width="0.6" />
<path d="M328.3 306.8L328.3 309" stroke="#666" stroke-width="0.7" />
<text x="328.3" y="314.7" class="ls" font-size="5.4" fill="#555" text-anchor="middle">10</text>
<path d="M333 306.8L333 308.1" stroke="#666" stroke-width="0.6" />
<path d="M337.7 306.8L337.7 309" stroke="#666" stroke-width="0.7" />
<text x="337.7" y="314.7" class="ls" font-size="5.4" fill="#555" text-anchor="middle">15</text>
<path d="M342.4 306.8L342.4 308.1" stroke="#666" stroke-width="0.6" />
<path d="M347.1 306.8L347.1 309" stroke="#666" stroke-width="0.7" />
<text x="347.1" y="314.7" class="ls" font-size="5.4" fill="#555" text-anchor="middle">20</text>
<path d="M351.8 306.8L351.8 308.1" stroke="#666" stroke-width="0.6" />
<path d="M356.5 306.8L356.5 309" stroke="#666" stroke-width="0.7" />
<text x="356.5" y="314.7" class="ls" font-size="5.4" fill="#555" text-anchor="middle">25</text>
<path d="M361.2 306.8L361.2 308.1" stroke="#666" stroke-width="0.6" />
<path d="M365.9 306.8L365.9 309" stroke="#666" stroke-width="0.7" />
<text x="365.9" y="314.7" class="ls" font-size="5.4" fill="#555" text-anchor="middle">30</text>
<path d="M370.6 306.8L370.6 308.1" stroke="#666" stroke-width="0.6" />
<path d="M375.3 306.8L375.3 309" stroke="#666" stroke-width="0.7" />
<text x="375.3" y="314.7" class="ls" font-size="5.4" fill="#555" text-anchor="middle">35</text>
<path d="M380 306.8L380 308.1" stroke="#666" stroke-width="0.6" />
<path d="M384.7 306.8L384.7 309" stroke="#666" stroke-width="0.7" />
<text x="384.7" y="314.7" class="ls" font-size="5.4" fill="#555" text-anchor="middle">40</text>
<path d="M389.4 306.8L389.4 308.1" stroke="#666" stroke-width="0.6" />
<path d="M394.1 306.8L394.1 309" stroke="#666" stroke-width="0.7" />
<text x="394.1" y="314.7" class="ls" font-size="5.4" fill="#555" text-anchor="middle">45</text>
<path d="M398.8 306.8L398.8 308.1" stroke="#666" stroke-width="0.6" />
<path d="M403.5 306.8L403.5 309" stroke="#666" stroke-width="0.7" />
<text x="403.5" y="314.7" class="ls" font-size="5.4" fill="#555" text-anchor="middle">50</text>
<text x="353.7" y="323" class="ls" font-size="8.4" fill="#333" text-anchor="middle" textLength="32.7" lengthAdjust="spacingAndGlyphs">Time (min)</text>
<text x="294.7" y="277.1" class="ls" font-size="8" fill="#333" text-anchor="middle" textLength="33.5" lengthAdjust="spacingAndGlyphs" transform="rotate(-90 294.7 277.1)">DP (μcal/s)</text>
<path d="M310.1 251.3L310.4 250.7L310.7 251.9L311.1 250.8L311.4 251.6L311.8 251.6L312.1 250.3L312.4 251.3L312.8 251.4L313.1 251L313.4 250.7L313.8 251.4L314.1 251.1L314.5 252L314.8 251.6L315.1 251.7L315.5 252.2L315.8 252.3L316.2 252.4L316.5 251.5L316.8 251.5L317.2 251.6L317.5 251.4L317.8 252.2L318.2 251.4L318.5 251.3L318.9 251L319.2 251.9L319.5 251.6L319.9 252.6L320.2 251.7L320.6 252.7L320.9 252.2L321.2 250.8L321.6 252.7L321.9 250.9L322.2 251.2L322.6 251.6L322.9 251.1L323.3 251.1L323.6 250.8L323.9 251.5L324.3 251.7L324.6 251.8L325 252L325.3 251.4L325.6 251.9L326 250.8L326.3 252.5L326.6 252L327 252L327.3 252.6L327.7 250.3L328 252.8L328.3 251.6L328.7 251.7L329 250.4L329.4 252.6L329.7 250.8L330 251.8L330.4 251.5L330.7 251.8L331 251L331.4 252.1L331.7 251.4L332.1 251.2L332.4 250.3L332.7 252.8L333.1 250.5L333.4 250.8L333.8 251.7L334.1 251.2L334.4 251.7L334.8 250.4L335.1 251.3L335.4 251.5L335.8 251.5L336.1 251.5L336.5 251.5L336.8 251.9L337.1 250.2L337.5 252.5L337.8 253.5L338.2 251.5L338.5 251.5L338.8 251.2L339.2 251.5L339.5 251.5L339.8 251.2L340.2 250.8L340.5 251.7L340.9 251.6L341.2 250.3L341.5 251.1L341.9 252L342.2 250L342.6 250.9L342.9 251.7L343.2 252.1L343.6 251.2L343.9 251.9L344.2 252L344.6 252.2L344.9 251.7L345.3 250.7L345.6 251.7L345.9 252.3L346.3 251L346.6 251.4L346.9 250.9L347.3 250.7L347.6 251.5L348 251.5L348.3 251.4L348.6 252.1L349 251L349.3 250.6L349.7 251.3L350 251.5L350.3 251.6L350.7 251.9L351 251.9L351.3 251.6L351.7 251.9L352 251.7L352.4 252.3L352.7 251.2L353 251.4L353.4 252.1L353.7 252.8L354.1 251.4L354.4 250.8L354.7 251.8L355.1 251.7L355.4 251.7L355.7 251L356.1 251.9L356.4 250.8L356.8 251.6L357.1 250.9L357.4 251.4L357.8 251.5L358.1 252.3L358.5 251.8L358.8 251.6L359.1 251L359.5 251.3L359.8 251.8L360.1 251.2L360.5 250.8L360.8 251.5L361.2 251.7L361.5 251.6L361.8 250.9L362.2 251.1L362.5 251.9L362.9 251.2L363.2 251.7L363.5 251.8L363.9 250.7L364.2 250.9L364.5 251.8L364.9 251.4L365.2 251.1L365.6 251.8L365.9 251.5L366.2 251L366.6 252.5L366.9 251.2L367.3 251L367.6 251.1L367.9 252.2L368.3 251.2L368.6 251.9L368.9 251.1L369.3 251L369.6 251.3L370 251.9L370.3 251.7L370.6 250.9L371 251.9L371.3 251.1L371.7 251.1L372 251.6L372.3 250L372.7 251.4L373 250.1L373.3 252.6L373.7 252.7L374 250.8L374.4 251L374.7 251.6L375 251.4L375.4 252.5L375.7 251.8L376.1 252L376.4 251.5L376.7 250.9L377.1 251.4L377.4 251.2L377.7 251.8L378.1 251.7L378.4 251.3L378.8 251.6L379.1 250.7L379.4 251.9L379.8 250.3L380.1 252L380.5 250.8L380.8 251.9L381.1 250.4L381.5 251.3L381.8 251.2L382.1 251L382.5 251.8L382.8 252L383.2 252.6L383.5 250.7L383.8 251.8L384.2 251.7L384.5 251.4L384.9 250.2L385.2 252.4L385.5 251.3L385.9 251.6L386.2 251.1L386.5 252.5L386.9 251.6L387.2 250.9L387.6 250.5L387.9 250.5L388.2 251.9L388.6 251.4L388.9 251.5L389.2 252.2L389.6 252.2L389.9 251L390.3 251.3L390.6 251.5L390.9 250.7L391.3 252L391.6 251.1L392 251.4L392.3 251.4L392.6 251.1L393 251.3L393.3 251.2L393.6 251.2L394 250.3L394.3 251.6L394.7 250.8L395 251L395.3 251.6L395.7 250.9L396 251.9L396.4 250.7L396.7 251.9L397 251.7L397.4 251.2L397.7 250.9L398 250.9L398.4 250.9L398.7 251.5L399.1 252L399.4 251.1L399.7 251.2L400.1 252" stroke="#5b7496" stroke-width="0.7" fill="none"/>
<path d="M311.4 251.4L311.4 267.1L311.7 261.9L312.1 258.4L312.4 256.1L312.7 254.6L313.1 253.5L313.4 252.8L313.7 252.4L314.1 252L314.8 251.4Z" fill="#a9b8cc" opacity="0.75"/>
<path d="M311.4 251.4L311.4 267.1" stroke="#5b7496" stroke-width="0.9" />
<path d="M312.1 251.4L312.1 248.1" stroke="#5b7496" stroke-width="0.7" />
<path d="M316.1 251.4L316.1 306.8L316.4 288.5L316.8 276.3L317.1 268.1L317.4 262.6L317.8 258.9L318.1 256.4L318.4 254.8L318.8 253.7L319.5 251.4Z" fill="#a9b8cc" opacity="0.75"/>
<path d="M316.1 251.4L316.1 306.8" stroke="#5b7496" stroke-width="0.9" />
<path d="M316.8 251.4L316.8 249.3" stroke="#5b7496" stroke-width="0.7" />
<path d="M320.8 251.4L320.8 304.3L321.1 286.9L321.5 275.2L321.8 267.3L322.1 262.1L322.5 258.6L322.8 256.2L323.1 254.6L323.5 253.6L324.2 251.4Z" fill="#a9b8cc" opacity="0.75"/>
<path d="M320.8 251.4L320.8 304.3" stroke="#5b7496" stroke-width="0.9" />
<path d="M321.5 251.4L321.5 248.1" stroke="#5b7496" stroke-width="0.7" />
<path d="M325.5 251.4L325.5 299.4L325.8 283.6L326.2 273L326.5 265.9L326.8 261.1L327.2 257.9L327.5 255.8L327.8 254.3L328.2 253.4L328.9 251.4Z" fill="#a9b8cc" opacity="0.75"/>
<path d="M325.5 251.4L325.5 299.4" stroke="#5b7496" stroke-width="0.9" />
<path d="M326.2 251.4L326.2 248.6" stroke="#5b7496" stroke-width="0.7" />
<path d="M330.2 251.4L330.2 290.6L330.5 277.7L330.9 269L331.2 263.2L331.5 259.3L331.9 256.7L332.2 255L332.5 253.8L332.9 253L333.6 251.4Z" fill="#a9b8cc" opacity="0.75"/>
<path d="M330.2 251.4L330.2 290.6" stroke="#5b7496" stroke-width="0.9" />
<path d="M330.9 251.4L330.9 249.2" stroke="#5b7496" stroke-width="0.7" />
<path d="M334.9 251.4L334.9 279.8L335.2 270.5L335.6 264.2L335.9 260L336.2 257.1L336.6 255.2L336.9 254L337.2 253.1L337.6 252.6L338.3 251.4Z" fill="#a9b8cc" opacity="0.75"/>
<path d="M334.9 251.4L334.9 279.8" stroke="#5b7496" stroke-width="0.9" />
<path d="M335.6 251.4L335.6 249.3" stroke="#5b7496" stroke-width="0.7" />
<path d="M339.6 251.4L339.6 276.9L339.9 268.5L340.3 262.8L340.6 259.1L340.9 256.5L341.3 254.8L341.6 253.7L341.9 252.9L342.3 252.4L343 251.4Z" fill="#a9b8cc" opacity="0.75"/>
<path d="M339.6 251.4L339.6 276.9" stroke="#5b7496" stroke-width="0.9" />
<path d="M340.3 251.4L340.3 249" stroke="#5b7496" stroke-width="0.7" />
<path d="M344.3 251.4L344.3 274.4L344.6 266.8L345 261.7L345.3 258.3L345.6 256L346 254.5L346.3 253.5L346.6 252.8L347 252.3L347.7 251.4Z" fill="#a9b8cc" opacity="0.75"/>
<path d="M344.3 251.4L344.3 274.4" stroke="#5b7496" stroke-width="0.9" />
<path d="M345 251.4L345 248.4" stroke="#5b7496" stroke-width="0.7" />
<path d="M349 251.4L349 272.5L349.3 265.5L349.7 260.9L350 257.7L350.3 255.7L350.7 254.3L351 253.3L351.3 252.7L351.7 252.3L352.4 251.4Z" fill="#a9b8cc" opacity="0.75"/>
<path d="M349 251.4L349 272.5" stroke="#5b7496" stroke-width="0.9" />
<path d="M349.7 251.4L349.7 249.2" stroke="#5b7496" stroke-width="0.7" />
<path d="M353.7 251.4L353.7 271L354 264.5L354.4 260.2L354.7 257.3L355 255.4L355.4 254.1L355.7 253.2L356 252.6L356.4 252.2L357.1 251.4Z" fill="#a9b8cc" opacity="0.75"/>
<path d="M353.7 251.4L353.7 271" stroke="#5b7496" stroke-width="0.9" />
<path d="M354.4 251.4L354.4 248.4" stroke="#5b7496" stroke-width="0.7" />
<path d="M358.4 251.4L358.4 270L358.7 263.9L359.1 259.8L359.4 257L359.7 255.2L360.1 253.9L360.4 253.1L360.7 252.5L361.1 252.2L361.8 251.4Z" fill="#a9b8cc" opacity="0.75"/>
<path d="M358.4 251.4L358.4 270" stroke="#5b7496" stroke-width="0.9" />
<path d="M359.1 251.4L359.1 249.1" stroke="#5b7496" stroke-width="0.7" />
<path d="M363.1 251.4L363.1 269.5L363.4 263.6L363.8 259.5L364.1 256.9L364.4 255.1L364.8 253.9L365.1 253L365.4 252.5L365.8 252.1L366.5 251.4Z" fill="#a9b8cc" opacity="0.75"/>
<path d="M363.1 251.4L363.1 269.5" stroke="#5b7496" stroke-width="0.9" />
<path d="M363.8 251.4L363.8 249.7" stroke="#5b7496" stroke-width="0.7" />
<path d="M367.8 251.4L367.8 264.6L368.1 260.3L368.5 257.3L368.8 255.4L369.1 254.1L369.5 253.2L369.8 252.6L370.1 252.2L370.5 251.9L371.2 251.4Z" fill="#a9b8cc" opacity="0.75"/>
<path d="M367.8 251.4L367.8 264.6" stroke="#5b7496" stroke-width="0.9" />
<path d="M368.5 251.4L368.5 248.8" stroke="#5b7496" stroke-width="0.7" />
<path d="M372.5 251.4L372.5 264.6L372.8 260.3L373.2 257.3L373.5 255.4L373.8 254.1L374.2 253.2L374.5 252.6L374.8 252.2L375.2 251.9L375.9 251.4Z" fill="#a9b8cc" opacity="0.75"/>
<path d="M372.5 251.4L372.5 264.6" stroke="#5b7496" stroke-width="0.9" />
<path d="M373.2 251.4L373.2 248.4" stroke="#5b7496" stroke-width="0.7" />
<path d="M377.2 251.4L377.2 264.6L377.5 260.3L377.9 257.3L378.2 255.4L378.5 254.1L378.9 253.2L379.2 252.6L379.5 252.2L379.9 251.9L380.6 251.4Z" fill="#a9b8cc" opacity="0.75"/>
<path d="M377.2 251.4L377.2 264.6" stroke="#5b7496" stroke-width="0.9" />
<path d="M377.9 251.4L377.9 250.2" stroke="#5b7496" stroke-width="0.7" />
<path d="M381.9 251.4L381.9 264.6L382.2 260.3L382.6 257.3L382.9 255.4L383.2 254.1L383.6 253.2L383.9 252.6L384.2 252.2L384.6 251.9L385.3 251.4Z" fill="#a9b8cc" opacity="0.75"/>
<path d="M381.9 251.4L381.9 264.6" stroke="#5b7496" stroke-width="0.9" />
<path d="M382.6 251.4L382.6 249.2" stroke="#5b7496" stroke-width="0.7" />
<path d="M386.6 251.4L386.6 260.2L386.9 257.3L387.3 255.4L387.6 254.1L387.9 253.2L388.3 252.6L388.6 252.2L388.9 251.9L389.3 251.8L390 251.4Z" fill="#a9b8cc" opacity="0.75"/>
<path d="M386.6 251.4L386.6 260.2" stroke="#5b7496" stroke-width="0.9" />
<path d="M387.3 251.4L387.3 249.2" stroke="#5b7496" stroke-width="0.7" />
<path d="M391.3 251.4L391.3 260.2L391.6 257.3L392 255.4L392.3 254.1L392.6 253.2L393 252.6L393.3 252.2L393.6 251.9L394 251.8L394.7 251.4Z" fill="#a9b8cc" opacity="0.75"/>
<path d="M391.3 251.4L391.3 260.2" stroke="#5b7496" stroke-width="0.9" />
<path d="M392 251.4L392 247.8" stroke="#5b7496" stroke-width="0.7" />
<path d="M396 251.4L396 262.7L396.3 259L396.7 256.5L397 254.8L397.3 253.7L397.7 252.9L398 252.4L398.3 252.1L398.7 251.9L399.4 251.4Z" fill="#a9b8cc" opacity="0.75"/>
<path d="M396 251.4L396 262.7" stroke="#5b7496" stroke-width="0.9" />
<path d="M396.7 251.4L396.7 247.7" stroke="#5b7496" stroke-width="0.7" />
<path d="M440.5 245L440.5 306.8" stroke="#666" stroke-width="0.8" />
<path d="M440.5 306.8L534.7 306.8" stroke="#666" stroke-width="0.8" />
<path d="M438.3 250.4L440.5 250.4" stroke="#666" stroke-width="0.7" />
<text x="437.5" y="252.3" class="ls" font-size="5.4" fill="#555" text-anchor="end">0</text>
<path d="M438.3 258.2L440.5 258.2" stroke="#666" stroke-width="0.7" />
<text x="437.5" y="260.1" class="ls" font-size="5.4" fill="#555" text-anchor="end">-0.1</text>
<path d="M438.3 266L440.5 266" stroke="#666" stroke-width="0.7" />
<text x="437.5" y="267.9" class="ls" font-size="5.4" fill="#555" text-anchor="end">-0.2</text>
<path d="M438.3 273.8L440.5 273.8" stroke="#666" stroke-width="0.7" />
<text x="437.5" y="275.7" class="ls" font-size="5.4" fill="#555" text-anchor="end">-0.3</text>
<path d="M438.3 281.5L440.5 281.5" stroke="#666" stroke-width="0.7" />
<text x="437.5" y="283.4" class="ls" font-size="5.4" fill="#555" text-anchor="end">-0.4</text>
<path d="M438.3 289.3L440.5 289.3" stroke="#666" stroke-width="0.7" />
<text x="437.5" y="291.2" class="ls" font-size="5.4" fill="#555" text-anchor="end">-0.5</text>
<path d="M438.3 297.1L440.5 297.1" stroke="#666" stroke-width="0.7" />
<text x="437.5" y="299" class="ls" font-size="5.4" fill="#555" text-anchor="end">-0.6</text>
<path d="M438.3 304.9L440.5 304.9" stroke="#666" stroke-width="0.7" />
<text x="437.5" y="306.8" class="ls" font-size="5.4" fill="#555" text-anchor="end">-0.7</text>
<path d="M439.2 254.3L440.5 254.3" stroke="#666" stroke-width="0.6" />
<path d="M439.2 262.1L440.5 262.1" stroke="#666" stroke-width="0.6" />
<path d="M439.2 269.9L440.5 269.9" stroke="#666" stroke-width="0.6" />
<path d="M439.2 277.7L440.5 277.7" stroke="#666" stroke-width="0.6" />
<path d="M439.2 285.4L440.5 285.4" stroke="#666" stroke-width="0.6" />
<path d="M439.2 293.2L440.5 293.2" stroke="#666" stroke-width="0.6" />
<path d="M439.2 301L440.5 301" stroke="#666" stroke-width="0.6" />
<path d="M439.2 246.5L440.5 246.5" stroke="#666" stroke-width="0.6" />
<path d="M440.5 306.8L440.5 309" stroke="#666" stroke-width="0.7" />
<text x="440.5" y="314.7" class="ls" font-size="5.4" fill="#555" text-anchor="middle">0</text>
<path d="M445.1 306.8L445.1 308.1" stroke="#666" stroke-width="0.6" />
<path d="M449.7 306.8L449.7 309" stroke="#666" stroke-width="0.7" />
<text x="449.7" y="314.7" class="ls" font-size="5.4" fill="#555" text-anchor="middle">5</text>
<path d="M454.4 306.8L454.4 308.1" stroke="#666" stroke-width="0.6" />
<path d="M459 306.8L459 309" stroke="#666" stroke-width="0.7" />
<text x="459" y="314.7" class="ls" font-size="5.4" fill="#555" text-anchor="middle">10</text>
<path d="M463.6 306.8L463.6 308.1" stroke="#666" stroke-width="0.6" />
<path d="M468.2 306.8L468.2 309" stroke="#666" stroke-width="0.7" />
<text x="468.2" y="314.7" class="ls" font-size="5.4" fill="#555" text-anchor="middle">15</text>
<path d="M472.8 306.8L472.8 308.1" stroke="#666" stroke-width="0.6" />
<path d="M477.5 306.8L477.5 309" stroke="#666" stroke-width="0.7" />
<text x="477.5" y="314.7" class="ls" font-size="5.4" fill="#555" text-anchor="middle">20</text>
<path d="M482.1 306.8L482.1 308.1" stroke="#666" stroke-width="0.6" />
<path d="M486.7 306.8L486.7 309" stroke="#666" stroke-width="0.7" />
<text x="486.7" y="314.7" class="ls" font-size="5.4" fill="#555" text-anchor="middle">25</text>
<path d="M491.3 306.8L491.3 308.1" stroke="#666" stroke-width="0.6" />
<path d="M495.9 306.8L495.9 309" stroke="#666" stroke-width="0.7" />
<text x="495.9" y="314.7" class="ls" font-size="5.4" fill="#555" text-anchor="middle">30</text>
<path d="M500.6 306.8L500.6 308.1" stroke="#666" stroke-width="0.6" />
<path d="M505.2 306.8L505.2 309" stroke="#666" stroke-width="0.7" />
<text x="505.2" y="314.7" class="ls" font-size="5.4" fill="#555" text-anchor="middle">35</text>
<path d="M509.8 306.8L509.8 308.1" stroke="#666" stroke-width="0.6" />
<path d="M514.4 306.8L514.4 309" stroke="#666" stroke-width="0.7" />
<text x="514.4" y="314.7" class="ls" font-size="5.4" fill="#555" text-anchor="middle">40</text>
<path d="M519 306.8L519 308.1" stroke="#666" stroke-width="0.6" />
<path d="M523.7 306.8L523.7 309" stroke="#666" stroke-width="0.7" />
<text x="523.7" y="314.7" class="ls" font-size="5.4" fill="#555" text-anchor="middle">45</text>
<path d="M528.3 306.8L528.3 308.1" stroke="#666" stroke-width="0.6" />
<path d="M532.9 306.8L532.9 309" stroke="#666" stroke-width="0.7" />
<text x="532.9" y="314.7" class="ls" font-size="5.4" fill="#555" text-anchor="middle">50</text>
<text x="483.9" y="323" class="ls" font-size="8.4" fill="#333" text-anchor="middle" textLength="32.7" lengthAdjust="spacingAndGlyphs">Time (min)</text>
<text x="426.2" y="277.9" class="ls" font-size="8" fill="#333" text-anchor="middle" textLength="33.5" lengthAdjust="spacingAndGlyphs" transform="rotate(-90 426.2 277.9)">DP (μcal/s)</text>
<path d="M441.1 250.4L441.4 250L441.7 250.8L442.1 250.1L442.4 249.5L442.7 250L443.1 248.9L443.4 251.2L443.7 250.3L444 251.1L444.4 251.1L444.7 250.6L445 250.2L445.4 250L445.7 249.9L446 248.3L446.4 249.6L446.7 251.9L447 250.2L447.4 251L447.7 250.9L448 249.2L448.4 250.6L448.7 252.2L449 250.1L449.4 250.7L449.7 251.5L450 251.3L450.4 251L450.7 250.4L451 250.8L451.4 250.3L451.7 248.7L452 251.1L452.4 251.2L452.7 250.6L453 249.4L453.4 251.1L453.7 249.1L454 251.6L454.4 251.4L454.7 250.5L455 251.2L455.4 251L455.7 250L456 249.7L456.4 250.3L456.7 250.7L457 249.1L457.4 250L457.7 250.6L458 249.3L458.4 251.2L458.7 250.2L459 249.8L459.3 250.4L459.7 250.9L460 250.1L460.3 250.9L460.7 251L461 251.4L461.3 249.2L461.7 250.9L462 249.3L462.3 250L462.7 250.6L463 249.8L463.3 250.1L463.7 250.3L464 251.7L464.3 250.3L464.7 249.6L465 249.9L465.3 249.5L465.7 249L466 250L466.3 248.6L466.7 251.8L467 250.6L467.3 252.8L467.7 249.6L468 250.3L468.3 248.8L468.7 250.7L469 252.3L469.3 249.2L469.7 251.7L470 251.6L470.3 250.6L470.7 249.8L471 250.9L471.3 250.2L471.7 252.2L472 248.8L472.3 250.5L472.7 250.3L473 249.9L473.3 250.2L473.7 250.2L474 251.3L474.3 250.5L474.7 250L475 249.4L475.3 250.5L475.6 250.3L476 250.1L476.3 249.9L476.6 250.2L477 250.6L477.3 250.9L477.6 249.4L478 250.1L478.3 250.4L478.6 247.2L479 249.6L479.3 249.6L479.6 250.3L480 251.3L480.3 249.3L480.6 250.5L481 250.4L481.3 249.4L481.6 249.4L482 250.2L482.3 250.4L482.6 248.4L483 249.9L483.3 251.4L483.6 249.7L484 250.3L484.3 250.4L484.6 249.8L485 250.2L485.3 248.5L485.6 250.2L486 250.2L486.3 249.3L486.6 250.9L487 249.5L487.3 250.5L487.6 249.3L488 251.2L488.3 250L488.6 251.9L489 250.8L489.3 250.4L489.6 249.9L490 248.6L490.3 248.7L490.6 251.7L491 251.1L491.3 249.2L491.6 250L491.9 251.7L492.3 249.9L492.6 251.5L492.9 251.2L493.3 251.6L493.6 250.6L493.9 248.3L494.3 250L494.6 250.5L494.9 248.1L495.3 250.8L495.6 250.5L495.9 250.6L496.3 250L496.6 250.7L496.9 249L497.3 250.7L497.6 249.9L497.9 250.2L498.3 251.2L498.6 251.3L498.9 250.4L499.3 252.5L499.6 250.4L499.9 250.3L500.3 250.3L500.6 250.5L500.9 250.1L501.3 250.7L501.6 249.8L501.9 251.9L502.3 249.5L502.6 251.2L502.9 249.9L503.3 250.8L503.6 250.8L503.9 251.1L504.3 249.1L504.6 251.4L504.9 251.5L505.3 250.2L505.6 250.2L505.9 250.4L506.3 251.3L506.6 251L506.9 249.6L507.2 251.4L507.6 249.8L507.9 249.7L508.2 250.3L508.6 251.5L508.9 248.6L509.2 250.3L509.6 250.2L509.9 250.7L510.2 251.3L510.6 250.6L510.9 250.2L511.2 251.2L511.6 250.3L511.9 249.3L512.2 250L512.6 250.5L512.9 249.4L513.2 249.5L513.6 249.6L513.9 251.1L514.2 252.1L514.6 249.7L514.9 250.3L515.2 250.7L515.6 249.9L515.9 250.8L516.2 251L516.6 248.7L516.9 251.9L517.2 249.6L517.6 249.5L517.9 248.7L518.2 250.2L518.6 249.9L518.9 251.2L519.2 250.4L519.6 252.4L519.9 250.9L520.2 250.4L520.6 250.5L520.9 250.8L521.2 249.3L521.6 251.9L521.9 250.3L522.2 250.8L522.6 250.4L522.9 250.3L523.2 248.6L523.5 251.4L523.9 249.2L524.2 249.1L524.5 250.5L524.9 251L525.2 251.5L525.5 251.2L525.9 248.5L526.2 252.4L526.5 250L526.9 251L527.2 248.6L527.5 250.1L527.9 251.7L528.2 250.9L528.5 250.2L528.9 250.3L529.2 251.3L529.5 250.7" stroke="#5b7496" stroke-width="0.7" fill="none"/>
<path d="M442.3 250.4L442.3 265.2L442.7 260.3L443 257L443.3 254.9L443.7 253.4L444 252.4L444.3 251.7L444.7 251.3L445 251L445.7 250.4Z" fill="#a9b8cc" opacity="0.75"/>
<path d="M442.3 250.4L442.3 265.2" stroke="#5b7496" stroke-width="0.9" />
<path d="M443.1 250.4L443.1 249" stroke="#5b7496" stroke-width="0.7" />
<path d="M447 250.4L447 305.7L447.3 287.5L447.6 275.2L448 267.1L448.3 261.6L448.6 257.9L449 255.4L449.3 253.8L449.6 252.7L450.3 250.4Z" fill="#a9b8cc" opacity="0.75"/>
<path d="M447 250.4L447 305.7" stroke="#5b7496" stroke-width="0.9" />
<path d="M447.7 250.4L447.7 248.8" stroke="#5b7496" stroke-width="0.7" />
<path d="M451.6 250.4L451.6 304.1L451.9 286.4L452.3 274.5L452.6 266.6L452.9 261.2L453.3 257.7L453.6 255.3L453.9 253.7L454.2 252.6L454.9 250.4Z" fill="#a9b8cc" opacity="0.75"/>
<path d="M451.6 250.4L451.6 304.1" stroke="#5b7496" stroke-width="0.9" />
<path d="M452.3 250.4L452.3 246.7" stroke="#5b7496" stroke-width="0.7" />
<path d="M456.2 250.4L456.2 300.2L456.5 283.8L456.9 272.8L457.2 265.4L457.5 260.5L457.9 257.1L458.2 254.9L458.5 253.4L458.9 252.4L459.5 250.4Z" fill="#a9b8cc" opacity="0.75"/>
<path d="M456.2 250.4L456.2 300.2" stroke="#5b7496" stroke-width="0.9" />
<path d="M456.9 250.4L456.9 248.7" stroke="#5b7496" stroke-width="0.7" />
<path d="M460.8 250.4L460.8 296.3L461.2 281.2L461.5 271L461.8 264.2L462.2 259.7L462.5 256.6L462.8 254.6L463.2 253.2L463.5 252.3L464.2 250.4Z" fill="#a9b8cc" opacity="0.75"/>
<path d="M460.8 250.4L460.8 296.3" stroke="#5b7496" stroke-width="0.9" />
<path d="M461.6 250.4L461.6 246.4" stroke="#5b7496" stroke-width="0.7" />
<path d="M465.4 250.4L465.4 293.2L465.8 279.1L466.1 269.6L466.4 263.3L466.8 259L467.1 256.2L467.4 254.3L467.8 253L468.1 252.1L468.8 250.4Z" fill="#a9b8cc" opacity="0.75"/>
<path d="M465.4 250.4L465.4 293.2" stroke="#5b7496" stroke-width="0.9" />
<path d="M466.2 250.4L466.2 248.1" stroke="#5b7496" stroke-width="0.7" />
<path d="M470.1 250.4L470.1 289.3L470.4 276.5L470.7 267.9L471.1 262.1L471.4 258.3L471.7 255.7L472.1 253.9L472.4 252.8L472.7 252L473.4 250.4Z" fill="#a9b8cc" opacity="0.75"/>
<path d="M470.1 250.4L470.1 289.3" stroke="#5b7496" stroke-width="0.9" />
<path d="M470.8 250.4L470.8 247.4" stroke="#5b7496" stroke-width="0.7" />
<path d="M474.7 250.4L474.7 287.8L475 275.5L475.4 267.2L475.7 261.7L476 257.9L476.4 255.5L476.7 253.8L477 252.7L477.3 251.9L478 250.4Z" fill="#a9b8cc" opacity="0.75"/>
<path d="M474.7 250.4L474.7 287.8" stroke="#5b7496" stroke-width="0.9" />
<path d="M475.4 250.4L475.4 248.2" stroke="#5b7496" stroke-width="0.7" />
<path d="M479.3 250.4L479.3 285.4L479.6 273.9L480 266.1L480.3 261L480.6 257.5L481 255.1L481.3 253.6L481.6 252.5L482 251.8L482.6 250.4Z" fill="#a9b8cc" opacity="0.75"/>
<path d="M479.3 250.4L479.3 285.4" stroke="#5b7496" stroke-width="0.9" />
<path d="M480 250.4L480 247.3" stroke="#5b7496" stroke-width="0.7" />
<path d="M483.9 250.4L483.9 283.1L484.3 272.3L484.6 265.1L484.9 260.2L485.3 257L485.6 254.8L485.9 253.4L486.3 252.4L486.6 251.7L487.3 250.4Z" fill="#a9b8cc" opacity="0.75"/>
<path d="M483.9 250.4L483.9 283.1" stroke="#5b7496" stroke-width="0.9" />
<path d="M484.7 250.4L484.7 249" stroke="#5b7496" stroke-width="0.7" />
<path d="M488.5 250.4L488.5 283.1L488.9 272.3L489.2 265.1L489.5 260.2L489.9 257L490.2 254.8L490.5 253.4L490.9 252.4L491.2 251.7L491.9 250.4Z" fill="#a9b8cc" opacity="0.75"/>
<path d="M488.5 250.4L488.5 283.1" stroke="#5b7496" stroke-width="0.9" />
<path d="M489.3 250.4L489.3 248" stroke="#5b7496" stroke-width="0.7" />
<path d="M493.2 250.4L493.2 279.2L493.5 269.7L493.8 263.3L494.2 259.1L494.5 256.2L494.8 254.3L495.2 253L495.5 252.2L495.8 251.6L496.5 250.4Z" fill="#a9b8cc" opacity="0.75"/>
<path d="M493.2 250.4L493.2 279.2" stroke="#5b7496" stroke-width="0.9" />
<path d="M493.9 250.4L493.9 246.2" stroke="#5b7496" stroke-width="0.7" />
<path d="M497.8 250.4L497.8 280L498.1 270.2L498.5 263.7L498.8 259.3L499.1 256.4L499.5 254.4L499.8 253.1L500.1 252.2L500.4 251.6L501.1 250.4Z" fill="#a9b8cc" opacity="0.75"/>
<path d="M497.8 250.4L497.8 280" stroke="#5b7496" stroke-width="0.9" />
<path d="M498.5 250.4L498.5 248.7" stroke="#5b7496" stroke-width="0.7" />
<path d="M502.4 250.4L502.4 277.7L502.7 268.7L503.1 262.6L503.4 258.6L503.7 255.9L504.1 254.1L504.4 252.9L504.7 252.1L505.1 251.5L505.7 250.4Z" fill="#a9b8cc" opacity="0.75"/>
<path d="M502.4 250.4L502.4 277.7" stroke="#5b7496" stroke-width="0.9" />
<path d="M503.1 250.4L503.1 247.2" stroke="#5b7496" stroke-width="0.7" />
<path d="M507 250.4L507 277.7L507.4 268.7L507.7 262.6L508 258.6L508.4 255.9L508.7 254.1L509 252.9L509.4 252.1L509.7 251.5L510.4 250.4Z" fill="#a9b8cc" opacity="0.75"/>
<path d="M507 250.4L507 277.7" stroke="#5b7496" stroke-width="0.9" />
<path d="M507.8 250.4L507.8 248.2" stroke="#5b7496" stroke-width="0.7" />
<path d="M511.6 250.4L511.6 276.9L512 268.1L512.3 262.3L512.6 258.4L513 255.7L513.3 254L513.6 252.8L514 252L514.3 251.5L515 250.4Z" fill="#a9b8cc" opacity="0.75"/>
<path d="M511.6 250.4L511.6 276.9" stroke="#5b7496" stroke-width="0.9" />
<path d="M512.4 250.4L512.4 248.3" stroke="#5b7496" stroke-width="0.7" />
<path d="M516.3 250.4L516.3 275.3L516.6 267.1L516.9 261.6L517.3 257.9L517.6 255.4L517.9 253.8L518.3 252.7L518.6 251.9L518.9 251.4L519.6 250.4Z" fill="#a9b8cc" opacity="0.75"/>
<path d="M516.3 250.4L516.3 275.3" stroke="#5b7496" stroke-width="0.9" />
<path d="M517 250.4L517 249.2" stroke="#5b7496" stroke-width="0.7" />
<path d="M520.9 250.4L520.9 273.8L521.2 266.1L521.6 260.9L521.9 257.4L522.2 255.1L522.6 253.6L522.9 252.5L523.2 251.8L523.5 251.4L524.2 250.4Z" fill="#a9b8cc" opacity="0.75"/>
<path d="M520.9 250.4L520.9 273.8" stroke="#5b7496" stroke-width="0.9" />
<path d="M521.6 250.4L521.6 249.2" stroke="#5b7496" stroke-width="0.7" />
<path d="M525.5 250.4L525.5 275.3L525.8 267.1L526.2 261.6L526.5 257.9L526.8 255.4L527.2 253.8L527.5 252.7L527.8 251.9L528.2 251.4L528.8 250.4Z" fill="#a9b8cc" opacity="0.75"/>
<path d="M525.5 250.4L525.5 275.3" stroke="#5b7496" stroke-width="0.9" />
<path d="M526.2 250.4L526.2 246.2" stroke="#5b7496" stroke-width="0.7" />
<path d="M568.3 244.5L568.3 305" stroke="#666" stroke-width="0.8" />
<path d="M568.3 305L662.2 305" stroke="#666" stroke-width="0.8" />
<path d="M566.1 250.4L568.3 250.4" stroke="#666" stroke-width="0.7" />
<text x="565.3" y="252.3" class="ls" font-size="5.4" fill="#555" text-anchor="end">0</text>
<path d="M566.1 261.8L568.3 261.8" stroke="#666" stroke-width="0.7" />
<text x="565.3" y="263.6" class="ls" font-size="5.4" fill="#555" text-anchor="end">-0.2</text>
<path d="M566.1 273.1L568.3 273.1" stroke="#666" stroke-width="0.7" />
<text x="565.3" y="275" class="ls" font-size="5.4" fill="#555" text-anchor="end">-0.4</text>
<path d="M566.1 284.4L568.3 284.4" stroke="#666" stroke-width="0.7" />
<text x="565.3" y="286.3" class="ls" font-size="5.4" fill="#555" text-anchor="end">-0.6</text>
<path d="M566.1 295.8L568.3 295.8" stroke="#666" stroke-width="0.7" />
<text x="565.3" y="297.7" class="ls" font-size="5.4" fill="#555" text-anchor="end">-0.8</text>
<path d="M567 256.1L568.3 256.1" stroke="#666" stroke-width="0.6" />
<path d="M567 267.4L568.3 267.4" stroke="#666" stroke-width="0.6" />
<path d="M567 278.8L568.3 278.8" stroke="#666" stroke-width="0.6" />
<path d="M567 290.1L568.3 290.1" stroke="#666" stroke-width="0.6" />
<path d="M567 301.5L568.3 301.5" stroke="#666" stroke-width="0.6" />
<path d="M567 244.7L568.3 244.7" stroke="#666" stroke-width="0.6" />
<path d="M568.3 305L568.3 307.2" stroke="#666" stroke-width="0.7" />
<text x="568.3" y="312.9" class="ls" font-size="5.4" fill="#555" text-anchor="middle">0</text>
<path d="M572.9 305L572.9 306.3" stroke="#666" stroke-width="0.6" />
<path d="M577.5 305L577.5 307.2" stroke="#666" stroke-width="0.7" />
<text x="577.5" y="312.9" class="ls" font-size="5.4" fill="#555" text-anchor="middle">5</text>
<path d="M582.1 305L582.1 306.3" stroke="#666" stroke-width="0.6" />
<path d="M586.7 305L586.7 307.2" stroke="#666" stroke-width="0.7" />
<text x="586.7" y="312.9" class="ls" font-size="5.4" fill="#555" text-anchor="middle">10</text>
<path d="M591.3 305L591.3 306.3" stroke="#666" stroke-width="0.6" />
<path d="M595.9 305L595.9 307.2" stroke="#666" stroke-width="0.7" />
<text x="595.9" y="312.9" class="ls" font-size="5.4" fill="#555" text-anchor="middle">15</text>
<path d="M600.5 305L600.5 306.3" stroke="#666" stroke-width="0.6" />
<path d="M605.1 305L605.1 307.2" stroke="#666" stroke-width="0.7" />
<text x="605.1" y="312.9" class="ls" font-size="5.4" fill="#555" text-anchor="middle">20</text>
<path d="M609.7 305L609.7 306.3" stroke="#666" stroke-width="0.6" />
<path d="M614.3 305L614.3 307.2" stroke="#666" stroke-width="0.7" />
<text x="614.3" y="312.9" class="ls" font-size="5.4" fill="#555" text-anchor="middle">25</text>
<path d="M619 305L619 306.3" stroke="#666" stroke-width="0.6" />
<path d="M623.6 305L623.6 307.2" stroke="#666" stroke-width="0.7" />
<text x="623.6" y="312.9" class="ls" font-size="5.4" fill="#555" text-anchor="middle">30</text>
<path d="M628.2 305L628.2 306.3" stroke="#666" stroke-width="0.6" />
<path d="M632.8 305L632.8 307.2" stroke="#666" stroke-width="0.7" />
<text x="632.8" y="312.9" class="ls" font-size="5.4" fill="#555" text-anchor="middle">35</text>
<path d="M637.4 305L637.4 306.3" stroke="#666" stroke-width="0.6" />
<path d="M642 305L642 307.2" stroke="#666" stroke-width="0.7" />
<text x="642" y="312.9" class="ls" font-size="5.4" fill="#555" text-anchor="middle">40</text>
<path d="M646.6 305L646.6 306.3" stroke="#666" stroke-width="0.6" />
<path d="M651.2 305L651.2 307.2" stroke="#666" stroke-width="0.7" />
<text x="651.2" y="312.9" class="ls" font-size="5.4" fill="#555" text-anchor="middle">45</text>
<path d="M655.8 305L655.8 306.3" stroke="#666" stroke-width="0.6" />
<path d="M660.4 305L660.4 307.2" stroke="#666" stroke-width="0.7" />
<text x="660.4" y="312.9" class="ls" font-size="5.4" fill="#555" text-anchor="middle">50</text>
<text x="611.5" y="321.2" class="ls" font-size="8.4" fill="#333" text-anchor="middle" textLength="32.7" lengthAdjust="spacingAndGlyphs">Time (min)</text>
<text x="554.2" y="276.8" class="ls" font-size="8" fill="#333" text-anchor="middle" textLength="33.5" lengthAdjust="spacingAndGlyphs" transform="rotate(-90 554.2 276.8)">DP (μcal/s)</text>
<path d="M568.9 251.2L569.2 251.2L569.5 249.9L569.8 252L570.2 250.5L570.5 251.9L570.8 249.7L571.2 250.3L571.5 249.5L571.8 250.7L572.2 250.1L572.5 250.6L572.8 250.9L573.2 250.3L573.5 251.3L573.8 250.6L574.2 249.9L574.5 250.4L574.8 250.7L575.2 248.9L575.5 250.4L575.8 250.8L576.1 250.3L576.5 250.8L576.8 250.7L577.1 250.6L577.5 249L577.8 250.4L578.1 250.3L578.5 249.9L578.8 249L579.1 250.6L579.5 250.8L579.8 248.7L580.1 251.4L580.5 250.7L580.8 249.9L581.1 248.8L581.5 251L581.8 252.1L582.1 249.9L582.4 250.8L582.8 250.7L583.1 250.1L583.4 250.2L583.8 250.2L584.1 250.7L584.4 249.5L584.8 249.4L585.1 250.4L585.4 250.7L585.8 249.9L586.1 250.1L586.4 251.1L586.8 250.7L587.1 249.7L587.4 250.5L587.8 250.6L588.1 250.3L588.4 250.4L588.7 250.4L589.1 251.7L589.4 249.2L589.7 250.3L590.1 251L590.4 249.7L590.7 250.2L591.1 250.4L591.4 249.7L591.7 248.9L592.1 250L592.4 249.3L592.7 248.9L593.1 251.1L593.4 250.8L593.7 249.9L594.1 251.6L594.4 250.6L594.7 249.5L595 249.7L595.4 250L595.7 251.7L596 248.8L596.4 250L596.7 249.9L597 250.1L597.4 251.6L597.7 251.4L598 251.2L598.4 249.1L598.7 251L599 250.6L599.4 250.6L599.7 250L600 250.1L600.4 250.2L600.7 251.3L601 252.5L601.3 250.3L601.7 250.2L602 249.6L602.3 250.5L602.7 250.8L603 250.1L603.3 251.5L603.7 251.1L604 251.1L604.3 250.2L604.7 249L605 249.9L605.3 249.6L605.7 250.2L606 250.2L606.3 250.7L606.7 250.6L607 252.1L607.3 251.2L607.6 251.3L608 249.8L608.3 249.9L608.6 249.6L609 249.3L609.3 250.6L609.6 249.7L610 249.1L610.3 250.4L610.6 249.7L611 250.5L611.3 251.5L611.6 250.3L612 251L612.3 250.3L612.6 250.7L613 250.2L613.3 251.9L613.6 249L613.9 249.5L614.3 250.6L614.6 251L614.9 250.4L615.3 249.9L615.6 250.1L615.9 250.1L616.3 251.7L616.6 251.2L616.9 249.5L617.3 250.2L617.6 251.4L617.9 251L618.3 251.4L618.6 251.1L618.9 249.6L619.2 250.6L619.6 249.6L619.9 250.3L620.2 251.4L620.6 250.8L620.9 248.8L621.2 250.9L621.6 251.1L621.9 249.5L622.2 250.3L622.6 250.4L622.9 249.4L623.2 251.6L623.6 250.1L623.9 251.1L624.2 251.4L624.6 251L624.9 249.6L625.2 250.5L625.5 251.7L625.9 251.2L626.2 249.3L626.5 249.7L626.9 251.2L627.2 248.7L627.5 250.7L627.9 251.2L628.2 250.5L628.5 249.7L628.9 249.3L629.2 249.7L629.5 250.7L629.9 250.8L630.2 251.4L630.5 250.5L630.9 250.8L631.2 250.2L631.5 251.3L631.8 250.8L632.2 251L632.5 251.2L632.8 251.2L633.2 251.1L633.5 251.2L633.8 250L634.2 250.3L634.5 251.3L634.8 250L635.2 250.2L635.5 249.4L635.8 250.5L636.2 250.5L636.5 250.9L636.8 250.3L637.2 250.1L637.5 250.3L637.8 250.6L638.1 250L638.5 250.3L638.8 250.2L639.1 251.1L639.5 250.3L639.8 251.1L640.1 251L640.5 250.3L640.8 248.9L641.1 249.7L641.5 250.4L641.8 250.5L642.1 249.7L642.5 249.4L642.8 249.5L643.1 250.5L643.5 250.3L643.8 250.6L644.1 250.6L644.4 251L644.8 250.6L645.1 251.9L645.4 251.2L645.8 250.1L646.1 251L646.4 250L646.8 251.3L647.1 250.7L647.4 250.1L647.8 251.1L648.1 250.9L648.4 248.7L648.8 250.9L649.1 250.9L649.4 250.8L649.8 250.4L650.1 250.4L650.4 249.7L650.7 249.8L651.1 250.7L651.4 250.6L651.7 251.4L652.1 251.4L652.4 250.9L652.7 249.9L653.1 250.3L653.4 249.8L653.7 249.7L654.1 250.5L654.4 248.9L654.7 250.8L655.1 250.8L655.4 250.7L655.7 249.6L656.1 250.5L656.4 250.9L656.7 250.1L657 249.6" stroke="#5b7496" stroke-width="0.7" fill="none"/>
<path d="M570.1 250.4L570.1 266.3L570.5 261.1L570.8 257.5L571.1 255.2L571.5 253.6L571.8 252.6L572.1 251.8L572.5 251.4L572.8 251L573.5 250.4Z" fill="#a9b8cc" opacity="0.75"/>
<path d="M570.1 250.4L570.1 266.3" stroke="#5b7496" stroke-width="0.9" />
<path d="M570.9 250.4L570.9 248.7" stroke="#5b7496" stroke-width="0.7" />
<path d="M574.7 250.4L574.7 304.3L575.1 286.5L575.4 274.6L575.7 266.6L576.1 261.3L576.4 257.7L576.7 255.3L577.1 253.7L577.4 252.6L578.1 250.4Z" fill="#a9b8cc" opacity="0.75"/>
<path d="M574.7 250.4L574.7 304.3" stroke="#5b7496" stroke-width="0.9" />
<path d="M575.5 250.4L575.5 248.2" stroke="#5b7496" stroke-width="0.7" />
<path d="M579.4 250.4L579.4 296.9L579.7 281.6L580 271.3L580.3 264.4L580.7 259.8L581 256.7L581.3 254.6L581.7 253.2L582 252.3L582.7 250.4Z" fill="#a9b8cc" opacity="0.75"/>
<path d="M579.4 250.4L579.4 296.9" stroke="#5b7496" stroke-width="0.9" />
<path d="M580.1 250.4L580.1 249.2" stroke="#5b7496" stroke-width="0.7" />
<path d="M584 250.4L584 291.8L584.3 278.2L584.6 269L585 262.9L585.3 258.8L585.6 256L585.9 254.2L586.3 252.9L586.6 252.1L587.3 250.4Z" fill="#a9b8cc" opacity="0.75"/>
<path d="M584 250.4L584 291.8" stroke="#5b7496" stroke-width="0.9" />
<path d="M584.7 250.4L584.7 247.8" stroke="#5b7496" stroke-width="0.7" />
<path d="M588.6 250.4L588.6 284.4L588.9 273.2L589.2 265.7L589.6 260.7L589.9 257.3L590.2 255L590.6 253.5L590.9 252.5L591.2 251.8L591.9 250.4Z" fill="#a9b8cc" opacity="0.75"/>
<path d="M588.6 250.4L588.6 284.4" stroke="#5b7496" stroke-width="0.9" />
<path d="M589.3 250.4L589.3 248.3" stroke="#5b7496" stroke-width="0.7" />
<path d="M593.2 250.4L593.2 279.3L593.5 269.8L593.8 263.4L594.2 259.1L594.5 256.2L594.8 254.3L595.2 253L595.5 252.2L595.8 251.6L596.5 250.4Z" fill="#a9b8cc" opacity="0.75"/>
<path d="M593.2 250.4L593.2 279.3" stroke="#5b7496" stroke-width="0.9" />
<path d="M593.9 250.4L593.9 248.7" stroke="#5b7496" stroke-width="0.7" />
<path d="M597.8 250.4L597.8 277.1L598.1 268.3L598.4 262.4L598.8 258.4L599.1 255.8L599.4 254L599.8 252.8L600.1 252L600.4 251.5L601.1 250.4Z" fill="#a9b8cc" opacity="0.75"/>
<path d="M597.8 250.4L597.8 277.1" stroke="#5b7496" stroke-width="0.9" />
<path d="M598.5 250.4L598.5 247.4" stroke="#5b7496" stroke-width="0.7" />
<path d="M602.4 250.4L602.4 274.8L602.7 266.8L603 261.4L603.4 257.7L603.7 255.3L604 253.7L604.4 252.6L604.7 251.9L605 251.4L605.7 250.4Z" fill="#a9b8cc" opacity="0.75"/>
<path d="M602.4 250.4L602.4 274.8" stroke="#5b7496" stroke-width="0.9" />
<path d="M603.1 250.4L603.1 247.2" stroke="#5b7496" stroke-width="0.7" />
<path d="M607 250.4L607 272.5L607.3 265.2L607.6 260.3L608 257.1L608.3 254.9L608.6 253.4L609 252.4L609.3 251.7L609.6 251.3L610.3 250.4Z" fill="#a9b8cc" opacity="0.75"/>
<path d="M607 250.4L607 272.5" stroke="#5b7496" stroke-width="0.9" />
<path d="M607.7 250.4L607.7 249.5" stroke="#5b7496" stroke-width="0.7" />
<path d="M611.6 250.4L611.6 271.4L611.9 264.5L612.3 259.8L612.6 256.7L612.9 254.6L613.2 253.2L613.6 252.3L613.9 251.7L614.2 251.3L614.9 250.4Z" fill="#a9b8cc" opacity="0.75"/>
<path d="M611.6 250.4L611.6 271.4" stroke="#5b7496" stroke-width="0.9" />
<path d="M612.3 250.4L612.3 248" stroke="#5b7496" stroke-width="0.7" />
<path d="M616.2 250.4L616.2 273.7L616.5 266L616.9 260.9L617.2 257.4L617.5 255.1L617.8 253.5L618.2 252.5L618.5 251.8L618.8 251.3L619.5 250.4Z" fill="#a9b8cc" opacity="0.75"/>
<path d="M616.2 250.4L616.2 273.7" stroke="#5b7496" stroke-width="0.9" />
<path d="M616.9 250.4L616.9 248.7" stroke="#5b7496" stroke-width="0.7" />
<path d="M620.8 250.4L620.8 270.3L621.1 263.7L621.5 259.3L621.8 256.4L622.1 254.4L622.5 253.1L622.8 252.2L623.1 251.6L623.4 251.2L624.1 250.4Z" fill="#a9b8cc" opacity="0.75"/>
<path d="M620.8 250.4L620.8 270.3" stroke="#5b7496" stroke-width="0.9" />
<path d="M621.5 250.4L621.5 246.9" stroke="#5b7496" stroke-width="0.7" />
<path d="M625.4 250.4L625.4 269.1L625.7 263L626.1 258.8L626.4 256L626.7 254.2L627.1 252.9L627.4 252.1L627.7 251.5L628.1 251.2L628.7 250.4Z" fill="#a9b8cc" opacity="0.75"/>
<path d="M625.4 250.4L625.4 269.1" stroke="#5b7496" stroke-width="0.9" />
<path d="M626.1 250.4L626.1 247.4" stroke="#5b7496" stroke-width="0.7" />
<path d="M630 250.4L630 269.1L630.3 263L630.7 258.8L631 256L631.3 254.2L631.7 252.9L632 252.1L632.3 251.5L632.7 251.2L633.3 250.4Z" fill="#a9b8cc" opacity="0.75"/>
<path d="M630 250.4L630 269.1" stroke="#5b7496" stroke-width="0.9" />
<path d="M630.7 250.4L630.7 248.8" stroke="#5b7496" stroke-width="0.7" />
<path d="M634.6 250.4L634.6 268.6L634.9 262.6L635.3 258.6L635.6 255.9L635.9 254.1L636.3 252.9L636.6 252L636.9 251.5L637.3 251.1L637.9 250.4Z" fill="#a9b8cc" opacity="0.75"/>
<path d="M634.6 250.4L634.6 268.6" stroke="#5b7496" stroke-width="0.9" />
<path d="M635.3 250.4L635.3 248.8" stroke="#5b7496" stroke-width="0.7" />
<path d="M639.2 250.4L639.2 266.9L639.5 261.4L639.9 257.8L640.2 255.4L640.5 253.7L640.9 252.6L641.2 251.9L641.5 251.4L641.9 251.1L642.5 250.4Z" fill="#a9b8cc" opacity="0.75"/>
<path d="M639.2 250.4L639.2 266.9" stroke="#5b7496" stroke-width="0.9" />
<path d="M640 250.4L640 249.1" stroke="#5b7496" stroke-width="0.7" />
<path d="M643.8 250.4L643.8 266.3L644.2 261.1L644.5 257.5L644.8 255.2L645.1 253.6L645.5 252.6L645.8 251.8L646.1 251.4L646.5 251L647.1 250.4Z" fill="#a9b8cc" opacity="0.75"/>
<path d="M643.8 250.4L643.8 266.3" stroke="#5b7496" stroke-width="0.9" />
<path d="M644.6 250.4L644.6 246.8" stroke="#5b7496" stroke-width="0.7" />
<path d="M648.4 250.4L648.4 265.7L648.8 260.7L649.1 257.3L649.4 255L649.8 253.5L650.1 252.5L650.4 251.8L650.7 251.3L651.1 251L651.7 250.4Z" fill="#a9b8cc" opacity="0.75"/>
<path d="M648.4 250.4L648.4 265.7" stroke="#5b7496" stroke-width="0.9" />
<path d="M649.2 250.4L649.2 248.7" stroke="#5b7496" stroke-width="0.7" />
<path d="M653 250.4L653 265.2L653.4 260.3L653.7 257L654 254.8L654.4 253.4L654.7 252.4L655 251.7L655.4 251.3L655.7 251L656.3 250.4Z" fill="#a9b8cc" opacity="0.75"/>
<path d="M653 250.4L653 265.2" stroke="#5b7496" stroke-width="0.9" />
<path d="M653.8 250.4L653.8 247.8" stroke="#5b7496" stroke-width="0.7" />
<path d="M57.5 330.7L57.5 393.3" stroke="#666" stroke-width="0.8" />
<path d="M57.5 393.3L151.5 393.3" stroke="#666" stroke-width="0.8" />
<path d="M55.3 337.9L57.5 337.9" stroke="#666" stroke-width="0.7" />
<text x="54.5" y="339.8" class="ls" font-size="5.4" fill="#555" text-anchor="end">-0.5</text>
<path d="M56.2 342.3L57.5 342.3" stroke="#666" stroke-width="0.6" />
<path d="M55.3 346.8L57.5 346.8" stroke="#666" stroke-width="0.7" />
<text x="54.5" y="348.6" class="ls" font-size="5.4" fill="#555" text-anchor="end">-1</text>
<path d="M56.2 351.2L57.5 351.2" stroke="#666" stroke-width="0.6" />
<path d="M55.3 355.6L57.5 355.6" stroke="#666" stroke-width="0.7" />
<text x="54.5" y="357.5" class="ls" font-size="5.4" fill="#555" text-anchor="end">-1.5</text>
<path d="M56.2 360L57.5 360" stroke="#666" stroke-width="0.6" />
<path d="M55.3 364.4L57.5 364.4" stroke="#666" stroke-width="0.7" />
<text x="54.5" y="366.3" class="ls" font-size="5.4" fill="#555" text-anchor="end">-2</text>
<path d="M56.2 368.9L57.5 368.9" stroke="#666" stroke-width="0.6" />
<path d="M55.3 373.3L57.5 373.3" stroke="#666" stroke-width="0.7" />
<text x="54.5" y="375.2" class="ls" font-size="5.4" fill="#555" text-anchor="end">-2.5</text>
<path d="M56.2 377.7L57.5 377.7" stroke="#666" stroke-width="0.6" />
<path d="M55.3 382.1L57.5 382.1" stroke="#666" stroke-width="0.7" />
<text x="54.5" y="384" class="ls" font-size="5.4" fill="#555" text-anchor="end">-3</text>
<path d="M56.2 386.6L57.5 386.6" stroke="#666" stroke-width="0.6" />
<path d="M55.3 391L57.5 391" stroke="#666" stroke-width="0.7" />
<text x="54.5" y="392.9" class="ls" font-size="5.4" fill="#555" text-anchor="end">-3.5</text>
<path d="M56.2 333.5L57.5 333.5" stroke="#666" stroke-width="0.6" />
<path d="M57.5 393.3L57.5 395.5" stroke="#666" stroke-width="0.7" />
<text x="57.5" y="400" class="ls" font-size="5.2" fill="#555" text-anchor="middle">0</text>
<path d="M62.3 393.3L62.3 394.6" stroke="#666" stroke-width="0.6" />
<path d="M67.1 393.3L67.1 395.5" stroke="#666" stroke-width="0.7" />
<text x="67.1" y="400" class="ls" font-size="5.2" fill="#555" text-anchor="middle">0.2</text>
<path d="M71.9 393.3L71.9 394.6" stroke="#666" stroke-width="0.6" />
<path d="M76.7 393.3L76.7 395.5" stroke="#666" stroke-width="0.7" />
<text x="76.7" y="400" class="ls" font-size="5.2" fill="#555" text-anchor="middle">0.4</text>
<path d="M81.5 393.3L81.5 394.6" stroke="#666" stroke-width="0.6" />
<path d="M86.3 393.3L86.3 395.5" stroke="#666" stroke-width="0.7" />
<text x="86.3" y="400" class="ls" font-size="5.2" fill="#555" text-anchor="middle">0.6</text>
<path d="M91.1 393.3L91.1 394.6" stroke="#666" stroke-width="0.6" />
<path d="M95.9 393.3L95.9 395.5" stroke="#666" stroke-width="0.7" />
<text x="95.9" y="400" class="ls" font-size="5.2" fill="#555" text-anchor="middle">0.8</text>
<path d="M100.7 393.3L100.7 394.6" stroke="#666" stroke-width="0.6" />
<path d="M105.5 393.3L105.5 395.5" stroke="#666" stroke-width="0.7" />
<text x="105.5" y="400" class="ls" font-size="5.2" fill="#555" text-anchor="middle">1</text>
<path d="M110.3 393.3L110.3 394.6" stroke="#666" stroke-width="0.6" />
<path d="M115.1 393.3L115.1 395.5" stroke="#666" stroke-width="0.7" />
<text x="115.1" y="400" class="ls" font-size="5.2" fill="#555" text-anchor="middle">1.2</text>
<path d="M119.9 393.3L119.9 394.6" stroke="#666" stroke-width="0.6" />
<path d="M124.7 393.3L124.7 395.5" stroke="#666" stroke-width="0.7" />
<text x="124.7" y="400" class="ls" font-size="5.2" fill="#555" text-anchor="middle">1.4</text>
<path d="M129.5 393.3L129.5 394.6" stroke="#666" stroke-width="0.6" />
<path d="M134.3 393.3L134.3 395.5" stroke="#666" stroke-width="0.7" />
<text x="134.3" y="400" class="ls" font-size="5.2" fill="#555" text-anchor="middle">1.6</text>
<path d="M139.1 393.3L139.1 394.6" stroke="#666" stroke-width="0.6" />
<path d="M143.9 393.3L143.9 395.5" stroke="#666" stroke-width="0.7" />
<text x="143.9" y="400" class="ls" font-size="5.2" fill="#555" text-anchor="middle">1.8</text>
<path d="M148.7 393.3L148.7 394.6" stroke="#666" stroke-width="0.6" />
<text x="101.6" y="409.2" class="ls" font-size="8.4" fill="#333" text-anchor="middle" textLength="35.5" lengthAdjust="spacingAndGlyphs">Molar Ratio</text>
<text x="43.1" y="363" class="ls" font-size="8" fill="#333" text-anchor="middle" textLength="41" lengthAdjust="spacingAndGlyphs" transform="rotate(-90 43.1 363)">ΔH (kcal/mol)</text>
<path d="M57.50,390.12 C59.10,388.49 63.90,383.77 67.10,380.38 C70.30,376.99 73.50,373.15 76.70,369.76 C79.90,366.37 83.10,362.97 86.30,360.02 C89.50,357.07 92.70,354.42 95.90,352.06 C99.10,349.70 102.30,347.58 105.50,345.86 C108.70,344.15 111.90,342.94 115.10,341.79 C118.30,340.64 121.50,339.76 124.70,338.96 C127.90,338.17 131.10,337.55 134.30,337.01 C137.50,336.48 141.50,336.07 143.90,335.78 C146.30,335.48 147.90,335.33 148.70,335.25" stroke="#4f88a8" stroke-width="1.0" fill="none"/>
<rect x="61.20" y="386.01" width="2.2" height="2.2" fill="#3a5f8a"/>
<rect x="66.24" y="376.98" width="2.2" height="2.2" fill="#3a5f8a"/>
<rect x="71.28" y="373.08" width="2.2" height="2.2" fill="#3a5f8a"/>
<rect x="76.32" y="365.83" width="2.2" height="2.2" fill="#3a5f8a"/>
<rect x="81.36" y="361.58" width="2.2" height="2.2" fill="#3a5f8a"/>
<rect x="86.40" y="358.04" width="2.2" height="2.2" fill="#3a5f8a"/>
<rect x="91.44" y="353.26" width="2.2" height="2.2" fill="#3a5f8a"/>
<rect x="96.48" y="349.19" width="2.2" height="2.2" fill="#3a5f8a"/>
<rect x="101.52" y="346.18" width="2.2" height="2.2" fill="#3a5f8a"/>
<rect x="106.56" y="341.22" width="2.2" height="2.2" fill="#3a5f8a"/>
<rect x="111.60" y="339.99" width="2.2" height="2.2" fill="#3a5f8a"/>
<rect x="116.64" y="338.22" width="2.2" height="2.2" fill="#3a5f8a"/>
<rect x="121.68" y="338.92" width="2.2" height="2.2" fill="#3a5f8a"/>
<rect x="126.72" y="335.91" width="2.2" height="2.2" fill="#3a5f8a"/>
<rect x="131.76" y="335.56" width="2.2" height="2.2" fill="#3a5f8a"/>
<rect x="136.80" y="335.38" width="2.2" height="2.2" fill="#3a5f8a"/>
<rect x="141.84" y="335.03" width="2.2" height="2.2" fill="#3a5f8a"/>
<rect x="146.88" y="334.32" width="2.2" height="2.2" fill="#3a5f8a"/>
<text x="106.9" y="390.3" class="lf b" font-size="10.6" textLength="46.099999999999994" lengthAdjust="spacingAndGlyphs">Kd: 158 μM</text>
<path d="M187.1 330.5L187.1 391.8" stroke="#666" stroke-width="0.8" />
<path d="M187.1 391.8L275.8 391.8" stroke="#666" stroke-width="0.8" />
<path d="M184.9 333.5L187.1 333.5" stroke="#666" stroke-width="0.7" />
<text x="184.1" y="335.4" class="ls" font-size="5.4" fill="#555" text-anchor="end">0</text>
<path d="M185.8 338.8L187.1 338.8" stroke="#666" stroke-width="0.6" />
<path d="M184.9 344L187.1 344" stroke="#666" stroke-width="0.7" />
<text x="184.1" y="345.9" class="ls" font-size="5.4" fill="#555" text-anchor="end">-1</text>
<path d="M185.8 349.3L187.1 349.3" stroke="#666" stroke-width="0.6" />
<path d="M184.9 354.5L187.1 354.5" stroke="#666" stroke-width="0.7" />
<text x="184.1" y="356.4" class="ls" font-size="5.4" fill="#555" text-anchor="end">-2</text>
<path d="M185.8 359.8L187.1 359.8" stroke="#666" stroke-width="0.6" />
<path d="M184.9 365.1L187.1 365.1" stroke="#666" stroke-width="0.7" />
<text x="184.1" y="367" class="ls" font-size="5.4" fill="#555" text-anchor="end">-3</text>
<path d="M185.8 370.3L187.1 370.3" stroke="#666" stroke-width="0.6" />
<path d="M184.9 375.6L187.1 375.6" stroke="#666" stroke-width="0.7" />
<text x="184.1" y="377.5" class="ls" font-size="5.4" fill="#555" text-anchor="end">-4</text>
<path d="M185.8 380.8L187.1 380.8" stroke="#666" stroke-width="0.6" />
<path d="M184.9 386.1L187.1 386.1" stroke="#666" stroke-width="0.7" />
<text x="184.1" y="388" class="ls" font-size="5.4" fill="#555" text-anchor="end">-5</text>
<path d="M187.1 391.8L187.1 394" stroke="#666" stroke-width="0.7" />
<text x="187.1" y="398.5" class="ls" font-size="5.2" fill="#555" text-anchor="middle">0</text>
<path d="M191.8 391.8L191.8 393.1" stroke="#666" stroke-width="0.6" />
<path d="M196.4 391.8L196.4 394" stroke="#666" stroke-width="0.7" />
<text x="196.4" y="398.5" class="ls" font-size="5.2" fill="#555" text-anchor="middle">0.2</text>
<path d="M201.1 391.8L201.1 393.1" stroke="#666" stroke-width="0.6" />
<path d="M205.7 391.8L205.7 394" stroke="#666" stroke-width="0.7" />
<text x="205.7" y="398.5" class="ls" font-size="5.2" fill="#555" text-anchor="middle">0.4</text>
<path d="M210.3 391.8L210.3 393.1" stroke="#666" stroke-width="0.6" />
<path d="M215 391.8L215 394" stroke="#666" stroke-width="0.7" />
<text x="215" y="398.5" class="ls" font-size="5.2" fill="#555" text-anchor="middle">0.6</text>
<path d="M219.7 391.8L219.7 393.1" stroke="#666" stroke-width="0.6" />
<path d="M224.3 391.8L224.3 394" stroke="#666" stroke-width="0.7" />
<text x="224.3" y="398.5" class="ls" font-size="5.2" fill="#555" text-anchor="middle">0.8</text>
<path d="M228.9 391.8L228.9 393.1" stroke="#666" stroke-width="0.6" />
<path d="M233.6 391.8L233.6 394" stroke="#666" stroke-width="0.7" />
<text x="233.6" y="398.5" class="ls" font-size="5.2" fill="#555" text-anchor="middle">1</text>
<path d="M238.2 391.8L238.2 393.1" stroke="#666" stroke-width="0.6" />
<path d="M242.9 391.8L242.9 394" stroke="#666" stroke-width="0.7" />
<text x="242.9" y="398.5" class="ls" font-size="5.2" fill="#555" text-anchor="middle">1.2</text>
<path d="M247.6 391.8L247.6 393.1" stroke="#666" stroke-width="0.6" />
<path d="M252.2 391.8L252.2 394" stroke="#666" stroke-width="0.7" />
<text x="252.2" y="398.5" class="ls" font-size="5.2" fill="#555" text-anchor="middle">1.4</text>
<path d="M256.9 391.8L256.9 393.1" stroke="#666" stroke-width="0.6" />
<path d="M261.5 391.8L261.5 394" stroke="#666" stroke-width="0.7" />
<text x="261.5" y="398.5" class="ls" font-size="5.2" fill="#555" text-anchor="middle">1.6</text>
<path d="M266.1 391.8L266.1 393.1" stroke="#666" stroke-width="0.6" />
<path d="M270.8 391.8L270.8 394" stroke="#666" stroke-width="0.7" />
<text x="270.8" y="398.5" class="ls" font-size="5.2" fill="#555" text-anchor="middle">1.8</text>
<path d="M275.4 391.8L275.4 393.1" stroke="#666" stroke-width="0.6" />
<text x="229.5" y="407.7" class="ls" font-size="8.4" fill="#333" text-anchor="middle" textLength="35.5" lengthAdjust="spacingAndGlyphs">Molar Ratio</text>
<text x="170.1" y="362.1" class="ls" font-size="8" fill="#333" text-anchor="middle" textLength="41" lengthAdjust="spacingAndGlyphs" transform="rotate(-90 170.1 362.1)">ΔH (kcal/mol)</text>
<path d="M187.10,387.68 C188.65,387.42 193.30,386.98 196.40,386.10 C199.50,385.22 203.38,383.56 205.70,382.42 C208.02,381.28 208.80,380.66 210.35,379.26 C211.90,377.86 213.45,376.19 215.00,374.00 C216.55,371.81 218.10,368.92 219.65,366.11 C221.20,363.31 222.75,359.89 224.30,357.17 C225.85,354.45 227.40,351.91 228.95,349.81 C230.50,347.70 232.05,346.00 233.60,344.55 C235.15,343.09 236.70,342.04 238.25,341.07 C239.80,340.11 240.96,339.44 242.90,338.76 C244.84,338.08 247.55,337.46 249.88,336.97 C252.20,336.48 254.14,336.15 256.85,335.81 C259.56,335.48 263.05,335.18 266.15,334.97 C269.25,334.76 273.90,334.62 275.45,334.55" stroke="#4f88a8" stroke-width="1.0" fill="none"/>
<rect x="190.65" y="388.16" width="2.2" height="2.2" fill="#3a5f8a"/>
<rect x="195.53" y="385.00" width="2.2" height="2.2" fill="#3a5f8a"/>
<rect x="200.41" y="382.37" width="2.2" height="2.2" fill="#3a5f8a"/>
<rect x="205.30" y="378.69" width="2.2" height="2.2" fill="#3a5f8a"/>
<rect x="210.18" y="377.11" width="2.2" height="2.2" fill="#3a5f8a"/>
<rect x="215.06" y="372.90" width="2.2" height="2.2" fill="#3a5f8a"/>
<rect x="219.94" y="362.38" width="2.2" height="2.2" fill="#3a5f8a"/>
<rect x="224.83" y="353.97" width="2.2" height="2.2" fill="#3a5f8a"/>
<rect x="229.71" y="345.55" width="2.2" height="2.2" fill="#3a5f8a"/>
<rect x="234.59" y="343.45" width="2.2" height="2.2" fill="#3a5f8a"/>
<rect x="239.47" y="338.19" width="2.2" height="2.2" fill="#3a5f8a"/>
<rect x="244.36" y="337.13" width="2.2" height="2.2" fill="#3a5f8a"/>
<rect x="249.24" y="336.08" width="2.2" height="2.2" fill="#3a5f8a"/>
<rect x="254.12" y="334.50" width="2.2" height="2.2" fill="#3a5f8a"/>
<rect x="259.00" y="335.03" width="2.2" height="2.2" fill="#3a5f8a"/>
<rect x="263.89" y="333.98" width="2.2" height="2.2" fill="#3a5f8a"/>
<rect x="268.77" y="333.45" width="2.2" height="2.2" fill="#3a5f8a"/>
<rect x="273.65" y="333.98" width="2.2" height="2.2" fill="#3a5f8a"/>
<text x="231.2" y="390.3" class="lf b" font-size="10.6" textLength="48.400000000000034" lengthAdjust="spacingAndGlyphs">Kd: 1.75 μM</text>
<path d="M308.4 329.5L308.4 393.3" stroke="#666" stroke-width="0.8" />
<path d="M308.4 393.3L403 393.3" stroke="#666" stroke-width="0.8" />
<path d="M306.2 332.6L308.4 332.6" stroke="#666" stroke-width="0.7" />
<text x="305.4" y="334.5" class="ls" font-size="5.4" fill="#555" text-anchor="end">0</text>
<path d="M307.1 337.5L308.4 337.5" stroke="#666" stroke-width="0.6" />
<path d="M306.2 342.3L308.4 342.3" stroke="#666" stroke-width="0.7" />
<text x="305.4" y="344.2" class="ls" font-size="5.4" fill="#555" text-anchor="end">-1</text>
<path d="M307.1 347.2L308.4 347.2" stroke="#666" stroke-width="0.6" />
<path d="M306.2 352.1L308.4 352.1" stroke="#666" stroke-width="0.7" />
<text x="305.4" y="354" class="ls" font-size="5.4" fill="#555" text-anchor="end">-2</text>
<path d="M307.1 356.9L308.4 356.9" stroke="#666" stroke-width="0.6" />
<path d="M306.2 361.8L308.4 361.8" stroke="#666" stroke-width="0.7" />
<text x="305.4" y="363.7" class="ls" font-size="5.4" fill="#555" text-anchor="end">-3</text>
<path d="M307.1 366.7L308.4 366.7" stroke="#666" stroke-width="0.6" />
<path d="M306.2 371.5L308.4 371.5" stroke="#666" stroke-width="0.7" />
<text x="305.4" y="373.4" class="ls" font-size="5.4" fill="#555" text-anchor="end">-4</text>
<path d="M307.1 376.4L308.4 376.4" stroke="#666" stroke-width="0.6" />
<path d="M306.2 381.2L308.4 381.2" stroke="#666" stroke-width="0.7" />
<text x="305.4" y="383.1" class="ls" font-size="5.4" fill="#555" text-anchor="end">-5</text>
<path d="M307.1 386.1L308.4 386.1" stroke="#666" stroke-width="0.6" />
<path d="M306.2 391L308.4 391" stroke="#666" stroke-width="0.7" />
<text x="305.4" y="392.9" class="ls" font-size="5.4" fill="#555" text-anchor="end">-6</text>
<path d="M308.4 393.3L308.4 395.5" stroke="#666" stroke-width="0.7" />
<text x="308.4" y="400" class="ls" font-size="5.2" fill="#555" text-anchor="middle">0</text>
<path d="M313.2 393.3L313.2 394.6" stroke="#666" stroke-width="0.6" />
<path d="M318.1 393.3L318.1 395.5" stroke="#666" stroke-width="0.7" />
<text x="318.1" y="400" class="ls" font-size="5.2" fill="#555" text-anchor="middle">0.2</text>
<path d="M322.9 393.3L322.9 394.6" stroke="#666" stroke-width="0.6" />
<path d="M327.8 393.3L327.8 395.5" stroke="#666" stroke-width="0.7" />
<text x="327.8" y="400" class="ls" font-size="5.2" fill="#555" text-anchor="middle">0.4</text>
<path d="M332.6 393.3L332.6 394.6" stroke="#666" stroke-width="0.6" />
<path d="M337.4 393.3L337.4 395.5" stroke="#666" stroke-width="0.7" />
<text x="337.4" y="400" class="ls" font-size="5.2" fill="#555" text-anchor="middle">0.6</text>
<path d="M342.3 393.3L342.3 394.6" stroke="#666" stroke-width="0.6" />
<path d="M347.1 393.3L347.1 395.5" stroke="#666" stroke-width="0.7" />
<text x="347.1" y="400" class="ls" font-size="5.2" fill="#555" text-anchor="middle">0.8</text>
<path d="M352 393.3L352 394.6" stroke="#666" stroke-width="0.6" />
<path d="M356.8 393.3L356.8 395.5" stroke="#666" stroke-width="0.7" />
<text x="356.8" y="400" class="ls" font-size="5.2" fill="#555" text-anchor="middle">1</text>
<path d="M361.6 393.3L361.6 394.6" stroke="#666" stroke-width="0.6" />
<path d="M366.5 393.3L366.5 395.5" stroke="#666" stroke-width="0.7" />
<text x="366.5" y="400" class="ls" font-size="5.2" fill="#555" text-anchor="middle">1.2</text>
<path d="M371.3 393.3L371.3 394.6" stroke="#666" stroke-width="0.6" />
<path d="M376.2 393.3L376.2 395.5" stroke="#666" stroke-width="0.7" />
<text x="376.2" y="400" class="ls" font-size="5.2" fill="#555" text-anchor="middle">1.4</text>
<path d="M381 393.3L381 394.6" stroke="#666" stroke-width="0.6" />
<path d="M385.8 393.3L385.8 395.5" stroke="#666" stroke-width="0.7" />
<text x="385.8" y="400" class="ls" font-size="5.2" fill="#555" text-anchor="middle">1.6</text>
<path d="M390.7 393.3L390.7 394.6" stroke="#666" stroke-width="0.6" />
<path d="M395.5 393.3L395.5 395.5" stroke="#666" stroke-width="0.7" />
<text x="395.5" y="400" class="ls" font-size="5.2" fill="#555" text-anchor="middle">1.8</text>
<path d="M400.4 393.3L400.4 394.6" stroke="#666" stroke-width="0.6" />
<text x="354.2" y="409.2" class="ls" font-size="8.4" fill="#333" text-anchor="middle" textLength="35.5" lengthAdjust="spacingAndGlyphs">Molar Ratio</text>
<text x="294" y="362.4" class="ls" font-size="8" fill="#333" text-anchor="middle" textLength="41" lengthAdjust="spacingAndGlyphs" transform="rotate(-90 294 362.4)">ΔH (kcal/mol)</text>
<path d="M308.40,389.52 C309.21,389.12 311.63,388.14 313.24,387.09 C314.85,386.03 316.47,384.66 318.08,383.20 C319.69,381.74 321.31,380.11 322.92,378.33 C324.53,376.55 326.15,374.68 327.76,372.49 C329.37,370.30 330.99,367.55 332.60,365.20 C334.21,362.84 335.83,360.49 337.44,358.38 C339.05,356.28 340.67,354.25 342.28,352.55 C343.89,350.84 345.51,349.47 347.12,348.17 C348.73,346.87 350.35,345.74 351.96,344.76 C353.57,343.79 354.38,343.30 356.80,342.33 C359.22,341.36 363.25,339.82 366.48,338.92 C369.71,338.03 372.93,337.50 376.16,336.98 C379.39,336.46 381.81,336.18 385.84,335.81 C389.87,335.44 397.94,334.92 400.36,334.74" stroke="#4f88a8" stroke-width="1.0" fill="none"/>
<rect x="312.14" y="388.91" width="2.2" height="2.2" fill="#3a5f8a"/>
<rect x="317.22" y="383.07" width="2.2" height="2.2" fill="#3a5f8a"/>
<rect x="322.30" y="378.20" width="2.2" height="2.2" fill="#3a5f8a"/>
<rect x="327.39" y="367.01" width="2.2" height="2.2" fill="#3a5f8a"/>
<rect x="332.47" y="360.20" width="2.2" height="2.2" fill="#3a5f8a"/>
<rect x="337.55" y="353.88" width="2.2" height="2.2" fill="#3a5f8a"/>
<rect x="342.63" y="349.01" width="2.2" height="2.2" fill="#3a5f8a"/>
<rect x="347.71" y="344.15" width="2.2" height="2.2" fill="#3a5f8a"/>
<rect x="352.80" y="342.20" width="2.2" height="2.2" fill="#3a5f8a"/>
<rect x="357.88" y="340.74" width="2.2" height="2.2" fill="#3a5f8a"/>
<rect x="362.96" y="338.80" width="2.2" height="2.2" fill="#3a5f8a"/>
<rect x="368.04" y="339.77" width="2.2" height="2.2" fill="#3a5f8a"/>
<rect x="373.12" y="336.85" width="2.2" height="2.2" fill="#3a5f8a"/>
<rect x="378.21" y="335.88" width="2.2" height="2.2" fill="#3a5f8a"/>
<rect x="383.29" y="335.39" width="2.2" height="2.2" fill="#3a5f8a"/>
<rect x="388.37" y="334.91" width="2.2" height="2.2" fill="#3a5f8a"/>
<rect x="393.45" y="334.91" width="2.2" height="2.2" fill="#3a5f8a"/>
<rect x="398.53" y="334.42" width="2.2" height="2.2" fill="#3a5f8a"/>
<text x="355.5" y="391.2" class="lf b" font-size="10.6" textLength="48.0" lengthAdjust="spacingAndGlyphs">Kd: 0.56 μM</text>
<path d="M440.5 330.5L440.5 393" stroke="#666" stroke-width="0.8" />
<path d="M440.5 393L533.9 393" stroke="#666" stroke-width="0.8" />
<path d="M438.3 333.5L440.5 333.5" stroke="#666" stroke-width="0.7" />
<text x="437.5" y="335.4" class="ls" font-size="5.4" fill="#555" text-anchor="end">0</text>
<path d="M439.2 338.6L440.5 338.6" stroke="#666" stroke-width="0.6" />
<path d="M438.3 343.8L440.5 343.8" stroke="#666" stroke-width="0.7" />
<text x="437.5" y="345.7" class="ls" font-size="5.4" fill="#555" text-anchor="end">-0.5</text>
<path d="M439.2 348.9L440.5 348.9" stroke="#666" stroke-width="0.6" />
<path d="M438.3 354L440.5 354" stroke="#666" stroke-width="0.7" />
<text x="437.5" y="355.9" class="ls" font-size="5.4" fill="#555" text-anchor="end">-1</text>
<path d="M439.2 359.1L440.5 359.1" stroke="#666" stroke-width="0.6" />
<path d="M438.3 364.3L440.5 364.3" stroke="#666" stroke-width="0.7" />
<text x="437.5" y="366.2" class="ls" font-size="5.4" fill="#555" text-anchor="end">-1.5</text>
<path d="M439.2 369.4L440.5 369.4" stroke="#666" stroke-width="0.6" />
<path d="M438.3 374.5L440.5 374.5" stroke="#666" stroke-width="0.7" />
<text x="437.5" y="376.4" class="ls" font-size="5.4" fill="#555" text-anchor="end">-2</text>
<path d="M439.2 379.7L440.5 379.7" stroke="#666" stroke-width="0.6" />
<path d="M438.3 384.8L440.5 384.8" stroke="#666" stroke-width="0.7" />
<text x="437.5" y="386.7" class="ls" font-size="5.4" fill="#555" text-anchor="end">-2.5</text>
<path d="M439.2 389.9L440.5 389.9" stroke="#666" stroke-width="0.6" />
<path d="M440.5 393L440.5 395.2" stroke="#666" stroke-width="0.7" />
<text x="440.5" y="399.7" class="ls" font-size="5.2" fill="#555" text-anchor="middle">0</text>
<path d="M445.3 393L445.3 394.3" stroke="#666" stroke-width="0.6" />
<path d="M450.1 393L450.1 395.2" stroke="#666" stroke-width="0.7" />
<text x="450.1" y="399.7" class="ls" font-size="5.2" fill="#555" text-anchor="middle">0.2</text>
<path d="M454.8 393L454.8 394.3" stroke="#666" stroke-width="0.6" />
<path d="M459.6 393L459.6 395.2" stroke="#666" stroke-width="0.7" />
<text x="459.6" y="399.7" class="ls" font-size="5.2" fill="#555" text-anchor="middle">0.4</text>
<path d="M464.4 393L464.4 394.3" stroke="#666" stroke-width="0.6" />
<path d="M469.2 393L469.2 395.2" stroke="#666" stroke-width="0.7" />
<text x="469.2" y="399.7" class="ls" font-size="5.2" fill="#555" text-anchor="middle">0.6</text>
<path d="M474 393L474 394.3" stroke="#666" stroke-width="0.6" />
<path d="M478.7 393L478.7 395.2" stroke="#666" stroke-width="0.7" />
<text x="478.7" y="399.7" class="ls" font-size="5.2" fill="#555" text-anchor="middle">0.8</text>
<path d="M483.5 393L483.5 394.3" stroke="#666" stroke-width="0.6" />
<path d="M488.3 393L488.3 395.2" stroke="#666" stroke-width="0.7" />
<text x="488.3" y="399.7" class="ls" font-size="5.2" fill="#555" text-anchor="middle">1</text>
<path d="M493.1 393L493.1 394.3" stroke="#666" stroke-width="0.6" />
<path d="M497.9 393L497.9 395.2" stroke="#666" stroke-width="0.7" />
<text x="497.9" y="399.7" class="ls" font-size="5.2" fill="#555" text-anchor="middle">1.2</text>
<path d="M502.6 393L502.6 394.3" stroke="#666" stroke-width="0.6" />
<path d="M507.4 393L507.4 395.2" stroke="#666" stroke-width="0.7" />
<text x="507.4" y="399.7" class="ls" font-size="5.2" fill="#555" text-anchor="middle">1.4</text>
<path d="M512.2 393L512.2 394.3" stroke="#666" stroke-width="0.6" />
<path d="M517 393L517 395.2" stroke="#666" stroke-width="0.7" />
<text x="517" y="399.7" class="ls" font-size="5.2" fill="#555" text-anchor="middle">1.6</text>
<path d="M521.8 393L521.8 394.3" stroke="#666" stroke-width="0.6" />
<path d="M526.5 393L526.5 395.2" stroke="#666" stroke-width="0.7" />
<text x="526.5" y="399.7" class="ls" font-size="5.2" fill="#555" text-anchor="middle">1.8</text>
<path d="M531.3 393L531.3 394.3" stroke="#666" stroke-width="0.6" />
<text x="484" y="408.9" class="ls" font-size="8.4" fill="#333" text-anchor="middle" textLength="35.5" lengthAdjust="spacingAndGlyphs">Molar Ratio</text>
<text x="426.1" y="362.8" class="ls" font-size="8" fill="#333" text-anchor="middle" textLength="41" lengthAdjust="spacingAndGlyphs" transform="rotate(-90 426.1 362.8)">ΔH (kcal/mol)</text>
<path d="M440.50,389.31 C441.30,389.18 443.69,389.07 445.28,388.49 C446.87,387.91 448.47,386.85 450.06,385.83 C451.65,384.80 453.25,383.71 454.84,382.34 C456.43,380.97 458.03,379.53 459.62,377.62 C461.21,375.70 462.81,373.24 464.40,370.85 C465.99,368.45 467.59,365.72 469.18,363.25 C470.77,360.79 472.37,358.30 473.96,356.07 C475.55,353.85 477.15,351.69 478.74,349.92 C480.33,348.14 481.93,346.67 483.52,345.40 C485.11,344.14 485.91,343.49 488.30,342.32 C490.69,341.16 493.88,339.49 497.86,338.42 C501.84,337.36 506.62,336.54 512.20,335.96 C517.78,335.38 528.13,335.11 531.32,334.94" stroke="#4f88a8" stroke-width="1.0" fill="none"/>
<rect x="444.18" y="388.83" width="2.2" height="2.2" fill="#3a5f8a"/>
<rect x="449.20" y="381.65" width="2.2" height="2.2" fill="#3a5f8a"/>
<rect x="454.22" y="378.57" width="2.2" height="2.2" fill="#3a5f8a"/>
<rect x="459.24" y="375.49" width="2.2" height="2.2" fill="#3a5f8a"/>
<rect x="464.26" y="368.31" width="2.2" height="2.2" fill="#3a5f8a"/>
<rect x="469.27" y="360.10" width="2.2" height="2.2" fill="#3a5f8a"/>
<rect x="474.29" y="356.00" width="2.2" height="2.2" fill="#3a5f8a"/>
<rect x="479.31" y="346.76" width="2.2" height="2.2" fill="#3a5f8a"/>
<rect x="484.33" y="342.66" width="2.2" height="2.2" fill="#3a5f8a"/>
<rect x="489.35" y="343.69" width="2.2" height="2.2" fill="#3a5f8a"/>
<rect x="494.37" y="338.56" width="2.2" height="2.2" fill="#3a5f8a"/>
<rect x="499.39" y="335.48" width="2.2" height="2.2" fill="#3a5f8a"/>
<rect x="504.41" y="337.53" width="2.2" height="2.2" fill="#3a5f8a"/>
<rect x="509.43" y="337.53" width="2.2" height="2.2" fill="#3a5f8a"/>
<rect x="514.45" y="334.45" width="2.2" height="2.2" fill="#3a5f8a"/>
<rect x="519.47" y="335.48" width="2.2" height="2.2" fill="#3a5f8a"/>
<rect x="524.48" y="333.43" width="2.2" height="2.2" fill="#3a5f8a"/>
<rect x="529.50" y="333.43" width="2.2" height="2.2" fill="#3a5f8a"/>
<text x="487.4" y="390.6" class="lf b" font-size="10.6" textLength="47.39999999999998" lengthAdjust="spacingAndGlyphs">Kd: 49.1 μM</text>
<path d="M567.3 330.5L567.3 391" stroke="#666" stroke-width="0.8" />
<path d="M567.3 391L662.3 391" stroke="#666" stroke-width="0.8" />
<path d="M565.1 337.2L567.3 337.2" stroke="#666" stroke-width="0.7" />
<text x="564.3" y="339.1" class="ls" font-size="5.4" fill="#555" text-anchor="end">-1</text>
<path d="M566 342.2L567.3 342.2" stroke="#666" stroke-width="0.6" />
<path d="M565.1 347.2L567.3 347.2" stroke="#666" stroke-width="0.7" />
<text x="564.3" y="349.1" class="ls" font-size="5.4" fill="#555" text-anchor="end">-2</text>
<path d="M566 352.2L567.3 352.2" stroke="#666" stroke-width="0.6" />
<path d="M565.1 357.2L567.3 357.2" stroke="#666" stroke-width="0.7" />
<text x="564.3" y="359.1" class="ls" font-size="5.4" fill="#555" text-anchor="end">-3</text>
<path d="M566 362.1L567.3 362.1" stroke="#666" stroke-width="0.6" />
<path d="M565.1 367.1L567.3 367.1" stroke="#666" stroke-width="0.7" />
<text x="564.3" y="369" class="ls" font-size="5.4" fill="#555" text-anchor="end">-4</text>
<path d="M566 372.1L567.3 372.1" stroke="#666" stroke-width="0.6" />
<path d="M565.1 377.1L567.3 377.1" stroke="#666" stroke-width="0.7" />
<text x="564.3" y="379" class="ls" font-size="5.4" fill="#555" text-anchor="end">-5</text>
<path d="M566 382.1L567.3 382.1" stroke="#666" stroke-width="0.6" />
<path d="M565.1 387.1L567.3 387.1" stroke="#666" stroke-width="0.7" />
<text x="564.3" y="389" class="ls" font-size="5.4" fill="#555" text-anchor="end">-6</text>
<path d="M566 332.2L567.3 332.2" stroke="#666" stroke-width="0.6" />
<path d="M567.3 391L567.3 393.2" stroke="#666" stroke-width="0.7" />
<text x="567.3" y="397.7" class="ls" font-size="5.2" fill="#555" text-anchor="middle">0</text>
<path d="M572.1 391L572.1 392.3" stroke="#666" stroke-width="0.6" />
<path d="M577 391L577 393.2" stroke="#666" stroke-width="0.7" />
<text x="577" y="397.7" class="ls" font-size="5.2" fill="#555" text-anchor="middle">0.2</text>
<path d="M581.8 391L581.8 392.3" stroke="#666" stroke-width="0.6" />
<path d="M586.6 391L586.6 393.2" stroke="#666" stroke-width="0.7" />
<text x="586.6" y="397.7" class="ls" font-size="5.2" fill="#555" text-anchor="middle">0.4</text>
<path d="M591.4 391L591.4 392.3" stroke="#666" stroke-width="0.6" />
<path d="M596.3 391L596.3 393.2" stroke="#666" stroke-width="0.7" />
<text x="596.3" y="397.7" class="ls" font-size="5.2" fill="#555" text-anchor="middle">0.6</text>
<path d="M601.1 391L601.1 392.3" stroke="#666" stroke-width="0.6" />
<path d="M605.9 391L605.9 393.2" stroke="#666" stroke-width="0.7" />
<text x="605.9" y="397.7" class="ls" font-size="5.2" fill="#555" text-anchor="middle">0.8</text>
<path d="M610.8 391L610.8 392.3" stroke="#666" stroke-width="0.6" />
<path d="M615.6 391L615.6 393.2" stroke="#666" stroke-width="0.7" />
<text x="615.6" y="397.7" class="ls" font-size="5.2" fill="#555" text-anchor="middle">1</text>
<path d="M620.4 391L620.4 392.3" stroke="#666" stroke-width="0.6" />
<path d="M625.3 391L625.3 393.2" stroke="#666" stroke-width="0.7" />
<text x="625.3" y="397.7" class="ls" font-size="5.2" fill="#555" text-anchor="middle">1.2</text>
<path d="M630.1 391L630.1 392.3" stroke="#666" stroke-width="0.6" />
<path d="M634.9 391L634.9 393.2" stroke="#666" stroke-width="0.7" />
<text x="634.9" y="397.7" class="ls" font-size="5.2" fill="#555" text-anchor="middle">1.4</text>
<path d="M639.8 391L639.8 392.3" stroke="#666" stroke-width="0.6" />
<path d="M644.6 391L644.6 393.2" stroke="#666" stroke-width="0.7" />
<text x="644.6" y="397.7" class="ls" font-size="5.2" fill="#555" text-anchor="middle">1.6</text>
<path d="M649.4 391L649.4 392.3" stroke="#666" stroke-width="0.6" />
<path d="M654.2 391L654.2 393.2" stroke="#666" stroke-width="0.7" />
<text x="654.2" y="397.7" class="ls" font-size="5.2" fill="#555" text-anchor="middle">1.8</text>
<path d="M659.1 391L659.1 392.3" stroke="#666" stroke-width="0.6" />
<text x="612.7" y="406.9" class="ls" font-size="8.4" fill="#333" text-anchor="middle" textLength="35.5" lengthAdjust="spacingAndGlyphs">Molar Ratio</text>
<text x="552.9" y="361.8" class="ls" font-size="8" fill="#333" text-anchor="middle" textLength="41" lengthAdjust="spacingAndGlyphs" transform="rotate(-90 552.9 361.8)">ΔH (kcal/mol)</text>
<path d="M567.30,388.60 C568.91,387.60 573.74,385.10 576.96,382.61 C580.18,380.11 583.40,376.70 586.62,373.63 C589.84,370.55 593.06,366.97 596.28,364.15 C599.50,361.32 602.72,358.91 605.94,356.66 C609.16,354.42 612.38,352.50 615.60,350.67 C618.82,348.84 622.04,347.18 625.26,345.68 C628.48,344.19 631.70,342.94 634.92,341.69 C638.14,340.44 641.36,339.28 644.58,338.20 C647.80,337.12 651.83,335.95 654.24,335.20 C656.65,334.46 658.26,333.96 659.07,333.71" stroke="#4f88a8" stroke-width="1.0" fill="none"/>
<rect x="571.03" y="386.00" width="2.2" height="2.2" fill="#3a5f8a"/>
<rect x="576.10" y="381.01" width="2.2" height="2.2" fill="#3a5f8a"/>
<rect x="581.17" y="376.02" width="2.2" height="2.2" fill="#3a5f8a"/>
<rect x="586.24" y="370.03" width="2.2" height="2.2" fill="#3a5f8a"/>
<rect x="591.32" y="367.04" width="2.2" height="2.2" fill="#3a5f8a"/>
<rect x="596.39" y="361.05" width="2.2" height="2.2" fill="#3a5f8a"/>
<rect x="601.46" y="358.55" width="2.2" height="2.2" fill="#3a5f8a"/>
<rect x="606.53" y="350.57" width="2.2" height="2.2" fill="#3a5f8a"/>
<rect x="611.60" y="352.07" width="2.2" height="2.2" fill="#3a5f8a"/>
<rect x="616.67" y="348.57" width="2.2" height="2.2" fill="#3a5f8a"/>
<rect x="621.74" y="345.08" width="2.2" height="2.2" fill="#3a5f8a"/>
<rect x="626.82" y="342.59" width="2.2" height="2.2" fill="#3a5f8a"/>
<rect x="631.89" y="343.09" width="2.2" height="2.2" fill="#3a5f8a"/>
<rect x="636.96" y="339.59" width="2.2" height="2.2" fill="#3a5f8a"/>
<rect x="642.03" y="336.60" width="2.2" height="2.2" fill="#3a5f8a"/>
<rect x="647.10" y="335.60" width="2.2" height="2.2" fill="#3a5f8a"/>
<rect x="652.17" y="334.60" width="2.2" height="2.2" fill="#3a5f8a"/>
<rect x="657.25" y="333.11" width="2.2" height="2.2" fill="#3a5f8a"/>
<text x="615" y="388.2" class="lf b" font-size="10.6" textLength="47.299999999999955" lengthAdjust="spacingAndGlyphs">Kd: 3.86 μM</text>
<rect x="416" y="303" width="13" height="30.5" fill="#f8f8f8"/>
<defs><clipPath id="cF"><rect x="3" y="446" width="211" height="204"/></clipPath><clipPath id="cG"><rect x="215.5" y="444.5" width="205" height="214"/></clipPath></defs>
<defs><linearGradient id="aG" x1="0" y1="0" x2="0" y2="1"><stop offset="0" stop-color="#cdcdcd"/><stop offset="0.35" stop-color="#dcdcdc"/><stop offset="0.62" stop-color="#f9f9f9"/><stop offset="0.85" stop-color="#ebebeb"/><stop offset="1" stop-color="#c6c6c6"/></linearGradient><linearGradient id="aM" x1="0" y1="0" x2="0" y2="1"><stop offset="0" stop-color="#abd2bf"/><stop offset="0.35" stop-color="#b9dfcc"/><stop offset="0.62" stop-color="#c9f4df"/><stop offset="0.85" stop-color="#bff0d8"/><stop offset="1" stop-color="#a2dcc0"/></linearGradient></defs>
<g clip-path="url(#cF)">
<path d="M214,454 C202,466 188,486 185,506 C182,526 194,538 218,540" stroke="#9cceb6" stroke-width="11.4" fill="none" stroke-linecap="round" stroke-linejoin="round" />
<path d="M214,454 C202,466 188,486 185,506 C182,526 194,538 218,540" stroke="#c4f1dc" stroke-width="10" fill="none" stroke-linecap="round" stroke-linejoin="round" />
<path d="M214,454 C202,466 188,486 185,506 C182,526 194,538 218,540" stroke="#d8f9e9" stroke-width="3.50" fill="none" stroke-linecap="round" stroke-linejoin="round" />
<path d="M212,450 C200,462 186,482 183,502 C180,522 192,534 216,536" stroke="#b4b4b4" stroke-width="11.4" fill="none" stroke-linecap="round" stroke-linejoin="round" />
<path d="M212,450 C200,462 186,482 183,502 C180,522 192,534 216,536" stroke="#e9e9e9" stroke-width="10" fill="none" stroke-linecap="round" stroke-linejoin="round" />
<path d="M212,450 C200,462 186,482 183,502 C180,522 192,534 216,536" stroke="#fbfbfb" stroke-width="3.50" fill="none" stroke-linecap="round" stroke-linejoin="round" />
<path d="M216,562 C202,577 192,602 194,627 C196,642 198,650 200,657" stroke="#9cceb6" stroke-width="9.4" fill="none" stroke-linecap="round" stroke-linejoin="round" />
<path d="M216,562 C202,577 192,602 194,627 C196,642 198,650 200,657" stroke="#c4f1dc" stroke-width="8" fill="none" stroke-linecap="round" stroke-linejoin="round" />
<path d="M216,562 C202,577 192,602 194,627 C196,642 198,650 200,657" stroke="#d8f9e9" stroke-width="2.80" fill="none" stroke-linecap="round" stroke-linejoin="round" />
<path d="M214,558 C200,573 190,598 192,623 C194,638 196,646 198,653" stroke="#b4b4b4" stroke-width="9.4" fill="none" stroke-linecap="round" stroke-linejoin="round" />
<path d="M214,558 C200,573 190,598 192,623 C194,638 196,646 198,653" stroke="#e9e9e9" stroke-width="8" fill="none" stroke-linecap="round" stroke-linejoin="round" />
<path d="M214,558 C200,573 190,598 192,623 C194,638 196,646 198,653" stroke="#fbfbfb" stroke-width="2.80" fill="none" stroke-linecap="round" stroke-linejoin="round" />
<path d="M214,592 C206,606 204,626 210,652" stroke="#9cceb6" stroke-width="7.4" fill="none" stroke-linecap="round" stroke-linejoin="round" />
<path d="M214,592 C206,606 204,626 210,652" stroke="#c4f1dc" stroke-width="6" fill="none" stroke-linecap="round" stroke-linejoin="round" />
<path d="M214,592 C206,606 204,626 210,652" stroke="#d8f9e9" stroke-width="2.10" fill="none" stroke-linecap="round" stroke-linejoin="round" />
<path d="M3,640 C25,632 55,634 80,642 C100,650 140,646 170,654" stroke="#9cceb6" stroke-width="7.4" fill="none" stroke-linecap="round" stroke-linejoin="round" />
<path d="M3,640 C25,632 55,634 80,642 C100,650 140,646 170,654" stroke="#c4f1dc" stroke-width="6" fill="none" stroke-linecap="round" stroke-linejoin="round" />
<path d="M3,640 C25,632 55,634 80,642 C100,650 140,646 170,654" stroke="#d8f9e9" stroke-width="2.10" fill="none" stroke-linecap="round" stroke-linejoin="round" />
<path d="M3,637 C25,629 55,631 80,639 C100,647 140,643 170,651" stroke="#b4b4b4" stroke-width="7.4" fill="none" stroke-linecap="round" stroke-linejoin="round" />
<path d="M3,637 C25,629 55,631 80,639 C100,647 140,643 170,651" stroke="#e9e9e9" stroke-width="6" fill="none" stroke-linecap="round" stroke-linejoin="round" />
<path d="M3,637 C25,629 55,631 80,639 C100,647 140,643 170,651" stroke="#fbfbfb" stroke-width="2.10" fill="none" stroke-linecap="round" stroke-linejoin="round" />
<path d="M20,592 C22,610 18,628 12,652" stroke="#9cceb6" stroke-width="6.4" fill="none" stroke-linecap="round" stroke-linejoin="round" />
<path d="M20,592 C22,610 18,628 12,652" stroke="#c4f1dc" stroke-width="5" fill="none" stroke-linecap="round" stroke-linejoin="round" />
<path d="M20,592 C22,610 18,628 12,652" stroke="#d8f9e9" stroke-width="1.75" fill="none" stroke-linecap="round" stroke-linejoin="round" />
<path d="M14,592 C16,610 12,628 6,652" stroke="#b4b4b4" stroke-width="6.4" fill="none" stroke-linecap="round" stroke-linejoin="round" />
<path d="M14,592 C16,610 12,628 6,652" stroke="#e9e9e9" stroke-width="5" fill="none" stroke-linecap="round" stroke-linejoin="round" />
<path d="M14,592 C16,610 12,628 6,652" stroke="#fbfbfb" stroke-width="1.75" fill="none" stroke-linecap="round" stroke-linejoin="round" />
<g transform="rotate(12 104 648)"><path d="M69 648A35 17 0 1 0 139 648A35 17 0 1 0 69 648ZM77 642A27 6 0 1 0 131 642A27 6 0 1 0 77 642Z" fill="url(#aM)" fill-rule="evenodd" stroke="#8cc6aa" stroke-width="0.6"/><path d="M73 645A31 12.4 0 0 0 135 645" fill="none" stroke="#d8f9e9" stroke-width="2.4" opacity="0.85"/></g>
<g transform="rotate(12 106 643)"><path d="M71 643A35 17 0 1 0 141 643A35 17 0 1 0 71 643ZM79 637A27 6 0 1 0 133 637A27 6 0 1 0 79 637Z" fill="url(#aG)" fill-rule="evenodd" stroke="#a4a4a4" stroke-width="0.6"/><path d="M75 640A31 12.4 0 0 0 137 640" fill="none" stroke="#fcfcfc" stroke-width="2.4" opacity="0.85"/></g>
<g transform="rotate(12 106 617)"><path d="M71 617A35 17 0 1 0 141 617A35 17 0 1 0 71 617ZM79 611A27 6 0 1 0 133 611A27 6 0 1 0 79 611Z" fill="url(#aM)" fill-rule="evenodd" stroke="#8cc6aa" stroke-width="0.6"/><path d="M75 614A31 12.4 0 0 0 137 614" fill="none" stroke="#d8f9e9" stroke-width="2.4" opacity="0.85"/></g>
<g transform="rotate(12 108 612)"><path d="M73 612A35 17 0 1 0 143 612A35 17 0 1 0 73 612ZM81 606A27 6 0 1 0 135 606A27 6 0 1 0 81 606Z" fill="url(#aG)" fill-rule="evenodd" stroke="#a4a4a4" stroke-width="0.6"/><path d="M77 609A31 12.4 0 0 0 139 609" fill="none" stroke="#fcfcfc" stroke-width="2.4" opacity="0.85"/></g>
<g transform="rotate(12 108 583)"><path d="M73 583A35 17 0 1 0 143 583A35 17 0 1 0 73 583ZM81 577A27 6 0 1 0 135 577A27 6 0 1 0 81 577Z" fill="url(#aM)" fill-rule="evenodd" stroke="#8cc6aa" stroke-width="0.6"/><path d="M77 580A31 12.4 0 0 0 139 580" fill="none" stroke="#d8f9e9" stroke-width="2.4" opacity="0.85"/></g>
<g transform="rotate(12 110 578)"><path d="M75 578A35 17 0 1 0 145 578A35 17 0 1 0 75 578ZM83 572A27 6 0 1 0 137 572A27 6 0 1 0 83 572Z" fill="url(#aG)" fill-rule="evenodd" stroke="#a4a4a4" stroke-width="0.6"/><path d="M79 575A31 12.4 0 0 0 141 575" fill="none" stroke="#fcfcfc" stroke-width="2.4" opacity="0.85"/></g>
<g transform="rotate(12 110 547)"><path d="M75 547A35 17 0 1 0 145 547A35 17 0 1 0 75 547ZM83 541A27 6 0 1 0 137 541A27 6 0 1 0 83 541Z" fill="url(#aM)" fill-rule="evenodd" stroke="#8cc6aa" stroke-width="0.6"/><path d="M79 544A31 12.4 0 0 0 141 544" fill="none" stroke="#d8f9e9" stroke-width="2.4" opacity="0.85"/></g>
<g transform="rotate(12 112 542)"><path d="M77 542A35 17 0 1 0 147 542A35 17 0 1 0 77 542ZM85 536A27 6 0 1 0 139 536A27 6 0 1 0 85 536Z" fill="url(#aG)" fill-rule="evenodd" stroke="#a4a4a4" stroke-width="0.6"/><path d="M81 539A31 12.4 0 0 0 143 539" fill="none" stroke="#fcfcfc" stroke-width="2.4" opacity="0.85"/></g>
<g transform="rotate(12 111 510)"><path d="M76 510A35 17 0 1 0 146 510A35 17 0 1 0 76 510ZM84 504A27 6 0 1 0 138 504A27 6 0 1 0 84 504Z" fill="url(#aM)" fill-rule="evenodd" stroke="#8cc6aa" stroke-width="0.6"/><path d="M80 507A31 12.4 0 0 0 142 507" fill="none" stroke="#d8f9e9" stroke-width="2.4" opacity="0.85"/></g>
<g transform="rotate(12 113 505)"><path d="M78 505A35 17 0 1 0 148 505A35 17 0 1 0 78 505ZM86 499A27 6 0 1 0 140 499A27 6 0 1 0 86 499Z" fill="url(#aG)" fill-rule="evenodd" stroke="#a4a4a4" stroke-width="0.6"/><path d="M82 502A31 12.4 0 0 0 144 502" fill="none" stroke="#fcfcfc" stroke-width="2.4" opacity="0.85"/></g>
<g><path d="M0 590A20 10 0 1 0 40 590A20 10 0 1 0 0 590ZM6 589A14 3.5 0 1 0 34 589A14 3.5 0 1 0 6 589Z" fill="url(#aM)" fill-rule="evenodd" stroke="#8cc6aa" stroke-width="0.6"/><path d="M3 589.5A17 6.9 0 0 0 37 589.5" fill="none" stroke="#d8f9e9" stroke-width="1.5" opacity="0.85"/></g>
<g><path d="M2 585A20 10 0 1 0 42 585A20 10 0 1 0 2 585ZM8 584A14 3.5 0 1 0 36 584A14 3.5 0 1 0 8 584Z" fill="url(#aG)" fill-rule="evenodd" stroke="#a4a4a4" stroke-width="0.6"/><path d="M5 584.5A17 6.9 0 0 0 39 584.5" fill="none" stroke="#fcfcfc" stroke-width="1.5" opacity="0.85"/></g>
<g><path d="M0 575A22 13 0 1 0 44 575A22 13 0 1 0 0 575ZM6 573.5A16 4 0 1 0 38 573.5A16 4 0 1 0 6 573.5Z" fill="url(#aM)" fill-rule="evenodd" stroke="#8cc6aa" stroke-width="0.6"/><path d="M3 574.2A19 8.7 0 0 0 41 574.2" fill="none" stroke="#d8f9e9" stroke-width="2" opacity="0.85"/></g>
<g><path d="M2 570A22 13 0 1 0 46 570A22 13 0 1 0 2 570ZM8 568.5A16 4 0 1 0 40 568.5A16 4 0 1 0 8 568.5Z" fill="url(#aG)" fill-rule="evenodd" stroke="#a4a4a4" stroke-width="0.6"/><path d="M5 569.2A19 8.7 0 0 0 43 569.2" fill="none" stroke="#fcfcfc" stroke-width="2" opacity="0.85"/></g>
<g><path d="M0 557A24 11 0 1 0 48 557A24 11 0 1 0 0 557ZM6 555A18 4 0 1 0 42 555A18 4 0 1 0 6 555Z" fill="url(#aM)" fill-rule="evenodd" stroke="#8cc6aa" stroke-width="0.6"/><path d="M3 556A21 7.8 0 0 0 45 556" fill="none" stroke="#d8f9e9" stroke-width="1.5" opacity="0.85"/></g>
<g><path d="M2 552A24 11 0 1 0 50 552A24 11 0 1 0 2 552ZM8 550A18 4 0 1 0 44 550A18 4 0 1 0 8 550Z" fill="url(#aG)" fill-rule="evenodd" stroke="#a4a4a4" stroke-width="0.6"/><path d="M5 551A21 7.8 0 0 0 47 551" fill="none" stroke="#fcfcfc" stroke-width="1.5" opacity="0.85"/></g>
<g><path d="M0 527A29 21 0 1 0 58 527A29 21 0 1 0 0 527ZM6 522A23 6.5 0 1 0 52 522A23 6.5 0 1 0 6 522Z" fill="url(#aM)" fill-rule="evenodd" stroke="#8cc6aa" stroke-width="0.6"/><path d="M3 524.5A26 14.5 0 0 0 55 524.5" fill="none" stroke="#d8f9e9" stroke-width="3.2" opacity="0.85"/></g>
<g><path d="M2 522A29 21 0 1 0 60 522A29 21 0 1 0 2 522ZM8 517A23 6.5 0 1 0 54 517A23 6.5 0 1 0 8 517Z" fill="url(#aG)" fill-rule="evenodd" stroke="#a4a4a4" stroke-width="0.6"/><path d="M5 519.5A26 14.5 0 0 0 57 519.5" fill="none" stroke="#fcfcfc" stroke-width="3.2" opacity="0.85"/></g>
<g><path d="M1 490A33.5 22 0 1 0 68 490A33.5 22 0 1 0 1 490ZM7.5 481A27 8.3 0 1 0 61.5 481A27 8.3 0 1 0 7.5 481Z" fill="url(#aM)" fill-rule="evenodd" stroke="#8cc6aa" stroke-width="0.6"/><path d="M4.2 485.5A30.2 16.5 0 0 0 64.8 485.5" fill="none" stroke="#d8f9e9" stroke-width="3" opacity="0.85"/></g>
<g><path d="M3 485A33.5 22 0 1 0 70 485A33.5 22 0 1 0 3 485ZM9.5 476A27 8.3 0 1 0 63.5 476A27 8.3 0 1 0 9.5 476Z" fill="url(#aG)" fill-rule="evenodd" stroke="#a4a4a4" stroke-width="0.6"/><path d="M6.2 480.5A30.2 16.5 0 0 0 66.8 480.5" fill="none" stroke="#fcfcfc" stroke-width="3" opacity="0.85"/></g>
<g><path d="M10 451A34 24 0 1 0 78 451A34 24 0 1 0 10 451ZM18 441A26 9 0 1 0 70 441A26 9 0 1 0 18 441Z" fill="url(#aM)" fill-rule="evenodd" stroke="#8cc6aa" stroke-width="0.6"/><path d="M14 446A30 18 0 0 0 74 446" fill="none" stroke="#d8f9e9" stroke-width="3.3" opacity="0.85"/></g>
<g><path d="M12 446A34 24 0 1 0 80 446A34 24 0 1 0 12 446ZM20 436A26 9 0 1 0 72 436A26 9 0 1 0 20 436Z" fill="url(#aG)" fill-rule="evenodd" stroke="#a4a4a4" stroke-width="0.6"/><path d="M16 441A30 18 0 0 0 76 441" fill="none" stroke="#fcfcfc" stroke-width="3.3" opacity="0.85"/></g>
<g transform="rotate(5 184 445)"><path d="M152 445A32 20 0 1 0 216 445A32 20 0 1 0 152 445ZM162 439A22 8 0 1 0 206 439A22 8 0 1 0 162 439Z" fill="url(#aM)" fill-rule="evenodd" stroke="#8cc6aa" stroke-width="0.6"/><path d="M157 442A27 14.9 0 0 0 211 442" fill="none" stroke="#d8f9e9" stroke-width="2.6" opacity="0.85"/></g>
<g transform="rotate(5 186 440)"><path d="M154 440A32 20 0 1 0 218 440A32 20 0 1 0 154 440ZM164 434A22 8 0 1 0 208 434A22 8 0 1 0 164 434Z" fill="url(#aG)" fill-rule="evenodd" stroke="#a4a4a4" stroke-width="0.6"/><path d="M159 437A27 14.9 0 0 0 213 437" fill="none" stroke="#fcfcfc" stroke-width="2.6" opacity="0.85"/></g>
<path d="M70,478 C95,478 130,476 150,470 C165,465 172,455 176,440" stroke="#9cceb6" stroke-width="20.2" fill="none" stroke-linecap="butt"/>
<path d="M70,478 C95,478 130,476 150,470 C165,465 172,455 176,440" stroke="#c4f1dc" stroke-width="19" fill="none" stroke-linecap="butt"/>
<path d="M70,478 C95,478 130,476 150,470 C165,465 172,455 176,440" stroke="#d8f9e9" stroke-width="7.6" fill="none" stroke-linecap="butt" transform="translate(0,-2.9)"/>
<path d="M70,475 C95,475 130,473 150,467 C165,462 172,452 176,437" stroke="#b4b4b4" stroke-width="20.2" fill="none" stroke-linecap="butt"/>
<path d="M70,475 C95,475 130,473 150,467 C165,462 172,452 176,437" stroke="#e9e9e9" stroke-width="19" fill="none" stroke-linecap="butt"/>
<path d="M70,475 C95,475 130,473 150,467 C165,462 172,452 176,437" stroke="#fbfbfb" stroke-width="7.6" fill="none" stroke-linecap="butt" transform="translate(0,-2.9)"/>
<g><path d="M62 449A28 20 0 1 0 118 449A28 20 0 1 0 62 449ZM70 443A20 7 0 1 0 110 443A20 7 0 1 0 70 443Z" fill="url(#aM)" fill-rule="evenodd" stroke="#8cc6aa" stroke-width="0.6"/><path d="M66 446A24 14.4 0 0 0 114 446" fill="none" stroke="#d8f9e9" stroke-width="2.9" opacity="0.85"/></g>
<g><path d="M64 444A28 20 0 1 0 120 444A28 20 0 1 0 64 444ZM72 438A20 7 0 1 0 112 438A20 7 0 1 0 72 438Z" fill="url(#aG)" fill-rule="evenodd" stroke="#a4a4a4" stroke-width="0.6"/><path d="M68 441A24 14.4 0 0 0 116 441" fill="none" stroke="#fcfcfc" stroke-width="2.9" opacity="0.85"/></g>
<path d="M150,480 C170,474 195,474 216,478" stroke="#9cceb6" stroke-width="9.2" fill="none" stroke-linecap="butt"/>
<path d="M150,480 C170,474 195,474 216,478" stroke="#c4f1dc" stroke-width="8" fill="none" stroke-linecap="butt"/>
<path d="M150,480 C170,474 195,474 216,478" stroke="#d8f9e9" stroke-width="3.2" fill="none" stroke-linecap="butt" transform="translate(0,-1.2)"/>
<path d="M150,477 C170,471 195,471 216,475" stroke="#b4b4b4" stroke-width="9.2" fill="none" stroke-linecap="butt"/>
<path d="M150,477 C170,471 195,471 216,475" stroke="#e9e9e9" stroke-width="8" fill="none" stroke-linecap="butt"/>
<path d="M150,477 C170,471 195,471 216,475" stroke="#fbfbfb" stroke-width="3.2" fill="none" stroke-linecap="butt" transform="translate(0,-1.2)"/>
</g>
<g clip-path="url(#cF)">
<path d="M107 451L111.8 455.3L120 451.8" stroke="#8a8a8a" stroke-width="4.0" fill="none" stroke-linecap="round" stroke-linejoin="round"/>
<path d="M107 451L111.8 455.3L120 451.8" stroke="#c8c8c8" stroke-width="3.2" fill="none" stroke-linecap="round" stroke-linejoin="round"/>
<path d="M111.8 455.3L109.5 470" stroke="#8a8a8a" stroke-width="4.0" fill="none" stroke-linecap="round" stroke-linejoin="round"/>
<path d="M111.8 455.3L109.5 470" stroke="#c8c8c8" stroke-width="3.2" fill="none" stroke-linecap="round" stroke-linejoin="round"/>
<path d="M98.9 477.7L109.5 470L114.2 475.3L113 489.5L102.4 495.4L96.5 491.8L98.9 477.7" stroke="#8a8a8a" stroke-width="4.2" fill="none" stroke-linecap="round" stroke-linejoin="round"/>
<path d="M98.9 477.7L109.5 470L114.2 475.3L113 489.5L102.4 495.4L96.5 491.8L98.9 477.7" stroke="#c8c8c8" stroke-width="3.4" fill="none" stroke-linecap="round" stroke-linejoin="round"/>
<path d="M102.4 495.4L101 506L96 516L98 528L94 540L92 552" stroke="#8a8a8a" stroke-width="4.0" fill="none" stroke-linecap="round" stroke-linejoin="round"/>
<path d="M102.4 495.4L101 506L96 516L98 528L94 540L92 552" stroke="#c8c8c8" stroke-width="3.2" fill="none" stroke-linecap="round" stroke-linejoin="round"/>
<path d="M90.8 549.7L86 564.3L76.2 567.5L74.6 580.5L63.2 586.2" stroke="#8a8a8a" stroke-width="4.2" fill="none" stroke-linecap="round" stroke-linejoin="round"/>
<path d="M90.8 549.7L86 564.3L76.2 567.5L74.6 580.5L63.2 586.2" stroke="#c8c8c8" stroke-width="3.4" fill="none" stroke-linecap="round" stroke-linejoin="round"/>
<path d="M86 577.3L97.2 578" stroke="#8a8a8a" stroke-width="4.0" fill="none" stroke-linecap="round" stroke-linejoin="round"/>
<path d="M86 577.3L97.2 578" stroke="#c8c8c8" stroke-width="3.2" fill="none" stroke-linecap="round" stroke-linejoin="round"/>
<path d="M79.4 587L87.5 583.8" stroke="#8a8a8a" stroke-width="3.8" fill="none" stroke-linecap="round" stroke-linejoin="round"/>
<path d="M79.4 587L87.5 583.8" stroke="#c8c8c8" stroke-width="3.0" fill="none" stroke-linecap="round" stroke-linejoin="round"/>
<path d="M108.3 461.2L108.3 468.3L115.4 474" stroke="#0a0ab0" stroke-width="3.8" fill="none" stroke-linecap="round" stroke-linejoin="round"/>
<path d="M108.3 461.2L108.3 468.3L115.4 474" stroke="#1515f0" stroke-width="3.0" fill="none" stroke-linecap="round" stroke-linejoin="round"/>
<path d="M107.5 481L110.6 487.5" stroke="#0a0ab0" stroke-width="3.8" fill="none" stroke-linecap="round" stroke-linejoin="round"/>
<path d="M107.5 481L110.6 487.5" stroke="#1515f0" stroke-width="3.0" fill="none" stroke-linecap="round" stroke-linejoin="round"/>
<path d="M112.5 492L111.8 498.9L103.6 503.6L97.7 506L90 512" stroke="#0a0ab0" stroke-width="4.0" fill="none" stroke-linecap="round" stroke-linejoin="round"/>
<path d="M112.5 492L111.8 498.9L103.6 503.6L97.7 506L90 512" stroke="#1515f0" stroke-width="3.2" fill="none" stroke-linecap="round" stroke-linejoin="round"/>
<path d="M90 512L86 514.5" stroke="#a00000" stroke-width="4.0" fill="none" stroke-linecap="round" stroke-linejoin="round"/>
<path d="M90 512L86 514.5" stroke="#e01010" stroke-width="3.2" fill="none" stroke-linecap="round" stroke-linejoin="round"/>
<path d="M103.6 503.6L102.4 500" stroke="#a00000" stroke-width="4.0" fill="none" stroke-linecap="round" stroke-linejoin="round"/>
<path d="M103.6 503.6L102.4 500" stroke="#e01010" stroke-width="3.2" fill="none" stroke-linecap="round" stroke-linejoin="round"/>
<path d="M103.6 503.6L104 512L105 521.4L97.6 530L98.8 539L91.3 544" stroke="#0a0ab0" stroke-width="4.0" fill="none" stroke-linecap="round" stroke-linejoin="round"/>
<path d="M103.6 503.6L104 512L105 521.4L97.6 530L98.8 539L91.3 544" stroke="#1515f0" stroke-width="3.2" fill="none" stroke-linecap="round" stroke-linejoin="round"/>
<path d="M73 554.6L81 546.5L90.8 549.7L93.2 561L86 567.5L75.4 565L73 554.6" stroke="#0a0ab0" stroke-width="4.2" fill="none" stroke-linecap="round" stroke-linejoin="round"/>
<path d="M73 554.6L81 546.5L90.8 549.7L93.2 561L86 567.5L75.4 565L73 554.6" stroke="#1515f0" stroke-width="3.4" fill="none" stroke-linecap="round" stroke-linejoin="round"/>
<path d="M75.4 565L71.3 572.4L66.5 579L69.7 593.5L79.4 595L87.5 583.8L84.3 572.4L86 567.5" stroke="#0a0ab0" stroke-width="4.2" fill="none" stroke-linecap="round" stroke-linejoin="round"/>
<path d="M75.4 565L71.3 572.4L66.5 579L69.7 593.5L79.4 595L87.5 583.8L84.3 572.4L86 567.5" stroke="#1515f0" stroke-width="3.4" fill="none" stroke-linecap="round" stroke-linejoin="round"/>
<path d="M71.3 572.4L84.3 572.4" stroke="#0a0ab0" stroke-width="3.8" fill="none" stroke-linecap="round" stroke-linejoin="round"/>
<path d="M71.3 572.4L84.3 572.4" stroke="#1515f0" stroke-width="3.0" fill="none" stroke-linecap="round" stroke-linejoin="round"/>
<path d="M63.2 586.2L74.6 580.5" stroke="#8a8a8a" stroke-width="4.0" fill="none" stroke-linecap="round" stroke-linejoin="round"/>
<path d="M63.2 586.2L74.6 580.5" stroke="#c8c8c8" stroke-width="3.2" fill="none" stroke-linecap="round" stroke-linejoin="round"/>
<path d="M131 462L146.8 464L155.6 473L164.5 469.5" stroke="#1f5a1c" stroke-width="4.0" fill="none" stroke-linecap="round" stroke-linejoin="round"/>
<path d="M131 462L146.8 464L155.6 473L164.5 469.5" stroke="#3a8a34" stroke-width="3.2" fill="none" stroke-linecap="round" stroke-linejoin="round"/>
<path d="M155.6 473L148.6 483.7" stroke="#1f5a1c" stroke-width="4.0" fill="none" stroke-linecap="round" stroke-linejoin="round"/>
<path d="M155.6 473L148.6 483.7" stroke="#3a8a34" stroke-width="3.2" fill="none" stroke-linecap="round" stroke-linejoin="round"/>
<line x1="116.7" y1="473" x2="131" y2="464" stroke="#1515f0" stroke-width="1.2" stroke-dasharray="1.1 1"/>
<path d="M97.3 611L100.8 623.4L106 625" stroke="#1f5a1c" stroke-width="4.0" fill="none" stroke-linecap="round" stroke-linejoin="round"/>
<path d="M97.3 611L100.8 623.4L106 625" stroke="#3a8a34" stroke-width="3.2" fill="none" stroke-linecap="round" stroke-linejoin="round"/>
<path d="M100.8 623.4L103 630" stroke="#1f5a1c" stroke-width="4.0" fill="none" stroke-linecap="round" stroke-linejoin="round"/>
<path d="M100.8 623.4L103 630" stroke="#3a8a34" stroke-width="3.2" fill="none" stroke-linecap="round" stroke-linejoin="round"/>
<path d="M103 630L106 635.8" stroke="#802020" stroke-width="4.0" fill="none" stroke-linecap="round" stroke-linejoin="round"/>
<path d="M103 630L106 635.8" stroke="#c03030" stroke-width="3.2" fill="none" stroke-linecap="round" stroke-linejoin="round"/>
<line x1="79.6" y1="594" x2="97.3" y2="611" stroke="#1515f0" stroke-width="1.2" stroke-dasharray="1.1 1"/>
<path d="M130.2 525L127.7 552.7L132 560" stroke="#8a8a8a" stroke-width="4.0" fill="none" stroke-linecap="round" stroke-linejoin="round"/>
<path d="M130.2 525L127.7 552.7L132 560" stroke="#c8c8c8" stroke-width="3.2" fill="none" stroke-linecap="round" stroke-linejoin="round"/>
<path d="M135 572L128 580L132 592L140 600L140.2 607.8L152.7 615.3" stroke="#8a8a8a" stroke-width="4.0" fill="none" stroke-linecap="round" stroke-linejoin="round"/>
<path d="M135 572L128 580L132 592L140 600L140.2 607.8L152.7 615.3" stroke="#c8c8c8" stroke-width="3.2" fill="none" stroke-linecap="round" stroke-linejoin="round"/>
<path d="M140.2 607.8L135 618L142 628" stroke="#8a8a8a" stroke-width="3.8" fill="none" stroke-linecap="round" stroke-linejoin="round"/>
<path d="M140.2 607.8L135 618L142 628" stroke="#c8c8c8" stroke-width="3.0" fill="none" stroke-linecap="round" stroke-linejoin="round"/>
<path d="M147 596L156 603" stroke="#8a8a8a" stroke-width="3.8" fill="none" stroke-linecap="round" stroke-linejoin="round"/>
<path d="M147 596L156 603" stroke="#c8c8c8" stroke-width="3.0" fill="none" stroke-linecap="round" stroke-linejoin="round"/>
<path d="M128 518L135 514L142.7 520L142.7 535L135 545L128 540L128 518" stroke="#9aa010" stroke-width="4.0" fill="none" stroke-linecap="round" stroke-linejoin="round"/>
<path d="M128 518L135 514L142.7 520L142.7 535L135 545L128 540L128 518" stroke="#d8e030" stroke-width="3.2" fill="none" stroke-linecap="round" stroke-linejoin="round"/>
<path d="M133 528L129 548L134 553" stroke="#3050a0" stroke-width="3.8" fill="none" stroke-linecap="round" stroke-linejoin="round"/>
<path d="M133 528L129 548L134 553" stroke="#5070e0" stroke-width="3.0" fill="none" stroke-linecap="round" stroke-linejoin="round"/>
<path d="M142.7 527.6L150 526L157.7 526.4L160.3 512.6" stroke="#9aa010" stroke-width="4.0" fill="none" stroke-linecap="round" stroke-linejoin="round"/>
<path d="M142.7 527.6L150 526L157.7 526.4L160.3 512.6" stroke="#d8e030" stroke-width="3.2" fill="none" stroke-linecap="round" stroke-linejoin="round"/>
<path d="M160.3 512.6L158.5 506" stroke="#a00000" stroke-width="4.0" fill="none" stroke-linecap="round" stroke-linejoin="round"/>
<path d="M160.3 512.6L158.5 506" stroke="#e01010" stroke-width="3.2" fill="none" stroke-linecap="round" stroke-linejoin="round"/>
<path d="M157.7 526.4L164 523.5L167.8 522" stroke="#9aa010" stroke-width="4.0" fill="none" stroke-linecap="round" stroke-linejoin="round"/>
<path d="M157.7 526.4L164 523.5L167.8 522" stroke="#d8e030" stroke-width="3.2" fill="none" stroke-linecap="round" stroke-linejoin="round"/>
<path d="M164.5 523L168.5 521.5" stroke="#a00000" stroke-width="4.0" fill="none" stroke-linecap="round" stroke-linejoin="round"/>
<path d="M164.5 523L168.5 521.5" stroke="#e01010" stroke-width="3.2" fill="none" stroke-linecap="round" stroke-linejoin="round"/>
<path d="M147.7 530L147.7 552.7L142.7 562.7" stroke="#9aa010" stroke-width="4.0" fill="none" stroke-linecap="round" stroke-linejoin="round"/>
<path d="M147.7 530L147.7 552.7L142.7 562.7" stroke="#d8e030" stroke-width="3.2" fill="none" stroke-linecap="round" stroke-linejoin="round"/>
<path d="M142.7 562.7L140 567.7" stroke="#a00000" stroke-width="4.0" fill="none" stroke-linecap="round" stroke-linejoin="round"/>
<path d="M142.7 562.7L140 567.7" stroke="#e01010" stroke-width="3.2" fill="none" stroke-linecap="round" stroke-linejoin="round"/>
<path d="M140 567.7L135.2 572.7L145.2 580.3L137.7 585.3" stroke="#a05a10" stroke-width="4.0" fill="none" stroke-linecap="round" stroke-linejoin="round"/>
<path d="M140 567.7L135.2 572.7L145.2 580.3L137.7 585.3" stroke="#e08a1a" stroke-width="3.2" fill="none" stroke-linecap="round" stroke-linejoin="round"/>
<path d="M135.2 572.7L131 564" stroke="#a00000" stroke-width="3.8" fill="none" stroke-linecap="round" stroke-linejoin="round"/>
<path d="M135.2 572.7L131 564" stroke="#e01010" stroke-width="3.0" fill="none" stroke-linecap="round" stroke-linejoin="round"/>
<path d="M137.7 585.3L147.7 590.3" stroke="#a00000" stroke-width="3.8" fill="none" stroke-linecap="round" stroke-linejoin="round"/>
<path d="M137.7 585.3L147.7 590.3" stroke="#e01010" stroke-width="3.0" fill="none" stroke-linecap="round" stroke-linejoin="round"/>
<path d="M147.7 590.3L160.3 580.3" stroke="#a05a10" stroke-width="3.8" fill="none" stroke-linecap="round" stroke-linejoin="round"/>
<path d="M147.7 590.3L160.3 580.3" stroke="#e08a1a" stroke-width="3.0" fill="none" stroke-linecap="round" stroke-linejoin="round"/>
<path d="M156 583L160.3 580.3" stroke="#a00000" stroke-width="3.8" fill="none" stroke-linecap="round" stroke-linejoin="round"/>
<path d="M156 583L160.3 580.3" stroke="#e01010" stroke-width="3.0" fill="none" stroke-linecap="round" stroke-linejoin="round"/>
<path d="M147.7 590.3L150.2 600.3L135.2 605.3" stroke="#a05a10" stroke-width="4.0" fill="none" stroke-linecap="round" stroke-linejoin="round"/>
<path d="M147.7 590.3L150.2 600.3L135.2 605.3" stroke="#e08a1a" stroke-width="3.2" fill="none" stroke-linecap="round" stroke-linejoin="round"/>
<path d="M135.2 605.3L125.2 600.3" stroke="#a00000" stroke-width="3.8" fill="none" stroke-linecap="round" stroke-linejoin="round"/>
<path d="M135.2 605.3L125.2 600.3" stroke="#e01010" stroke-width="3.0" fill="none" stroke-linecap="round" stroke-linejoin="round"/>
<path d="M135.2 605.3L135.2 616.6" stroke="#a00000" stroke-width="3.8" fill="none" stroke-linecap="round" stroke-linejoin="round"/>
<path d="M135.2 605.3L135.2 616.6" stroke="#e01010" stroke-width="3.0" fill="none" stroke-linecap="round" stroke-linejoin="round"/>
</g>
<text x="79.6" y="465.4" class="lf b" font-size="11" fill="#111" textLength="12.4" lengthAdjust="spacingAndGlyphs">α2</text>
<text x="159" y="464.4" class="lf b" font-size="10" fill="#111" textLength="28.5" lengthAdjust="spacingAndGlyphs">Ile876</text>
<text x="14" y="538.8" class="lf b" font-size="11" fill="#111" textLength="19.6" lengthAdjust="spacingAndGlyphs">α1’</text>
<text x="196" y="534.2" class="lf b" font-size="11" fill="#111" textLength="12.7" lengthAdjust="spacingAndGlyphs">α1</text>
<text x="102.6" y="574.1" class="lf b" font-size="11" fill="#111" textLength="19.4" lengthAdjust="spacingAndGlyphs">α2’</text>
<text x="39" y="599.6" class="lf b" font-size="11" fill="#2020e0" textLength="23" lengthAdjust="spacingAndGlyphs">RI-2</text>
<text x="56.6" y="628.8" class="lf b" font-size="10" fill="#111" textLength="40.7" lengthAdjust="spacingAndGlyphs">Thr1029</text>
<text x="131" y="635.3" class="lf b" font-size="10.5" fill="#f04030" textLength="54.7" lengthAdjust="spacingAndGlyphs">AMP-PCP</text>
<g clip-path="url(#cG)">
<path d="M244,600 C242,618 232,630 224,640" stroke="#9cceb6" stroke-width="6.4" fill="none" stroke-linecap="round" stroke-linejoin="round" />
<path d="M244,600 C242,618 232,630 224,640" stroke="#c4f1dc" stroke-width="5" fill="none" stroke-linecap="round" stroke-linejoin="round" />
<path d="M244,600 C242,618 232,630 224,640" stroke="#d8f9e9" stroke-width="1.75" fill="none" stroke-linecap="round" stroke-linejoin="round" />
<path d="M214,641 C232,637 250,640 262,650 C266,654 268,658 270,662" stroke="#9cceb6" stroke-width="6.4" fill="none" stroke-linecap="round" stroke-linejoin="round" />
<path d="M214,641 C232,637 250,640 262,650 C266,654 268,658 270,662" stroke="#c4f1dc" stroke-width="5" fill="none" stroke-linecap="round" stroke-linejoin="round" />
<path d="M214,641 C232,637 250,640 262,650 C266,654 268,658 270,662" stroke="#d8f9e9" stroke-width="1.75" fill="none" stroke-linecap="round" stroke-linejoin="round" />
<path d="M402,556 C394,588 398,620 382,662" stroke="#9cceb6" stroke-width="8.4" fill="none" stroke-linecap="round" stroke-linejoin="round" />
<path d="M402,556 C394,588 398,620 382,662" stroke="#c4f1dc" stroke-width="7" fill="none" stroke-linecap="round" stroke-linejoin="round" />
<path d="M402,556 C394,588 398,620 382,662" stroke="#d8f9e9" stroke-width="2.45" fill="none" stroke-linecap="round" stroke-linejoin="round" />
<g><path d="M208 452A14 14 0 1 0 236 452A14 14 0 1 0 208 452ZM214 449A8 5 0 1 0 230 449A8 5 0 1 0 214 449Z" fill="url(#aM)" fill-rule="evenodd" stroke="#8cc6aa" stroke-width="0.6"/><path d="M211 450.5A11 9.9 0 0 0 233 450.5" fill="none" stroke="#d8f9e9" stroke-width="2" opacity="0.85"/></g>
<g><path d="M206 490A14 14 0 1 0 234 490A14 14 0 1 0 206 490ZM212 487A8 5 0 1 0 228 487A8 5 0 1 0 212 487Z" fill="url(#aM)" fill-rule="evenodd" stroke="#8cc6aa" stroke-width="0.6"/><path d="M209 488.5A11 9.9 0 0 0 231 488.5" fill="none" stroke="#d8f9e9" stroke-width="2" opacity="0.85"/></g>
<g transform="rotate(-10 400 628)"><path d="M380 628A20 16 0 1 0 420 628A20 16 0 1 0 380 628ZM388 625A12 5 0 1 0 412 625A12 5 0 1 0 388 625Z" fill="url(#aM)" fill-rule="evenodd" stroke="#8cc6aa" stroke-width="0.6"/><path d="M384 626.5A16 10.9 0 0 0 416 626.5" fill="none" stroke="#d8f9e9" stroke-width="2.4" opacity="0.85"/></g>
<g transform="rotate(-10 402 590)"><path d="M382 590A20 16 0 1 0 422 590A20 16 0 1 0 382 590ZM390 587A12 5 0 1 0 414 587A12 5 0 1 0 390 587Z" fill="url(#aM)" fill-rule="evenodd" stroke="#8cc6aa" stroke-width="0.6"/><path d="M386 588.5A16 10.9 0 0 0 418 588.5" fill="none" stroke="#d8f9e9" stroke-width="2.4" opacity="0.85"/></g>
<g transform="rotate(-10 404 552)"><path d="M384 552A20 16 0 1 0 424 552A20 16 0 1 0 384 552ZM392 549A12 5 0 1 0 416 549A12 5 0 1 0 392 549Z" fill="url(#aM)" fill-rule="evenodd" stroke="#8cc6aa" stroke-width="0.6"/><path d="M388 550.5A16 10.9 0 0 0 420 550.5" fill="none" stroke="#d8f9e9" stroke-width="2.4" opacity="0.85"/></g>
<g transform="rotate(-10 406 515)"><path d="M386 515A20 16 0 1 0 426 515A20 16 0 1 0 386 515ZM394 512A12 5 0 1 0 418 512A12 5 0 1 0 394 512Z" fill="url(#aM)" fill-rule="evenodd" stroke="#8cc6aa" stroke-width="0.6"/><path d="M390 513.5A16 10.9 0 0 0 422 513.5" fill="none" stroke="#d8f9e9" stroke-width="2.4" opacity="0.85"/></g>
<g transform="rotate(-10 408 478)"><path d="M388 478A20 16 0 1 0 428 478A20 16 0 1 0 388 478ZM396 475A12 5 0 1 0 420 475A12 5 0 1 0 396 475Z" fill="url(#aM)" fill-rule="evenodd" stroke="#8cc6aa" stroke-width="0.6"/><path d="M392 476.5A16 10.9 0 0 0 424 476.5" fill="none" stroke="#d8f9e9" stroke-width="2.4" opacity="0.85"/></g>
<g transform="rotate(10 340 640)"><path d="M308 640A32 18 0 1 0 372 640A32 18 0 1 0 308 640ZM316 635A24 6 0 1 0 364 635A24 6 0 1 0 316 635Z" fill="url(#aM)" fill-rule="evenodd" stroke="#8cc6aa" stroke-width="0.6"/><path d="M312 637.5A28 12.8 0 0 0 368 637.5" fill="none" stroke="#d8f9e9" stroke-width="2.6" opacity="0.85"/></g>
<g transform="rotate(10 336 604)"><path d="M304 604A32 18 0 1 0 368 604A32 18 0 1 0 304 604ZM312 599A24 6 0 1 0 360 599A24 6 0 1 0 312 599Z" fill="url(#aM)" fill-rule="evenodd" stroke="#8cc6aa" stroke-width="0.6"/><path d="M308 601.5A28 12.8 0 0 0 364 601.5" fill="none" stroke="#d8f9e9" stroke-width="2.6" opacity="0.85"/></g>
<g transform="rotate(10 332 568)"><path d="M300 568A32 18 0 1 0 364 568A32 18 0 1 0 300 568ZM308 563A24 6 0 1 0 356 563A24 6 0 1 0 308 563Z" fill="url(#aM)" fill-rule="evenodd" stroke="#8cc6aa" stroke-width="0.6"/><path d="M304 565.5A28 12.8 0 0 0 360 565.5" fill="none" stroke="#d8f9e9" stroke-width="2.6" opacity="0.85"/></g>
<g><path d="M326.3 461.7L324.8 462.3L323 463.9L321.3 466.4L319.6 469.7L318.2 473.7L317.3 478.2L316.9 483.1L317.2 488.2L318.2 493.2L320 497.9L322.5 502.1L325.7 505.7L329.5 508.5L333.8 510.4" stroke="#9cceb6" stroke-width="16.2" fill="none" stroke-linecap="butt"/><path d="M326.3 461.7L324.8 462.3L323 463.9L321.3 466.4L319.6 469.7L318.2 473.7L317.3 478.2L316.9 483.1L317.2 488.2L318.2 493.2L320 497.9L322.5 502.1L325.7 505.7L329.5 508.5L333.8 510.4" stroke="#b0d8c4" stroke-width="15" fill="none" stroke-linecap="butt"/><path d="M369.7 485.2L368.2 486L366.5 487.7L364.7 490.4L363.1 493.8L361.8 497.9L360.9 502.6L360.7 507.5L361.1 512.6L362.2 517.5L364.1 522.1L366.8 526.2L370.1 529.7L374 532.3" stroke="#9cceb6" stroke-width="16.2" fill="none" stroke-linecap="butt"/><path d="M369.7 485.2L368.2 486L366.5 487.7L364.7 490.4L363.1 493.8L361.8 497.9L360.9 502.6L360.7 507.5L361.1 512.6L362.2 517.5L364.1 522.1L366.8 526.2L370.1 529.7L374 532.3" stroke="#b0d8c4" stroke-width="15" fill="none" stroke-linecap="butt"/><path d="M414.5 508.7L413.2 508.7L411.6 509.7L409.9 511.6L408.1 514.4L406.6 518L405.3 522.2L404.6 526.9L404.4 531.9L405 536.9L406.3 541.8L408.3 546.4L411.1 550.4L414.5 553.7L418.5 556.2" stroke="#9cceb6" stroke-width="16.2" fill="none" stroke-linecap="butt"/><path d="M414.5 508.7L413.2 508.7L411.6 509.7L409.9 511.6L408.1 514.4L406.6 518L405.3 522.2L404.6 526.9L404.4 531.9L405 536.9L406.3 541.8L408.3 546.4L411.1 550.4L414.5 553.7L418.5 556.2" stroke="#b0d8c4" stroke-width="15" fill="none" stroke-linecap="butt"/><path d="M298.7 488L303.6 487.3L308.4 485.8L313 483.5L317.1 480.7L320.7 477.5L323.6 474.1L325.8 470.8L327.3 467.8L328 465.2L328 463.2L327.4 462L326.3 461.7" stroke="#9cceb6" stroke-width="16.4" fill="none" stroke-linecap="butt"/><path d="M298.7 488L303.6 487.3L308.4 485.8L313 483.5L317.1 480.7L320.7 477.5L323.6 474.1L325.8 470.8L327.3 467.8L328 465.2L328 463.2L327.4 462L326.3 461.7" stroke="#c4f1dc" stroke-width="15" fill="none" stroke-linecap="butt"/><path d="M298.7 488L303.6 487.3L308.4 485.8L313 483.5L317.1 480.7L320.7 477.5L323.6 474.1L325.8 470.8L327.3 467.8L328 465.2L328 463.2L327.4 462L326.3 461.7" stroke="#d8f9e9" stroke-width="5.25" fill="none" stroke-linecap="butt" transform="translate(0,-2.70)"/><path d="M333.8 510.4L338.5 511.4L343.3 511.4L348.3 510.5L353 508.8L357.5 506.4L361.6 503.5L365 500.3L367.8 496.9L369.9 493.7L371.2 490.7L371.8 488.2L371.7 486.4L371 485.3L369.7 485.2" stroke="#9cceb6" stroke-width="16.4" fill="none" stroke-linecap="butt"/><path d="M333.8 510.4L338.5 511.4L343.3 511.4L348.3 510.5L353 508.8L357.5 506.4L361.6 503.5L365 500.3L367.8 496.9L369.9 493.7L371.2 490.7L371.8 488.2L371.7 486.4L371 485.3L369.7 485.2" stroke="#c4f1dc" stroke-width="15" fill="none" stroke-linecap="butt"/><path d="M333.8 510.4L338.5 511.4L343.3 511.4L348.3 510.5L353 508.8L357.5 506.4L361.6 503.5L365 500.3L367.8 496.9L369.9 493.7L371.2 490.7L371.8 488.2L371.7 486.4L371 485.3L369.7 485.2" stroke="#d8f9e9" stroke-width="5.25" fill="none" stroke-linecap="butt" transform="translate(0,-2.70)"/><path d="M374 532.3L378.4 534.1L383.1 534.9L388 534.7L392.9 533.7L397.7 531.9L402.1 529.4L406 526.4L409.4 523.1L412 519.7L414 516.5L415.1 513.6L415.6 511.2L415.3 509.5L414.5 508.7" stroke="#9cceb6" stroke-width="16.4" fill="none" stroke-linecap="butt"/><path d="M374 532.3L378.4 534.1L383.1 534.9L388 534.7L392.9 533.7L397.7 531.9L402.1 529.4L406 526.4L409.4 523.1L412 519.7L414 516.5L415.1 513.6L415.6 511.2L415.3 509.5L414.5 508.7" stroke="#c4f1dc" stroke-width="15" fill="none" stroke-linecap="butt"/><path d="M374 532.3L378.4 534.1L383.1 534.9L388 534.7L392.9 533.7L397.7 531.9L402.1 529.4L406 526.4L409.4 523.1L412 519.7L414 516.5L415.1 513.6L415.6 511.2L415.3 509.5L414.5 508.7" stroke="#d8f9e9" stroke-width="5.25" fill="none" stroke-linecap="butt" transform="translate(0,-2.70)"/><path d="M418.5 556.2L423 557.7L427.8 558.4L432.7 558L437.6 556.8L442.3 554.9L446.6 552.3L450.4 549.2L453.7 545.9" stroke="#9cceb6" stroke-width="16.4" fill="none" stroke-linecap="butt"/><path d="M418.5 556.2L423 557.7L427.8 558.4L432.7 558L437.6 556.8L442.3 554.9L446.6 552.3L450.4 549.2L453.7 545.9" stroke="#c4f1dc" stroke-width="15" fill="none" stroke-linecap="butt"/><path d="M418.5 556.2L423 557.7L427.8 558.4L432.7 558L437.6 556.8L442.3 554.9L446.6 552.3L450.4 549.2L453.7 545.9" stroke="#d8f9e9" stroke-width="5.25" fill="none" stroke-linecap="butt" transform="translate(0,-2.70)"/></g>
<g><path d="M315.5 413.1L314.9 413.8L314.4 415.4L314.1 417.8L314.1 420.9L314.5 424.5L315.3 428.5L316.6 432.6L318.4 436.7L320.7 440.6L323.5 444L326.7 446.8L330.2 449L333.9 450.3L337.8 450.7" stroke="#9cceb6" stroke-width="16.2" fill="none" stroke-linecap="butt"/><path d="M315.5 413.1L314.9 413.8L314.4 415.4L314.1 417.8L314.1 420.9L314.5 424.5L315.3 428.5L316.6 432.6L318.4 436.7L320.7 440.6L323.5 444L326.7 446.8L330.2 449L333.9 450.3L337.8 450.7" stroke="#b0d8c4" stroke-width="15" fill="none" stroke-linecap="butt"/><path d="M362.2 416.4L361.6 417.2L361.1 418.8L360.8 421.2L360.8 424.2L361.2 427.8L362 431.8L363.3 435.9L365.1 440L367.4 443.9L370.2 447.3L373.3 450.2L376.9 452.3L380.6 453.6L384.5 454" stroke="#9cceb6" stroke-width="16.2" fill="none" stroke-linecap="butt"/><path d="M362.2 416.4L361.6 417.2L361.1 418.8L360.8 421.2L360.8 424.2L361.2 427.8L362 431.8L363.3 435.9L365.1 440L367.4 443.9L370.2 447.3L373.3 450.2L376.9 452.3L380.6 453.6L384.5 454" stroke="#b0d8c4" stroke-width="15" fill="none" stroke-linecap="butt"/><path d="M408.8 419.8L408.3 420.5L407.8 422.1L407.5 424.5L407.5 427.6L407.8 431.2L408.7 435.1L410 439.3L411.8 443.4L414.1 447.2L416.8 450.7L420 453.5L423.5 455.6L427.3 456.9L431.2 457.4" stroke="#9cceb6" stroke-width="16.2" fill="none" stroke-linecap="butt"/><path d="M408.8 419.8L408.3 420.5L407.8 422.1L407.5 424.5L407.5 427.6L407.8 431.2L408.7 435.1L410 439.3L411.8 443.4L414.1 447.2L416.8 450.7L420 453.5L423.5 455.6L427.3 456.9L431.2 457.4" stroke="#b0d8c4" stroke-width="15" fill="none" stroke-linecap="butt"/><path d="M308.8 437.2L311.3 433.4L313.4 429.5L314.9 425.7L315.9 422.1L316.5 418.9L316.7 416.2L316.5 414.4L316.1 413.3L315.5 413.1" stroke="#9cceb6" stroke-width="16.4" fill="none" stroke-linecap="butt"/><path d="M308.8 437.2L311.3 433.4L313.4 429.5L314.9 425.7L315.9 422.1L316.5 418.9L316.7 416.2L316.5 414.4L316.1 413.3L315.5 413.1" stroke="#c4f1dc" stroke-width="15" fill="none" stroke-linecap="butt"/><path d="M308.8 437.2L311.3 433.4L313.4 429.5L314.9 425.7L315.9 422.1L316.5 418.9L316.7 416.2L316.5 414.4L316.1 413.3L315.5 413.1" stroke="#d8f9e9" stroke-width="5.25" fill="none" stroke-linecap="butt" transform="translate(0,-2.70)"/><path d="M337.8 450.7L341.7 450.2L345.6 448.9L349.2 446.7L352.5 443.9L355.5 440.5L358 436.8L360 432.9L361.6 429L362.6 425.4L363.2 422.2L363.3 419.6L363.1 417.7L362.7 416.6L362.2 416.4" stroke="#9cceb6" stroke-width="16.4" fill="none" stroke-linecap="butt"/><path d="M337.8 450.7L341.7 450.2L345.6 448.9L349.2 446.7L352.5 443.9L355.5 440.5L358 436.8L360 432.9L361.6 429L362.6 425.4L363.2 422.2L363.3 419.6L363.1 417.7L362.7 416.6L362.2 416.4" stroke="#c4f1dc" stroke-width="15" fill="none" stroke-linecap="butt"/><path d="M337.8 450.7L341.7 450.2L345.6 448.9L349.2 446.7L352.5 443.9L355.5 440.5L358 436.8L360 432.9L361.6 429L362.6 425.4L363.2 422.2L363.3 419.6L363.1 417.7L362.7 416.6L362.2 416.4" stroke="#d8f9e9" stroke-width="5.25" fill="none" stroke-linecap="butt" transform="translate(0,-2.70)"/><path d="M384.5 454L388.4 453.5L392.2 452.2L395.9 450L399.2 447.2L402.2 443.8L404.7 440.1L406.7 436.2L408.2 432.4L409.3 428.7L409.8 425.5L410 422.9L409.8 421L409.4 420L408.8 419.8" stroke="#9cceb6" stroke-width="16.4" fill="none" stroke-linecap="butt"/><path d="M384.5 454L388.4 453.5L392.2 452.2L395.9 450L399.2 447.2L402.2 443.8L404.7 440.1L406.7 436.2L408.2 432.4L409.3 428.7L409.8 425.5L410 422.9L409.8 421L409.4 420L408.8 419.8" stroke="#c4f1dc" stroke-width="15" fill="none" stroke-linecap="butt"/><path d="M384.5 454L388.4 453.5L392.2 452.2L395.9 450L399.2 447.2L402.2 443.8L404.7 440.1L406.7 436.2L408.2 432.4L409.3 428.7L409.8 425.5L410 422.9L409.8 421L409.4 420L408.8 419.8" stroke="#d8f9e9" stroke-width="5.25" fill="none" stroke-linecap="butt" transform="translate(0,-2.70)"/><path d="M431.2 457.4L435.1 456.9L438.9 455.5L442.5 453.4L445.9 450.5L448.8 447.2" stroke="#9cceb6" stroke-width="16.4" fill="none" stroke-linecap="butt"/><path d="M431.2 457.4L435.1 456.9L438.9 455.5L442.5 453.4L445.9 450.5L448.8 447.2" stroke="#c4f1dc" stroke-width="15" fill="none" stroke-linecap="butt"/><path d="M431.2 457.4L435.1 456.9L438.9 455.5L442.5 453.4L445.9 450.5L448.8 447.2" stroke="#d8f9e9" stroke-width="5.25" fill="none" stroke-linecap="butt" transform="translate(0,-2.70)"/></g>
<g transform="rotate(-5 242 576)"><path d="M214 576A28 18 0 1 0 270 576A28 18 0 1 0 214 576ZM224 574A18 6 0 1 0 260 574A18 6 0 1 0 224 574Z" fill="url(#aM)" fill-rule="evenodd" stroke="#8cc6aa" stroke-width="0.6"/><path d="M219 575A23 12.3 0 0 0 265 575" fill="none" stroke="#d8f9e9" stroke-width="2.6" opacity="0.85"/></g>
<g transform="rotate(-5 245 542)"><path d="M215 542A30 22 0 1 0 275 542A30 22 0 1 0 215 542ZM225 539A20 7 0 1 0 265 539A20 7 0 1 0 225 539Z" fill="url(#aM)" fill-rule="evenodd" stroke="#8cc6aa" stroke-width="0.6"/><path d="M220 540.5A25 14.9 0 0 0 270 540.5" fill="none" stroke="#d8f9e9" stroke-width="3.3" opacity="0.85"/></g>
<g transform="rotate(-8 252.7 508.5)"><path d="M221 508.5A31.7 20.5 0 1 0 284.4 508.5A31.7 20.5 0 1 0 221 508.5ZM233.7 506.5A19 6 0 1 0 271.7 506.5A19 6 0 1 0 233.7 506.5Z" fill="url(#aM)" fill-rule="evenodd" stroke="#8cc6aa" stroke-width="0.6"/><path d="M227.3 507.5A25.4 13.6 0 0 0 278.1 507.5" fill="none" stroke="#d8f9e9" stroke-width="3.2" opacity="0.85"/></g>
<g transform="rotate(-10 263.5 478)"><path d="M231 478A32.5 20 0 1 0 296 478A32.5 20 0 1 0 231 478ZM242 475A21.5 6.8 0 1 0 285 475A21.5 6.8 0 1 0 242 475Z" fill="url(#aM)" fill-rule="evenodd" stroke="#8cc6aa" stroke-width="0.6"/><path d="M236.5 476.5A27 13.8 0 0 0 290.5 476.5" fill="none" stroke="#d8f9e9" stroke-width="2.9" opacity="0.85"/></g>
<g transform="rotate(-5 285 448)"><path d="M255 448A30 14 0 1 0 315 448A30 14 0 1 0 255 448ZM265 445A20 5 0 1 0 305 445A20 5 0 1 0 265 445Z" fill="url(#aM)" fill-rule="evenodd" stroke="#8cc6aa" stroke-width="0.6"/><path d="M260 446.5A25 9.9 0 0 0 310 446.5" fill="none" stroke="#d8f9e9" stroke-width="2" opacity="0.85"/></g>
</g>
<g clip-path="url(#cG)">
<path d="M318.8 463.9L327.7 459.4L330.3 453.3" stroke="#1f5a1c" stroke-width="4.0" fill="none" stroke-linecap="round" stroke-linejoin="round"/>
<path d="M318.8 463.9L327.7 459.4L330.3 453.3" stroke="#3a8a34" stroke-width="3.2" fill="none" stroke-linecap="round" stroke-linejoin="round"/>
<path d="M330.3 453.3L333 447.5" stroke="#a00000" stroke-width="4.0" fill="none" stroke-linecap="round" stroke-linejoin="round"/>
<path d="M330.3 453.3L333 447.5" stroke="#e01010" stroke-width="3.2" fill="none" stroke-linecap="round" stroke-linejoin="round"/>
<line x1="333.9" y1="450.6" x2="337.4" y2="478" stroke="#111" stroke-width="1.0" stroke-dasharray="0.9 0.9"/>
<path d="M300.6 489.4L302.2 501.6L296.6 511.3L284.4 514.6" stroke="#1f5a1c" stroke-width="4.0" fill="none" stroke-linecap="round" stroke-linejoin="round"/>
<path d="M300.6 489.4L302.2 501.6L296.6 511.3L284.4 514.6" stroke="#3a8a34" stroke-width="3.2" fill="none" stroke-linecap="round" stroke-linejoin="round"/>
<path d="M284.4 514.6L280.5 516.5" stroke="#a0a010" stroke-width="4.0" fill="none" stroke-linecap="round" stroke-linejoin="round"/>
<path d="M284.4 514.6L280.5 516.5" stroke="#e8e830" stroke-width="3.2" fill="none" stroke-linecap="round" stroke-linejoin="round"/>
<path d="M280.5 516.5L283.6 518.5" stroke="#1f5a1c" stroke-width="4.0" fill="none" stroke-linecap="round" stroke-linejoin="round"/>
<path d="M280.5 516.5L283.6 518.5" stroke="#3a8a34" stroke-width="3.2" fill="none" stroke-linecap="round" stroke-linejoin="round"/>
<path d="M349.8 491.3L364.8 494.8L370 501L384.2 501" stroke="#1f5a1c" stroke-width="4.2" fill="none" stroke-linecap="round" stroke-linejoin="round"/>
<path d="M349.8 491.3L364.8 494.8L370 501L384.2 501" stroke="#3a8a34" stroke-width="3.4" fill="none" stroke-linecap="round" stroke-linejoin="round"/>
<path d="M370 501L363 514.2" stroke="#1f5a1c" stroke-width="4.2" fill="none" stroke-linecap="round" stroke-linejoin="round"/>
<path d="M370 501L363 514.2" stroke="#3a8a34" stroke-width="3.4" fill="none" stroke-linecap="round" stroke-linejoin="round"/>
<path d="M335.6 482.4L332 487.7" stroke="#a00000" stroke-width="4.0" fill="none" stroke-linecap="round" stroke-linejoin="round"/>
<path d="M335.6 482.4L332 487.7" stroke="#e01010" stroke-width="3.2" fill="none" stroke-linecap="round" stroke-linejoin="round"/>
<path d="M332 487.7L330.3 494L337.4 500L327.7 507L331.2 514L324 522" stroke="#2030a0" stroke-width="4.0" fill="none" stroke-linecap="round" stroke-linejoin="round"/>
<path d="M332 487.7L330.3 494L337.4 500L327.7 507L331.2 514L324 522" stroke="#3a5ae8" stroke-width="3.2" fill="none" stroke-linecap="round" stroke-linejoin="round"/>
<path d="M324 522L320 528" stroke="#0a0ab0" stroke-width="4.0" fill="none" stroke-linecap="round" stroke-linejoin="round"/>
<path d="M324 522L320 528" stroke="#1515f0" stroke-width="3.2" fill="none" stroke-linecap="round" stroke-linejoin="round"/>
<path d="M320 526L313.5 528.5" stroke="#a00000" stroke-width="4.0" fill="none" stroke-linecap="round" stroke-linejoin="round"/>
<path d="M320 526L313.5 528.5" stroke="#e01010" stroke-width="3.2" fill="none" stroke-linecap="round" stroke-linejoin="round"/>
<path d="M320 528L318 540L313 555.3L304.2 565.3" stroke="#0a0ab0" stroke-width="4.2" fill="none" stroke-linecap="round" stroke-linejoin="round"/>
<path d="M320 528L318 540L313 555.3L304.2 565.3" stroke="#1515f0" stroke-width="3.4" fill="none" stroke-linecap="round" stroke-linejoin="round"/>
<path d="M306 554.7L301 552" stroke="#803020" stroke-width="4.0" fill="none" stroke-linecap="round" stroke-linejoin="round"/>
<path d="M306 554.7L301 552" stroke="#b05030" stroke-width="3.2" fill="none" stroke-linecap="round" stroke-linejoin="round"/>
<path d="M285.9 571.2L295.4 562.4L304.2 565.3L304.2 577.7L296.5 586.5L286.5 583.6L285.9 571.2" stroke="#0a0ab0" stroke-width="4.4" fill="none" stroke-linecap="round" stroke-linejoin="round"/>
<path d="M285.9 571.2L295.4 562.4L304.2 565.3L304.2 577.7L296.5 586.5L286.5 583.6L285.9 571.2" stroke="#1515f0" stroke-width="3.6" fill="none" stroke-linecap="round" stroke-linejoin="round"/>
<path d="M286.5 583.6L277.7 593.6L278.3 606L287.1 608.3L296.5 600L296.5 586.5" stroke="#0a0ab0" stroke-width="4.4" fill="none" stroke-linecap="round" stroke-linejoin="round"/>
<path d="M286.5 583.6L277.7 593.6L278.3 606L287.1 608.3L296.5 600L296.5 586.5" stroke="#1515f0" stroke-width="3.6" fill="none" stroke-linecap="round" stroke-linejoin="round"/>
<path d="M247.1 564.3L243.1 588.6" stroke="#1f5a1c" stroke-width="4.2" fill="none" stroke-linecap="round" stroke-linejoin="round"/>
<path d="M247.1 564.3L243.1 588.6" stroke="#3a8a34" stroke-width="3.4" fill="none" stroke-linecap="round" stroke-linejoin="round"/>
<path d="M243.1 588.6L248.8 596.7L245.5 606.5L231 606.5L229.3 596.7L243.1 588.6" stroke="#1f5a1c" stroke-width="4.2" fill="none" stroke-linecap="round" stroke-linejoin="round"/>
<path d="M243.1 588.6L248.8 596.7L245.5 606.5L231 606.5L229.3 596.7L243.1 588.6" stroke="#3a8a34" stroke-width="3.4" fill="none" stroke-linecap="round" stroke-linejoin="round"/>
<path d="M229.3 603L231 606.5L236 606.5" stroke="#203090" stroke-width="4.0" fill="none" stroke-linecap="round" stroke-linejoin="round"/>
<path d="M229.3 603L231 606.5L236 606.5" stroke="#3050d0" stroke-width="3.2" fill="none" stroke-linecap="round" stroke-linejoin="round"/>
<path d="M259.4 557.7L268.3 565.3L273 575.3" stroke="#1f5a1c" stroke-width="4.4" fill="none" stroke-linecap="round" stroke-linejoin="round"/>
<path d="M259.4 557.7L268.3 565.3L273 575.3" stroke="#3a8a34" stroke-width="3.6" fill="none" stroke-linecap="round" stroke-linejoin="round"/>
<path d="M273 575.3L283 574.7L284.8 583.6L277.7 590.6L271.2 586L273 575.3" stroke="#1f5a1c" stroke-width="4.4" fill="none" stroke-linecap="round" stroke-linejoin="round"/>
<path d="M273 575.3L283 574.7L284.8 583.6L277.7 590.6L271.2 586L273 575.3" stroke="#3a8a34" stroke-width="3.6" fill="none" stroke-linecap="round" stroke-linejoin="round"/>
<path d="M271.2 586L261.2 593L260.6 607.1L268.9 611.8L276.5 607.1L277.7 590.6" stroke="#1f5a1c" stroke-width="4.4" fill="none" stroke-linecap="round" stroke-linejoin="round"/>
<path d="M271.2 586L261.2 593L260.6 607.1L268.9 611.8L276.5 607.1L277.7 590.6" stroke="#3a8a34" stroke-width="3.6" fill="none" stroke-linecap="round" stroke-linejoin="round"/>
<line x1="277.7" y1="581.8" x2="296.5" y2="577.1" stroke="#40e040" stroke-width="1.3" stroke-dasharray="1.2 1"/>
<line x1="268.3" y1="601.2" x2="288.3" y2="597.1" stroke="#40e040" stroke-width="1.3" stroke-dasharray="1.2 1"/>
<path d="M300.6 628.3L302.2 640.5L308 642" stroke="#1f5a1c" stroke-width="4.2" fill="none" stroke-linecap="round" stroke-linejoin="round"/>
<path d="M300.6 628.3L302.2 640.5L308 642" stroke="#3a8a34" stroke-width="3.4" fill="none" stroke-linecap="round" stroke-linejoin="round"/>
<path d="M302.2 640.5L305 652" stroke="#702010" stroke-width="4.2" fill="none" stroke-linecap="round" stroke-linejoin="round"/>
<path d="M302.2 640.5L305 652" stroke="#a04030" stroke-width="3.4" fill="none" stroke-linecap="round" stroke-linejoin="round"/>
<path d="M340 548L346 543.5L354 547L355 562L348 572L340 566L340 548" stroke="#9aa010" stroke-width="3.8" fill="none" stroke-linecap="round" stroke-linejoin="round"/>
<path d="M340 548L346 543.5L354 547L355 562L348 572L340 566L340 548" stroke="#d8e030" stroke-width="3.0" fill="none" stroke-linecap="round" stroke-linejoin="round"/>
<path d="M346 545L338 560L340 572" stroke="#3050a0" stroke-width="3.5999999999999996" fill="none" stroke-linecap="round" stroke-linejoin="round"/>
<path d="M346 545L338 560L340 572" stroke="#4a80e0" stroke-width="2.8" fill="none" stroke-linecap="round" stroke-linejoin="round"/>
<path d="M354 547L362 551L372 550L380 554L386 550" stroke="#9aa010" stroke-width="3.8" fill="none" stroke-linecap="round" stroke-linejoin="round"/>
<path d="M354 547L362 551L372 550L380 554L386 550" stroke="#d8e030" stroke-width="3.0" fill="none" stroke-linecap="round" stroke-linejoin="round"/>
<path d="M372 550L372.7 541" stroke="#a00000" stroke-width="3.8" fill="none" stroke-linecap="round" stroke-linejoin="round"/>
<path d="M372 550L372.7 541" stroke="#e01010" stroke-width="3.0" fill="none" stroke-linecap="round" stroke-linejoin="round"/>
<path d="M382 552L386 549" stroke="#a00000" stroke-width="3.8" fill="none" stroke-linecap="round" stroke-linejoin="round"/>
<path d="M382 552L386 549" stroke="#e01010" stroke-width="3.0" fill="none" stroke-linecap="round" stroke-linejoin="round"/>
<path d="M365 553L364 565L361.3 573.6" stroke="#9aa010" stroke-width="3.8" fill="none" stroke-linecap="round" stroke-linejoin="round"/>
<path d="M365 553L364 565L361.3 573.6" stroke="#d8e030" stroke-width="3.0" fill="none" stroke-linecap="round" stroke-linejoin="round"/>
<path d="M361.3 573.6L357 578" stroke="#a00000" stroke-width="3.8" fill="none" stroke-linecap="round" stroke-linejoin="round"/>
<path d="M361.3 573.6L357 578" stroke="#e01010" stroke-width="3.0" fill="none" stroke-linecap="round" stroke-linejoin="round"/>
<path d="M357 578L354.2 580.6L347 583" stroke="#a05a10" stroke-width="3.8" fill="none" stroke-linecap="round" stroke-linejoin="round"/>
<path d="M357 578L354.2 580.6L347 583" stroke="#e08a1a" stroke-width="3.0" fill="none" stroke-linecap="round" stroke-linejoin="round"/>
<path d="M347 583L341.8 581.5" stroke="#a00000" stroke-width="3.5999999999999996" fill="none" stroke-linecap="round" stroke-linejoin="round"/>
<path d="M347 583L341.8 581.5" stroke="#e01010" stroke-width="2.8" fill="none" stroke-linecap="round" stroke-linejoin="round"/>
<path d="M354.2 580.6L356.8 592" stroke="#804020" stroke-width="3.5999999999999996" fill="none" stroke-linecap="round" stroke-linejoin="round"/>
<path d="M354.2 580.6L356.8 592" stroke="#b06040" stroke-width="2.8" fill="none" stroke-linecap="round" stroke-linejoin="round"/>
<path d="M354.2 580.6L350 590L347 596.6" stroke="#a05a10" stroke-width="3.8" fill="none" stroke-linecap="round" stroke-linejoin="round"/>
<path d="M354.2 580.6L350 590L347 596.6" stroke="#e08a1a" stroke-width="3.0" fill="none" stroke-linecap="round" stroke-linejoin="round"/>
<path d="M347 596.6L352 600" stroke="#a00000" stroke-width="3.8" fill="none" stroke-linecap="round" stroke-linejoin="round"/>
<path d="M347 596.6L352 600" stroke="#e01010" stroke-width="3.0" fill="none" stroke-linecap="round" stroke-linejoin="round"/>
<path d="M352 600L357.7 601.9L363 601.9" stroke="#a05a10" stroke-width="3.8" fill="none" stroke-linecap="round" stroke-linejoin="round"/>
<path d="M352 600L357.7 601.9L363 601.9" stroke="#e08a1a" stroke-width="3.0" fill="none" stroke-linecap="round" stroke-linejoin="round"/>
<path d="M363 601.9L370 601.9" stroke="#a00000" stroke-width="3.8" fill="none" stroke-linecap="round" stroke-linejoin="round"/>
<path d="M363 601.9L370 601.9" stroke="#e01010" stroke-width="3.0" fill="none" stroke-linecap="round" stroke-linejoin="round"/>
<path d="M357.7 601.9L358 608L356 614.2L350 620" stroke="#9aa010" stroke-width="3.8" fill="none" stroke-linecap="round" stroke-linejoin="round"/>
<path d="M357.7 601.9L358 608L356 614.2L350 620" stroke="#d8e030" stroke-width="3.0" fill="none" stroke-linecap="round" stroke-linejoin="round"/>
<path d="M350 620L343.6 624" stroke="#a05a10" stroke-width="3.8" fill="none" stroke-linecap="round" stroke-linejoin="round"/>
<path d="M350 620L343.6 624" stroke="#e08a1a" stroke-width="3.0" fill="none" stroke-linecap="round" stroke-linejoin="round"/>
<path d="M343.6 624L330.3 618.6" stroke="#804020" stroke-width="3.5999999999999996" fill="none" stroke-linecap="round" stroke-linejoin="round"/>
<path d="M343.6 624L330.3 618.6" stroke="#b06040" stroke-width="2.8" fill="none" stroke-linecap="round" stroke-linejoin="round"/>
<path d="M343.6 624L338.3 637.2" stroke="#a00000" stroke-width="3.5999999999999996" fill="none" stroke-linecap="round" stroke-linejoin="round"/>
<path d="M343.6 624L338.3 637.2" stroke="#e01010" stroke-width="2.8" fill="none" stroke-linecap="round" stroke-linejoin="round"/>
</g>
<text x="289" y="458.6" class="lf b" font-size="10" fill="#111" textLength="31.5" lengthAdjust="spacingAndGlyphs">Ser923</text>
<text x="270.6" y="487.8" class="lf b" font-size="10" fill="#111" textLength="33.7" lengthAdjust="spacingAndGlyphs">Met922</text>
<text x="309.5" y="481.5" class="lf b" font-size="11" fill="#111" textLength="13" lengthAdjust="spacingAndGlyphs">α2</text>
<text x="376.6" y="495.6" class="lf b" font-size="10" fill="#111" textLength="27.4" lengthAdjust="spacingAndGlyphs">Ile876</text>
<text x="235" y="527.5" class="lf b" font-size="11" fill="#111" textLength="18.5" lengthAdjust="spacingAndGlyphs">α1’</text>
<text x="220" y="561.3" class="lf b" font-size="10" fill="#111" textLength="31" lengthAdjust="spacingAndGlyphs">His991</text>
<text x="252.8" y="553.2" class="lf b" font-size="10" fill="#111" textLength="32.2" lengthAdjust="spacingAndGlyphs">Trp994</text>
<text x="402.5" y="565.8" class="lf b" font-size="11" fill="#111" textLength="12" lengthAdjust="spacingAndGlyphs">α1</text>
<text x="316.7" y="594.8" class="lf b" font-size="11" fill="#111" textLength="16.8" lengthAdjust="spacingAndGlyphs">α2’</text>
<text x="293" y="618.2" class="lf b" font-size="11" fill="#2020e0" textLength="23" lengthAdjust="spacingAndGlyphs">RI-2</text>
<text x="259.3" y="644.4" class="lf b" font-size="10" fill="#111" textLength="38.9" lengthAdjust="spacingAndGlyphs">Thr1029</text>
<text x="325" y="654.1" class="lf b" font-size="10.5" fill="#f04030" textLength="55.7" lengthAdjust="spacingAndGlyphs">AMP-PCP</text>
<line x1="78" y1="674.3" x2="108" y2="674.3" stroke="#111" stroke-width="1.3" stroke-dasharray="1 0.8"/>
<text x="110" y="677.5" class="lf b" font-size="9" fill="#111" textLength="29.7" lengthAdjust="spacingAndGlyphs">H-bond</text>
<line x1="144.8" y1="674.3" x2="176" y2="674.3" stroke="#2020e0" stroke-width="1.2" stroke-dasharray="1 0.8"/>
<text x="178" y="677.5" class="lf b" font-size="9" fill="#111" textLength="54.8" lengthAdjust="spacingAndGlyphs">van der Waals</text>
<line x1="240.8" y1="674.3" x2="273" y2="674.3" stroke="#40e040" stroke-width="1.2" stroke-dasharray="1 0.8"/>
<text x="277.5" y="677.5" class="lf b" font-size="9" fill="#111" textLength="48.8" lengthAdjust="spacingAndGlyphs">pi-pi stacking</text>
<path d="M475.5 478L475.5 612" stroke="#111" stroke-width="1.5" />
<path d="M474.8 611.5L677 611.5" stroke="#111" stroke-width="1.5" />
<path d="M471.5 584.4L475.5 584.4" stroke="#111" stroke-width="1.3" />
<text x="470.4" y="588" class="ls b" font-size="10.4" fill="#111" text-anchor="end" textLength="14.8" lengthAdjust="spacingAndGlyphs">1.0</text>
<path d="M471.5 557.9L475.5 557.9" stroke="#111" stroke-width="1.3" />
<text x="470.4" y="561.5" class="ls b" font-size="10.4" fill="#111" text-anchor="end" textLength="14.8" lengthAdjust="spacingAndGlyphs">1.2</text>
<path d="M471.5 531.5L475.5 531.5" stroke="#111" stroke-width="1.3" />
<text x="470.4" y="535.1" class="ls b" font-size="10.4" fill="#111" text-anchor="end" textLength="14.8" lengthAdjust="spacingAndGlyphs">1.4</text>
<path d="M471.5 505L475.5 505" stroke="#111" stroke-width="1.3" />
<text x="470.4" y="508.6" class="ls b" font-size="10.4" fill="#111" text-anchor="end" textLength="14.8" lengthAdjust="spacingAndGlyphs">1.6</text>
<path d="M471.5 478.6L475.5 478.6" stroke="#111" stroke-width="1.3" />
<text x="470.4" y="482.2" class="ls b" font-size="10.4" fill="#111" text-anchor="end" textLength="14.8" lengthAdjust="spacingAndGlyphs">1.8</text>
<path d="M476.8 611.5L476.8 615.7" stroke="#111" stroke-width="1.3" />
<text x="476.8" y="629" class="ls b" font-size="10.4" fill="#111" text-anchor="middle">0.1</text>
<path d="M543 611.5L543 615.7" stroke="#111" stroke-width="1.3" />
<text x="543" y="629" class="ls b" font-size="10.4" fill="#111" text-anchor="middle">1</text>
<path d="M609.2 611.5L609.2 615.7" stroke="#111" stroke-width="1.3" />
<text x="609.2" y="629" class="ls b" font-size="10.4" fill="#111" text-anchor="middle">10</text>
<path d="M675.4 611.5L675.4 615.7" stroke="#111" stroke-width="1.3" />
<text x="675.4" y="629" class="ls b" font-size="10.4" fill="#111" text-anchor="middle">100</text>
<path d="M496.7 611.5L496.7 613.9" stroke="#111" stroke-width="1" />
<path d="M508.4 611.5L508.4 613.9" stroke="#111" stroke-width="1" />
<path d="M516.7 611.5L516.7 613.9" stroke="#111" stroke-width="1" />
<path d="M523.1 611.5L523.1 613.9" stroke="#111" stroke-width="1" />
<path d="M528.3 611.5L528.3 613.9" stroke="#111" stroke-width="1" />
<path d="M532.7 611.5L532.7 613.9" stroke="#111" stroke-width="1" />
<path d="M536.6 611.5L536.6 613.9" stroke="#111" stroke-width="1" />
<path d="M540 611.5L540 613.9" stroke="#111" stroke-width="1" />
<path d="M562.9 611.5L562.9 613.9" stroke="#111" stroke-width="1" />
<path d="M574.6 611.5L574.6 613.9" stroke="#111" stroke-width="1" />
<path d="M582.9 611.5L582.9 613.9" stroke="#111" stroke-width="1" />
<path d="M589.3 611.5L589.3 613.9" stroke="#111" stroke-width="1" />
<path d="M594.5 611.5L594.5 613.9" stroke="#111" stroke-width="1" />
<path d="M598.9 611.5L598.9 613.9" stroke="#111" stroke-width="1" />
<path d="M602.8 611.5L602.8 613.9" stroke="#111" stroke-width="1" />
<path d="M606.2 611.5L606.2 613.9" stroke="#111" stroke-width="1" />
<path d="M629.1 611.5L629.1 613.9" stroke="#111" stroke-width="1" />
<path d="M640.8 611.5L640.8 613.9" stroke="#111" stroke-width="1" />
<path d="M649.1 611.5L649.1 613.9" stroke="#111" stroke-width="1" />
<path d="M655.5 611.5L655.5 613.9" stroke="#111" stroke-width="1" />
<path d="M660.7 611.5L660.7 613.9" stroke="#111" stroke-width="1" />
<path d="M665.1 611.5L665.1 613.9" stroke="#111" stroke-width="1" />
<path d="M669 611.5L669 613.9" stroke="#111" stroke-width="1" />
<path d="M672.4 611.5L672.4 613.9" stroke="#111" stroke-width="1" />
<text x="576.3" y="645" class="ls b" font-size="8.6" fill="#111" text-anchor="middle" textLength="109.7" lengthAdjust="spacingAndGlyphs">Concentration (RI-2 μM)</text>
<text transform="translate(445.3,541) rotate(-90)" class="ls b" font-size="10.4" fill="#111" text-anchor="middle">Change in [Ca<tspan dy="-3.4" font-size="6.5">2+</tspan><tspan dy="3.4">]ER (F/F0)</tspan></text>
<path d="M476.8 586.7L478.1 586.7L479.4 586.7L480.8 586.7L482.1 586.7L483.4 586.7L484.7 586.7L486.1 586.6L487.4 586.6L488.7 586.6L490 586.6L491.4 586.6L492.7 586.6L494 586.5L495.3 586.5L496.7 586.5L498 586.5L499.3 586.5L500.6 586.4L502 586.4L503.3 586.4L504.6 586.4L505.9 586.3L507.3 586.3L508.6 586.3L509.9 586.3L511.2 586.2L512.5 586.2L513.9 586.2L515.2 586.1L516.5 586.1L517.8 586.1L519.2 586L520.5 586L521.8 585.9L523.1 585.9L524.5 585.8L525.8 585.8L527.1 585.8L528.4 585.7L529.8 585.7L531.1 585.6L532.4 585.5L533.7 585.5L535.1 585.4L536.4 585.4L537.7 585.3L539 585.2L540.4 585.2L541.7 585.1L543 585L544.3 584.9L545.6 584.9L547 584.8L548.3 584.7L549.6 584.6L550.9 584.5L552.3 584.4L553.6 584.3L554.9 584.2L556.2 584.1L557.6 584L558.9 583.9L560.2 583.7L561.5 583.6L562.9 583.5L564.2 583.3L565.5 583.2L566.8 583L568.2 582.9L569.5 582.7L570.8 582.6L572.1 582.4L573.5 582.2L574.8 582L576.1 581.8L577.4 581.6L578.7 581.4L580.1 581.2L581.4 581L582.7 580.7L584 580.5L585.4 580.2L586.7 580L588 579.7L589.3 579.4L590.7 579.1L592 578.8L593.3 578.5L594.6 578.2L596 577.8L597.3 577.5L598.6 577.1L599.9 576.7L601.3 576.3L602.6 575.9L603.9 575.5L605.2 575.1L606.6 574.6L607.9 574.1L609.2 573.6L610.5 573.1L611.8 572.6L613.2 572L614.5 571.4L615.8 570.8L617.1 570.2L618.5 569.6L619.8 568.9L621.1 568.2L622.4 567.5L623.8 566.7L625.1 565.9L626.4 565.1L627.7 564.3L629.1 563.4L630.4 562.5L631.7 561.6L633 560.6L634.4 559.6L635.7 558.5L637 557.4L638.3 556.3L639.7 555.1L641 553.8L642.3 552.6L643.6 551.2L644.9 549.9L646.3 548.4L647.6 546.9L648.9 545.4L650.2 543.8L651.6 542.1L652.9 540.4L654.2 538.6L655.5 536.7L656.9 534.8L658.2 532.8L659.5 530.7L660.8 528.5L662.2 526.3L663.5 523.9L664.8 521.5L666.1 519L667.5 516.4L668.8 513.7L670.1 510.8L671.4 507.9L672.8 504.9L674.1 501.7L675.4 498.4" stroke="#111" stroke-width="1.5" fill="none"/>
<path d="M476.8 584.4L508.4 583.1L543 581.8L574.6 580.4L609.2 581.8L640.8 581.8L675.4 577.8" stroke="#2e8b4f" stroke-width="1.3" fill="none"/>
<path d="M476.8 585.7L508.4 588.4L543 585.7L574.6 584.4L609.2 583.1L640.8 581.8L675.4 580.4" stroke="#c0282a" stroke-width="1.3" fill="none"/>
<path d="M476.8 582.4L476.8 586.4" stroke="#2e8b4f" stroke-width="1" />
<path d="M474.2 582.4L479.4 582.4" stroke="#2e8b4f" stroke-width="1" />
<path d="M474.2 586.4L479.4 586.4" stroke="#2e8b4f" stroke-width="1" />
<rect x="474.20" y="581.80" width="5.2" height="5.2" fill="#2e8b4f"/>
<path d="M508.4 579.1L508.4 587" stroke="#2e8b4f" stroke-width="1" />
<path d="M505.8 579.1L511 579.1" stroke="#2e8b4f" stroke-width="1" />
<path d="M505.8 587L511 587" stroke="#2e8b4f" stroke-width="1" />
<rect x="505.79" y="580.48" width="5.2" height="5.2" fill="#2e8b4f"/>
<path d="M543 579.1L543 584.4" stroke="#2e8b4f" stroke-width="1" />
<path d="M540.4 579.1L545.6 579.1" stroke="#2e8b4f" stroke-width="1" />
<path d="M540.4 584.4L545.6 584.4" stroke="#2e8b4f" stroke-width="1" />
<rect x="540.40" y="579.15" width="5.2" height="5.2" fill="#2e8b4f"/>
<path d="M574.6 578.4L574.6 582.4" stroke="#2e8b4f" stroke-width="1" />
<path d="M572 578.4L577.2 578.4" stroke="#2e8b4f" stroke-width="1" />
<path d="M572 582.4L577.2 582.4" stroke="#2e8b4f" stroke-width="1" />
<rect x="571.99" y="577.83" width="5.2" height="5.2" fill="#2e8b4f"/>
<path d="M609.2 579.1L609.2 584.4" stroke="#2e8b4f" stroke-width="1" />
<path d="M606.6 579.1L611.8 579.1" stroke="#2e8b4f" stroke-width="1" />
<path d="M606.6 584.4L611.8 584.4" stroke="#2e8b4f" stroke-width="1" />
<rect x="606.60" y="579.15" width="5.2" height="5.2" fill="#2e8b4f"/>
<path d="M640.8 573.8L640.8 589.7" stroke="#2e8b4f" stroke-width="1" />
<path d="M638.2 573.8L643.4 573.8" stroke="#2e8b4f" stroke-width="1" />
<path d="M638.2 589.7L643.4 589.7" stroke="#2e8b4f" stroke-width="1" />
<rect x="638.19" y="579.15" width="5.2" height="5.2" fill="#2e8b4f"/>
<path d="M675.4 568.5L675.4 587" stroke="#2e8b4f" stroke-width="1" />
<path d="M672.8 568.5L678 568.5" stroke="#2e8b4f" stroke-width="1" />
<path d="M672.8 587L678 587" stroke="#2e8b4f" stroke-width="1" />
<rect x="672.80" y="575.18" width="5.2" height="5.2" fill="#2e8b4f"/>
<path d="M476.8 583.7L476.8 587.7" stroke="#c0282a" stroke-width="1" />
<path d="M474.2 583.7L479.4 583.7" stroke="#c0282a" stroke-width="1" />
<path d="M474.2 587.7L479.4 587.7" stroke="#c0282a" stroke-width="1" />
<circle cx="476.80" cy="585.72" r="2.8" fill="#c0282a"/>
<path d="M508.4 587L508.4 589.7" stroke="#c0282a" stroke-width="1" />
<path d="M505.8 587L511 587" stroke="#c0282a" stroke-width="1" />
<path d="M505.8 589.7L511 589.7" stroke="#c0282a" stroke-width="1" />
<circle cx="508.39" cy="588.37" r="2.8" fill="#c0282a"/>
<path d="M543 580.4L543 591" stroke="#c0282a" stroke-width="1" />
<path d="M540.4 580.4L545.6 580.4" stroke="#c0282a" stroke-width="1" />
<path d="M540.4 591L545.6 591" stroke="#c0282a" stroke-width="1" />
<circle cx="543.00" cy="585.72" r="2.8" fill="#c0282a"/>
<path d="M574.6 581.8L574.6 587" stroke="#c0282a" stroke-width="1" />
<path d="M572 581.8L577.2 581.8" stroke="#c0282a" stroke-width="1" />
<path d="M572 587L577.2 587" stroke="#c0282a" stroke-width="1" />
<circle cx="574.59" cy="584.40" r="2.8" fill="#c0282a"/>
<path d="M609.2 581.1L609.2 585.1" stroke="#c0282a" stroke-width="1" />
<path d="M606.6 581.1L611.8 581.1" stroke="#c0282a" stroke-width="1" />
<path d="M606.6 585.1L611.8 585.1" stroke="#c0282a" stroke-width="1" />
<circle cx="609.20" cy="583.08" r="2.8" fill="#c0282a"/>
<path d="M640.8 579.1L640.8 584.4" stroke="#c0282a" stroke-width="1" />
<path d="M638.2 579.1L643.4 579.1" stroke="#c0282a" stroke-width="1" />
<path d="M638.2 584.4L643.4 584.4" stroke="#c0282a" stroke-width="1" />
<circle cx="640.79" cy="581.75" r="2.8" fill="#c0282a"/>
<path d="M675.4 570.5L675.4 590.4" stroke="#c0282a" stroke-width="1" />
<path d="M672.8 570.5L678 570.5" stroke="#c0282a" stroke-width="1" />
<path d="M672.8 590.4L678 590.4" stroke="#c0282a" stroke-width="1" />
<circle cx="675.40" cy="580.43" r="2.8" fill="#c0282a"/>
<path d="M476.80,584.05 L479.40,587.05 L476.80,590.05 L474.20,587.05Z" fill="#111"/>
<path d="M508.39,584.05 L510.99,587.05 L508.39,590.05 L505.79,587.05Z" fill="#111"/>
<path d="M543.00,582.72 L545.60,585.72 L543.00,588.72 L540.40,585.72Z" fill="#111"/>
<path d="M574.59,577.43 L577.19,580.43 L574.59,583.43 L571.99,580.43Z" fill="#111"/>
<path d="M609.2 569.8L609.2 575.1" stroke="#111" stroke-width="1" />
<path d="M606.6 569.8L611.8 569.8" stroke="#111" stroke-width="1" />
<path d="M606.6 575.1L611.8 575.1" stroke="#111" stroke-width="1" />
<path d="M609.20,569.49 L611.80,572.49 L609.20,575.49 L606.60,572.49Z" fill="#111"/>
<path d="M640.79,550.97 L643.39,553.97 L640.79,556.97 L638.19,553.97Z" fill="#111"/>
<path d="M675.4 495.8L675.4 501.1" stroke="#111" stroke-width="1" />
<path d="M672.8 495.8L678 495.8" stroke="#111" stroke-width="1" />
<path d="M672.8 501.1L678 501.1" stroke="#111" stroke-width="1" />
<path d="M675.40,495.40 L678.00,498.40 L675.40,501.40 L672.80,498.40Z" fill="#111"/>
<path d="M495.5 478.4L508.8 478.4" stroke="#111" stroke-width="1.3" />
<path d="M502.1,475.8 L504.5,478.4 L502.1,481 L499.7,478.4Z" fill="#111"/>
<text x="517.3" y="481.6" class="ls b" font-size="8.6" fill="#111" textLength="35.7" lengthAdjust="spacingAndGlyphs">WT RyR1</text>
<path d="M495.5 489.4L508.8 489.4" stroke="#c0282a" stroke-width="1.3" />
<circle cx="502.1" cy="489.4" r="2.6" fill="#c0282a"/>
<text x="518.3" y="492.6" class="ls b" font-size="8.6" fill="#111" textLength="52" lengthAdjust="spacingAndGlyphs">RyR1-W881A</text>
<path d="M495.5 501.4L508.8 501.4" stroke="#2e8b4f" stroke-width="1.3" />
<rect x="499.6" y="498.9" width="5" height="5" fill="#2e8b4f"/>
<text x="518.8" y="504.6" class="ls b" font-size="8.6" fill="#111" textLength="52" lengthAdjust="spacingAndGlyphs">RyR1-W995A</text>
</svg>
</body></html>
